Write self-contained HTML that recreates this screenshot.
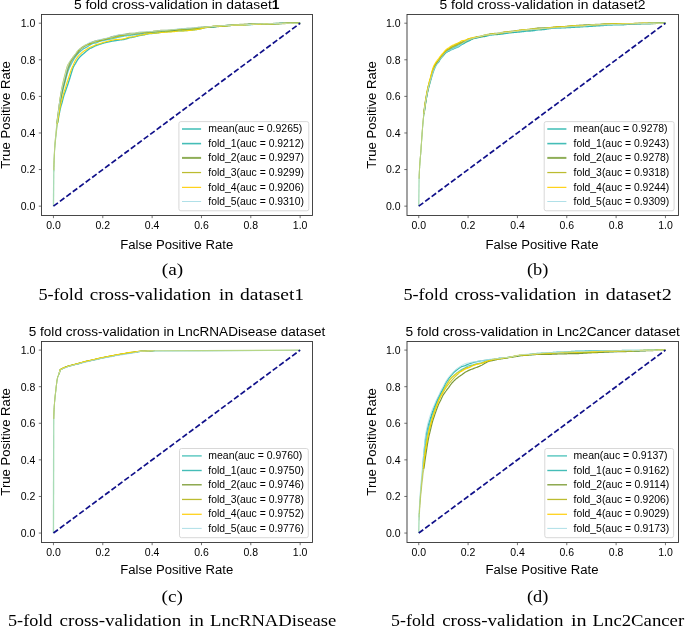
<!DOCTYPE html>
<html><head><meta charset="utf-8"><title>5-fold cross-validation ROC curves</title>
<style>
html,body{margin:0;padding:0;background:#fff;}
body{width:685px;height:628px;overflow:hidden;font-family:"Liberation Sans",sans-serif;}
svg{display:block;will-change:transform}
text{fill:#000}
</style></head><body>
<svg width="685" height="628" viewBox="0 0 685 628">
<defs><filter id="soft" x="-5%" y="-5%" width="110%" height="110%"><feGaussianBlur stdDeviation="0.38"/></filter></defs>
<rect width="685" height="628" fill="#fff"/>
<g transform="translate(0,0)">
<g filter="url(#soft)">
<polyline points="53.83,170.67 53.87,168.27 53.91,166.24 53.95,164.72 53.99,163.42 54.04,162.11 54.09,160.79 54.14,159.48 54.20,158.16 54.25,156.86 54.31,155.57 54.37,154.30 54.43,153.05 54.50,151.82 54.56,150.61 54.63,149.43 54.71,148.27 54.78,147.15 54.86,146.07 54.93,145.01 55.01,143.99 55.10,143.01 55.18,142.06 55.27,141.14 55.36,140.23 55.45,139.33 55.55,138.43 55.65,137.52 55.75,136.57 55.85,135.59 55.95,134.56 56.06,133.50 56.17,132.42 56.28,131.33 56.40,130.25 56.51,129.20 56.63,128.16 56.76,127.13 56.88,126.11 57.01,125.11 57.14,124.11 57.27,123.12" fill="none" stroke="#20b2aa" stroke-opacity="0.39" stroke-width="0.85" stroke-linejoin="round"/>
<polyline points="57.27,123.12 57.40,122.11 57.54,121.11 57.68,120.11 57.82,119.11 57.97,118.11 58.11,117.11 58.26,116.10 58.42,115.09 58.57,114.08 58.73,113.06 58.89,112.02 59.05,110.97 59.22,109.91 59.39,108.85 59.56,107.74 59.73,106.62 59.91,105.50 60.09,104.39 60.27,103.28 60.45,102.19 60.64,101.11 60.83,100.08 61.02,99.06 61.22,98.06 61.41,97.08 61.62,96.09 61.82,95.11 62.02,94.14 62.23,93.18 62.44,92.22 62.66,91.28 62.88,90.34 63.09,89.39 63.32,88.45 63.54,87.51 63.77,86.63 64.00,85.76 64.23,84.89 64.47,84.01 64.71,83.11 64.95,82.21 65.20,81.29 65.44,80.31 65.69,79.33 65.95,78.36 66.20,77.40 66.46,76.44 66.72,75.50 66.99,74.58 67.26,73.63 67.53,72.72 67.80,71.83 68.08,71.00 68.35,70.21 68.64,69.44 68.92,68.69 69.21,68.02 69.50,67.37 69.79,66.74 70.09,66.11 70.39,65.50 70.69,64.91 70.99,64.33 71.30,63.72 71.61,63.13 71.93,62.55 72.24,61.97 72.56,61.39 72.88,60.83 73.21,60.28 73.54,59.74 73.87,59.20 74.20,58.68 74.54,58.16 74.88,57.65 75.22,57.14 75.57,56.64 75.92,56.18 76.27,55.73 76.63,55.29 76.98,54.86 77.35,54.44 77.71,54.03 78.08,53.63 78.45,53.23 78.82,52.84 79.20,52.46 79.57,52.09 79.96,51.74 80.34,51.39 80.73,51.05 81.12,50.70 81.52,50.37 81.91,50.03 82.31,49.69 82.72,49.36 83.12,49.04 83.53,48.72 83.95,48.50 84.36,48.28 84.78,48.07 85.20,47.87 85.63,47.68 86.05,47.49 86.49,47.31 86.92,46.98 87.36,46.67 87.80,46.36 88.24,46.06 88.69,45.77 89.14,45.47 89.59,45.18 90.05,44.91 90.50,44.64 90.97,44.38 91.43,44.13 91.90,43.87 92.37,43.63 92.85,43.39 93.32,43.31 93.81,43.24 94.29,43.16 94.78,43.09 95.27,43.02 95.76,42.96 96.26,42.89 96.76,42.65 97.26,42.42 97.77,42.18 98.28,41.94 98.79,41.71 99.30,41.47 99.82,41.23 100.34,41.11 100.87,40.98 101.40,40.87 101.93,40.76 102.47,40.66 103.00,40.56 103.54,40.45 104.09,40.33 104.64,40.22 105.19,40.11 105.74,40.00 106.30,39.89 106.86,39.78 107.42,39.68 107.99,39.56 108.56,39.45 109.13,39.34 109.71,39.23 110.29,39.12 110.87,39.01 111.46,38.90 112.05,38.74 112.64,38.59 113.24,38.45 113.84,38.30 114.44,38.15 115.05,38.00 115.66,37.84 116.27,37.70 116.89,37.55 117.51,37.40 118.13,37.27 118.75,37.13 119.38,36.99 120.01,36.85 120.65,36.71 121.29,36.59 121.93,36.46 122.58,36.33 123.23,36.20 123.88,36.06 124.53,35.92 125.19,35.85 125.85,35.79 126.52,35.72 127.19,35.65 127.86,35.58 128.54,35.51 129.21,35.43 129.90,35.33 130.58,35.23 131.27,35.14 131.96,35.04 132.66,34.95 133.36,34.85 134.06,34.76 134.76,34.69 135.47,34.62 136.18,34.54 136.90,34.46 137.62,34.38 138.34,34.30 139.07,34.22 139.80,34.02 140.53,33.82 141.26,33.64 142.00,33.45 142.74,33.27 143.49,33.09 144.24,32.92 144.99,32.85 145.75,32.79 146.51,32.73 147.27,32.68 148.04,32.63 148.81,32.58 149.58,32.54 150.36,32.47 151.14,32.41 151.92,32.35 152.71,32.30 153.50,32.24 154.29,32.18 155.09,32.13 155.89,32.10 156.69,32.08 157.50,32.06 158.31,32.03 159.12,32.00 159.94,31.97 160.76,31.94 161.58,31.77 162.41,31.60 163.24,31.43 164.08,31.26 164.92,31.09 165.76,30.92 166.60,30.75 167.45,30.74 168.30,30.73 169.16,30.73 170.02,30.73 170.88,30.72 171.74,30.72 172.61,30.72 173.49,30.60 174.36,30.49 175.24,30.37 176.13,30.26 177.01,30.14 177.90,30.03 178.80,29.92 179.69,29.91 180.59,29.89 181.50,29.87 182.41,29.86 183.32,29.84 184.23,29.82 185.15,29.79 186.07,29.70 187.00,29.61 187.92,29.52 188.86,29.43 189.79,29.33 190.73,29.23 191.67,29.12 192.62,29.04 193.57,28.95 194.52,28.86 195.48,28.77 196.44,28.67 197.40,28.56 198.37,28.44 199.34,28.29 200.32,28.13 201.29,27.96 202.27,27.79 203.26,27.62 204.25,27.45 205.24,27.29 206.24,27.15 207.24,27.03 208.24,26.92 209.24,26.82 210.25,26.74 211.27,26.66 212.28,26.58 213.31,26.54 214.33,26.50 215.36,26.45 216.39,26.41 217.42,26.37 218.46,26.33 219.50,26.29 220.55,26.17 221.60,26.05 222.65,25.93 223.71,25.82 224.77,25.70 225.83,25.59 226.90,25.48 227.97,25.44 229.04,25.40 230.12,25.36 231.20,25.31 232.29,25.27 233.38,25.24 234.47,25.20 235.56,25.12 236.66,25.04 237.77,24.96 238.87,24.89 239.98,24.81 241.10,24.74 242.21,24.67 243.34,24.64 244.46,24.62 245.59,24.60 246.72,24.58 247.86,24.56 249.00,24.54 250.14,24.52 251.29,24.49 252.44,24.45 253.59,24.42 254.75,24.39 255.91,24.35 257.07,24.32 258.24,24.28 259.41,24.24 260.59,24.20 261.77,24.15 262.95,24.11 264.14,24.06 265.33,24.02 266.52,23.98 267.72,23.92 268.92,23.86 270.13,23.80 271.34,23.74 272.55,23.69 273.76,23.63 274.98,23.58 276.21,23.53 277.43,23.48 278.66,23.44 279.90,23.39 281.14,23.35 282.38,23.30 283.62,23.26 284.87,23.26 286.13,23.26 287.38,23.26 288.64,23.26 289.91,23.26 291.17,23.26 292.44,23.26 293.72,23.26 295.00,23.26 296.28,23.26 297.57,23.26 298.86,23.26 300.15,23.20" fill="none" stroke="#20b2aa" stroke-opacity="0.7" stroke-width="1.4" stroke-linejoin="round"/>
<polyline points="53.83,171.51 53.87,169.17 53.91,167.20 53.95,165.74 53.99,164.50 54.04,163.25 54.09,161.99 54.14,160.72 54.20,159.46 54.25,158.20 54.31,156.95 54.37,155.71 54.43,154.48 54.50,153.28 54.56,152.10 54.63,150.95 54.71,149.83 54.78,148.74 54.86,147.68 54.93,146.65 55.01,145.66 55.10,144.70 55.18,143.78 55.27,142.88 55.36,142.01 55.45,141.16 55.55,140.32 55.65,139.48 55.75,138.63 55.85,137.77 55.95,136.87 56.06,135.93 56.17,134.93 56.28,133.90 56.40,132.87 56.51,131.85 56.63,130.83 56.76,129.82 56.88,128.81 57.01,127.82 57.14,126.83 57.27,125.85 57.40,124.88 57.54,123.93 57.68,122.99" fill="none" stroke="#20b2aa" stroke-opacity="0.48" stroke-width="0.85" stroke-linejoin="round"/>
<polyline points="57.68,122.99 57.82,122.06 57.97,121.14 58.11,120.23 58.26,119.33 58.42,118.43 58.57,117.55 58.73,116.67 58.89,115.80 59.05,114.94 59.22,114.08 59.39,113.22 59.56,112.35 59.73,111.48 59.91,110.63 60.09,109.78 60.27,108.94 60.45,108.10 60.64,107.27 60.83,106.59 61.02,105.93 61.22,105.26 61.41,104.61 61.62,103.97 61.82,103.34 62.02,102.72 62.23,101.88 62.44,101.03 62.66,100.19 62.88,99.33 63.09,98.47 63.32,97.61 63.54,96.75 63.77,96.03 64.00,95.32 64.23,94.62 64.47,93.93 64.71,93.25 64.95,92.58 65.20,91.91 65.44,91.22 65.69,90.52 65.95,89.81 66.20,89.08 66.46,88.34 66.72,87.60 66.99,86.86 67.26,86.08 67.53,85.28 67.80,84.47 68.08,83.64 68.35,82.78 68.64,81.89 68.92,80.98 69.21,80.10 69.50,79.19 69.79,78.25 70.09,77.30 70.39,76.34 70.69,75.37 70.99,74.39 71.30,73.34 71.61,72.29 71.93,71.27 72.24,70.26 72.56,69.29 72.88,68.36 73.21,67.47 73.54,66.76 73.87,66.11 74.20,65.52 74.54,64.96 74.88,64.41 75.22,63.87 75.57,63.35 75.92,62.69 76.27,62.04 76.63,61.41 76.98,60.79 77.35,60.19 77.71,59.60 78.08,59.02 78.45,58.57 78.82,58.13 79.20,57.70 79.57,57.28 79.96,56.89 80.34,56.50 80.73,56.12 81.12,55.74 81.52,55.37 81.91,55.01 82.31,54.66 82.72,54.33 83.12,54.00 83.53,53.68 83.95,53.28 84.36,52.90 84.78,52.51 85.20,52.14 85.63,51.77 86.05,51.42 86.49,51.07 86.92,50.71 87.36,50.35 87.80,50.01 88.24,49.67 88.69,49.34 89.14,49.01 89.59,48.69 90.05,48.47 90.50,48.25 90.97,48.02 91.43,47.80 91.90,47.58 92.37,47.36 92.85,47.15 93.32,46.90 93.81,46.66 94.29,46.42 94.78,46.18 95.27,45.95 95.76,45.72 96.26,45.50 96.76,45.31 97.26,45.12 97.77,44.94 98.28,44.76 98.79,44.59 99.30,44.44 99.82,44.28 100.34,44.10 100.87,43.92 101.40,43.74 101.93,43.57 102.47,43.40 103.00,43.24 103.54,43.08 104.09,42.95 104.64,42.82 105.19,42.69 105.74,42.56 106.30,42.43 106.86,42.31 107.42,42.18 107.99,42.05 108.56,41.92 109.13,41.78 109.71,41.65 110.29,41.51 110.87,41.37 111.46,41.24 112.05,41.15 112.64,41.06 113.24,40.97 113.84,40.88 114.44,40.79 115.05,40.71 115.66,40.62 116.27,40.52 116.89,40.42 117.51,40.33 118.13,40.23 118.75,40.14 119.38,40.04 120.01,39.95 120.65,39.88 121.29,39.81 121.93,39.74 122.58,39.66 123.23,39.59 123.88,39.51 124.53,39.43 125.19,39.20 125.85,38.97 126.52,38.74 127.19,38.51 127.86,38.28 128.54,38.05 129.21,37.82 129.90,37.70 130.58,37.59 131.27,37.47 131.96,37.35 132.66,37.23 133.36,37.10 134.06,36.97 134.76,36.79 135.47,36.61 136.18,36.42 136.90,36.23 137.62,36.05 138.34,35.85 139.07,35.66 139.80,35.52 140.53,35.38 141.26,35.25 142.00,35.11 142.74,34.98 143.49,34.86 144.24,34.74 144.99,34.55 145.75,34.38 146.51,34.21 147.27,34.06 148.04,33.92 148.81,33.78 149.58,33.65 150.36,33.59 151.14,33.54 151.92,33.48 152.71,33.43 153.50,33.38 154.29,33.33 155.09,33.28 155.89,33.15 156.69,33.01 157.50,32.88 158.31,32.75 159.12,32.63 159.94,32.50 160.76,32.37 161.58,32.28 162.41,32.19 163.24,32.09 164.08,32.00 164.92,31.90 165.76,31.80 166.60,31.71 167.45,31.67 168.30,31.62 169.16,31.57 170.02,31.53 170.88,31.49 171.74,31.44 172.61,31.40 173.49,31.32 174.36,31.25 175.24,31.17 176.13,31.09 177.01,31.02 177.90,30.94 178.80,30.86 179.69,30.84 180.59,30.81 181.50,30.78 182.41,30.75 183.32,30.72 184.23,30.69 185.15,30.65 186.07,30.58 187.00,30.51 187.92,30.43 188.86,30.35 189.79,30.27 190.73,30.19 191.67,30.11 192.62,29.99 193.57,29.88 194.52,29.76 195.48,29.63 196.44,29.50 197.40,29.35 198.37,29.18 199.34,28.99 200.32,28.79 201.29,28.57 202.27,28.35 203.26,28.12 204.25,27.89 205.24,27.67 206.24,27.55 207.24,27.44 208.24,27.35 209.24,27.28 210.25,27.25 211.27,27.22 212.28,27.19 213.31,27.04 214.33,26.89 215.36,26.74 216.39,26.59 217.42,26.45 218.46,26.31 219.50,26.17 220.55,26.11 221.60,26.05 222.65,26.00 223.71,25.95 224.77,25.89 225.83,25.84 226.90,25.79 227.97,25.68 229.04,25.58 230.12,25.47 231.20,25.37 232.29,25.27 233.38,25.17 234.47,25.08 235.56,25.05 236.66,25.03 237.77,25.00 238.87,24.98 239.98,24.96 241.10,24.94 242.21,24.92 243.34,24.85 244.46,24.78 245.59,24.72 246.72,24.65 247.86,24.59 249.00,24.53 250.14,24.47 251.29,24.42 252.44,24.36 253.59,24.31 254.75,24.25 255.91,24.20 257.07,24.15 258.24,24.10 259.41,24.07 260.59,24.05 261.77,24.03 262.95,24.01 264.14,23.99 265.33,23.96 266.52,23.94 267.72,23.91 268.92,23.88 270.13,23.85 271.34,23.82 272.55,23.79 273.76,23.76 274.98,23.73 276.21,23.67 277.43,23.62 278.66,23.57 279.90,23.52 281.14,23.47 282.38,23.42 283.62,23.37 284.87,23.36 286.13,23.35 287.38,23.33 288.64,23.32 289.91,23.31 291.17,23.30 292.44,23.30 293.72,23.28 295.00,23.26 296.28,23.25 297.57,23.24 298.86,23.23 300.15,23.20" fill="none" stroke="#20b2aa" stroke-opacity="0.88" stroke-width="1.35" stroke-linejoin="round"/>
<polyline points="53.83,170.22 53.87,167.78 53.91,165.72 53.95,164.16 53.99,162.83 54.04,161.48 54.09,160.13 54.14,158.78 54.20,157.43 54.25,156.10 54.31,154.77 54.37,153.47 54.43,152.19 54.50,150.93 54.56,149.70 54.63,148.51 54.71,147.34 54.78,146.21 54.86,145.12 54.93,144.05 55.01,143.02 55.10,142.04 55.18,141.09 55.27,140.16 55.36,139.24 55.45,138.33 55.55,137.41 55.65,136.48 55.75,135.49 55.85,134.46 55.95,133.36 56.06,132.25 56.17,131.14 56.28,130.04 56.40,128.95 56.51,127.86 56.63,126.78 56.76,125.71 56.88,124.65 57.01,123.60" fill="none" stroke="#6b8e23" stroke-opacity="0.40" stroke-width="0.85" stroke-linejoin="round"/>
<polyline points="57.01,123.60 57.14,122.56 57.27,121.52 57.40,120.52 57.54,119.52 57.68,118.52 57.82,117.52 57.97,116.51 58.11,115.50 58.26,114.48 58.42,113.34 58.57,112.17 58.73,110.97 58.89,109.74 59.05,108.50 59.22,107.23 59.39,105.95 59.56,104.78 59.73,103.62 59.91,102.46 60.09,101.30 60.27,100.16 60.45,99.03 60.64,97.93 60.83,96.78 61.02,95.69 61.22,94.64 61.41,93.63 61.62,92.64 61.82,91.66 62.02,90.70 62.23,89.79 62.44,88.91 62.66,88.03 62.88,87.17 63.09,86.31 63.32,85.47 63.54,84.64 63.77,83.74 64.00,82.85 64.23,81.94 64.47,81.02 64.71,80.07 64.95,79.09 65.20,78.11 65.44,77.13 65.69,76.12 65.95,75.12 66.20,74.13 66.46,73.15 66.72,72.15 66.99,71.19 67.26,70.27 67.53,69.39 67.80,68.55 68.08,67.78 68.35,67.05 68.64,66.36 68.92,65.68 69.21,64.92 69.50,64.19 69.79,63.49 70.09,62.80 70.39,62.14 70.69,61.53 70.99,60.94 71.30,60.44 71.61,59.97 71.93,59.51 72.24,59.06 72.56,58.63 72.88,58.20 73.21,57.76 73.54,57.35 73.87,56.94 74.20,56.55 74.54,56.15 74.88,55.75 75.22,55.34 75.57,54.94 75.92,54.49 76.27,54.06 76.63,53.63 76.98,53.20 77.35,52.79 77.71,52.40 78.08,52.00 78.45,51.50 78.82,51.01 79.20,50.53 79.57,50.06 79.96,49.61 80.34,49.16 80.73,48.73 81.12,48.41 81.52,48.10 81.91,47.79 82.31,47.50 82.72,47.20 83.12,46.92 83.53,46.64 83.95,46.38 84.36,46.12 84.78,45.86 85.20,45.63 85.63,45.39 86.05,45.16 86.49,44.94 86.92,44.74 87.36,44.53 87.80,44.34 88.24,44.16 88.69,43.98 89.14,43.80 89.59,43.64 90.05,43.40 90.50,43.16 90.97,42.93 91.43,42.70 91.90,42.47 92.37,42.26 92.85,42.04 93.32,41.87 93.81,41.71 94.29,41.55 94.78,41.39 95.27,41.24 95.76,41.10 96.26,40.96 96.76,40.87 97.26,40.78 97.77,40.69 98.28,40.60 98.79,40.50 99.30,40.41 99.82,40.33 100.34,40.19 100.87,40.06 101.40,39.92 101.93,39.77 102.47,39.63 103.00,39.48 103.54,39.35 104.09,39.25 104.64,39.15 105.19,39.05 105.74,38.96 106.30,38.86 106.86,38.76 107.42,38.67 107.99,38.43 108.56,38.20 109.13,37.96 109.71,37.72 110.29,37.49 110.87,37.25 111.46,37.02 112.05,36.90 112.64,36.78 113.24,36.66 113.84,36.53 114.44,36.40 115.05,36.27 115.66,36.15 116.27,36.01 116.89,35.87 117.51,35.73 118.13,35.60 118.75,35.46 119.38,35.33 120.01,35.20 120.65,35.12 121.29,35.04 121.93,34.96 122.58,34.89 123.23,34.80 123.88,34.72 124.53,34.64 125.19,34.51 125.85,34.36 126.52,34.22 127.19,34.09 127.86,33.96 128.54,33.83 129.21,33.70 129.90,33.70 130.58,33.70 131.27,33.70 131.96,33.70 132.66,33.70 133.36,33.70 134.06,33.70 134.76,33.65 135.47,33.48 136.18,33.32 136.90,33.16 137.62,32.99 138.34,32.82 139.07,32.66 139.80,32.66 140.53,32.66 141.26,32.66 142.00,32.66 142.74,32.66 143.49,32.66 144.24,32.66 144.99,32.61 145.75,32.53 146.51,32.46 147.27,32.38 148.04,32.31 148.81,32.25 149.58,32.18 150.36,32.08 151.14,31.98 151.92,31.88 152.71,31.78 153.50,31.67 154.29,31.57 155.09,31.47 155.89,31.36 156.69,31.25 157.50,31.14 158.31,31.03 159.12,30.92 159.94,30.81 160.76,30.70 161.58,30.70 162.41,30.70 163.24,30.70 164.08,30.70 164.92,30.70 165.76,30.70 166.60,30.70 167.45,30.68 168.30,30.63 169.16,30.59 170.02,30.53 170.88,30.48 171.74,30.42 172.61,30.36 173.49,30.24 174.36,30.12 175.24,30.00 176.13,29.89 177.01,29.77 177.90,29.65 178.80,29.53 179.69,29.43 180.59,29.33 181.50,29.23 182.41,29.13 183.32,29.03 184.23,28.93 185.15,28.83 186.07,28.78 187.00,28.73 187.92,28.68 188.86,28.62 189.79,28.57 190.73,28.52 191.67,28.47 192.62,28.36 193.57,28.25 194.52,28.13 195.48,28.02 196.44,27.92 197.40,27.81 198.37,27.70 199.34,27.63 200.32,27.56 201.29,27.48 202.27,27.40 203.26,27.32 204.25,27.24 205.24,27.15 206.24,27.08 207.24,27.01 208.24,26.94 209.24,26.88 210.25,26.82 211.27,26.76 212.28,26.70 213.31,26.63 214.33,26.56 215.36,26.49 216.39,26.41 217.42,26.34 218.46,26.27 219.50,26.20 220.55,26.11 221.60,26.02 222.65,25.93 223.71,25.85 224.77,25.76 225.83,25.67 226.90,25.59 227.97,25.49 229.04,25.40 230.12,25.31 231.20,25.22 232.29,25.13 233.38,25.04 234.47,24.95 235.56,24.91 236.66,24.86 237.77,24.81 238.87,24.77 239.98,24.73 241.10,24.68 242.21,24.65 243.34,24.56 244.46,24.48 245.59,24.41 246.72,24.34 247.86,24.26 249.00,24.20 250.14,24.13 251.29,24.13 252.44,24.13 253.59,24.12 254.75,24.12 255.91,24.12 257.07,24.12 258.24,24.11 259.41,24.08 260.59,24.05 261.77,24.02 262.95,23.99 264.14,23.96 265.33,23.93 266.52,23.90 267.72,23.87 268.92,23.84 270.13,23.82 271.34,23.79 272.55,23.76 273.76,23.73 274.98,23.70 276.21,23.64 277.43,23.58 278.66,23.52 279.90,23.46 281.14,23.40 282.38,23.35 283.62,23.30 284.87,23.27 286.13,23.24 287.38,23.22 288.64,23.20 289.91,23.20 291.17,23.20 292.44,23.20 293.72,23.20 295.00,23.20 296.28,23.20 297.57,23.20 298.86,23.20 300.15,23.20" fill="none" stroke="#6b8e23" stroke-opacity="0.72" stroke-width="1.75" stroke-linejoin="round"/>
<polyline points="53.83,170.05 53.87,167.59 53.91,165.51 53.95,163.94 53.99,162.59 54.04,161.22 54.09,159.85 54.14,158.49 54.20,157.13 54.25,155.79 54.31,154.47 54.37,153.16 54.43,151.88 54.50,150.63 54.56,149.39 54.63,148.19 54.71,147.02 54.78,145.89 54.86,144.79 54.93,143.73 55.01,142.69 55.10,141.69 55.18,140.71 55.27,139.74 55.36,138.79 55.45,137.83 55.55,136.86 55.65,135.87 55.75,134.85 55.85,133.78 55.95,132.64 56.06,131.48 56.17,130.34 56.28,129.21 56.40,128.09 56.51,126.95 56.63,125.82 56.76,124.70 56.88,123.59" fill="none" stroke="#bfbf00" stroke-opacity="0.45" stroke-width="0.85" stroke-linejoin="round"/>
<polyline points="56.88,123.59 57.01,122.48 57.14,121.38 57.27,120.28 57.40,119.24 57.54,118.20 57.68,117.16 57.82,116.11 57.97,115.05 58.11,113.98 58.26,112.89 58.42,111.71 58.57,110.50 58.73,109.24 58.89,107.95 59.05,106.63 59.22,105.29 59.39,103.93 59.56,102.57 59.73,101.21 59.91,99.85 60.09,98.50 60.27,97.17 60.45,95.86 60.64,94.59 60.83,93.40 61.02,92.27 61.22,91.20 61.41,90.16 61.62,89.14 61.82,88.14 62.02,87.16 62.23,86.11 62.44,85.09 62.66,84.06 62.88,83.05 63.09,82.07 63.32,81.10 63.54,80.13 63.77,79.24 64.00,78.34 64.23,77.42 64.47,76.49 64.71,75.53 64.95,74.55 65.20,73.57 65.44,72.59 65.69,71.59 65.95,70.64 66.20,69.73 66.46,68.82 66.72,67.93 66.99,67.06 67.26,66.30 67.53,65.61 67.80,64.98 68.08,64.44 68.35,63.98 68.64,63.54 68.92,63.14 69.21,62.66 69.50,62.19 69.79,61.73 70.09,61.30 70.39,60.89 70.69,60.49 70.99,60.11 71.30,59.67 71.61,59.23 71.93,58.78 72.24,58.31 72.56,57.82 72.88,57.33 73.21,56.82 73.54,56.42 73.87,56.02 74.20,55.62 74.54,55.23 74.88,54.82 75.22,54.42 75.57,54.01 75.92,53.46 76.27,52.92 76.63,52.38 76.98,51.85 77.35,51.33 77.71,50.83 78.08,50.34 78.45,50.04 78.82,49.76 79.20,49.50 79.57,49.27 79.96,49.05 80.34,48.83 80.73,48.63 81.12,48.28 81.52,47.96 81.91,47.64 82.31,47.32 82.72,47.02 83.12,46.72 83.53,46.43 83.95,46.19 84.36,45.98 84.78,45.76 85.20,45.55 85.63,45.35 86.05,45.15 86.49,44.97 86.92,44.84 87.36,44.72 87.80,44.60 88.24,44.48 88.69,44.37 89.14,44.26 89.59,44.16 90.05,43.93 90.50,43.70 90.97,43.48 91.43,43.26 91.90,43.04 92.37,42.82 92.85,42.60 93.32,42.46 93.81,42.33 94.29,42.19 94.78,42.06 95.27,41.93 95.76,41.81 96.26,41.69 96.76,41.59 97.26,41.49 97.77,41.39 98.28,41.29 98.79,41.19 99.30,41.08 99.82,40.98 100.34,40.75 100.87,40.51 101.40,40.28 101.93,40.05 102.47,39.82 103.00,39.59 103.54,39.37 104.09,39.24 104.64,39.11 105.19,38.98 105.74,38.86 106.30,38.73 106.86,38.61 107.42,38.49 107.99,38.40 108.56,38.32 109.13,38.23 109.71,38.14 110.29,38.05 110.87,37.96 111.46,37.87 112.05,37.76 112.64,37.66 113.24,37.55 113.84,37.45 114.44,37.34 115.05,37.23 115.66,37.12 116.27,36.95 116.89,36.78 117.51,36.61 118.13,36.43 118.75,36.26 119.38,36.08 120.01,35.91 120.65,35.79 121.29,35.67 121.93,35.55 122.58,35.43 123.23,35.31 123.88,35.19 124.53,35.07 125.19,34.91 125.85,34.75 126.52,34.59 127.19,34.43 127.86,34.28 128.54,34.13 129.21,33.97 129.90,33.90 130.58,33.84 131.27,33.77 131.96,33.71 132.66,33.65 133.36,33.59 134.06,33.53 134.76,33.41 135.47,33.29 136.18,33.17 136.90,33.05 137.62,32.92 138.34,32.80 139.07,32.69 139.80,32.65 140.53,32.61 141.26,32.58 142.00,32.55 142.74,32.52 143.49,32.49 144.24,32.46 144.99,32.37 145.75,32.28 146.51,32.20 147.27,32.12 148.04,32.04 148.81,31.97 149.58,31.89 150.36,31.79 151.14,31.69 151.92,31.59 152.71,31.49 153.50,31.39 154.29,31.30 155.09,31.20 155.89,31.15 156.69,31.09 157.50,31.04 158.31,30.98 159.12,30.93 159.94,30.87 160.76,30.81 161.58,30.77 162.41,30.73 163.24,30.69 164.08,30.65 164.92,30.61 165.76,30.56 166.60,30.52 167.45,30.41 168.30,30.29 169.16,30.18 170.02,30.07 170.88,29.96 171.74,29.85 172.61,29.75 173.49,29.72 174.36,29.69 175.24,29.66 176.13,29.64 177.01,29.61 177.90,29.58 178.80,29.55 179.69,29.48 180.59,29.41 181.50,29.35 182.41,29.28 183.32,29.21 184.23,29.14 185.15,29.06 186.07,29.05 187.00,29.05 187.92,29.04 188.86,29.03 189.79,29.02 190.73,29.01 191.67,29.00 192.62,28.89 193.57,28.78 194.52,28.67 195.48,28.55 196.44,28.44 197.40,28.32 198.37,28.19 199.34,28.03 200.32,27.87 201.29,27.71 202.27,27.55 203.26,27.38 204.25,27.22 205.24,27.06 206.24,26.95 207.24,26.85 208.24,26.75 209.24,26.66 210.25,26.57 211.27,26.49 212.28,26.40 213.31,26.33 214.33,26.26 215.36,26.18 216.39,26.11 217.42,26.04 218.46,25.96 219.50,25.89 220.55,25.84 221.60,25.79 222.65,25.74 223.71,25.68 224.77,25.63 225.83,25.58 226.90,25.53 227.97,25.45 229.04,25.37 230.12,25.28 231.20,25.20 232.29,25.12 233.38,25.05 234.47,24.97 235.56,24.93 236.66,24.89 237.77,24.86 238.87,24.82 239.98,24.79 241.10,24.75 242.21,24.72 243.34,24.66 244.46,24.61 245.59,24.55 246.72,24.50 247.86,24.46 249.00,24.41 250.14,24.36 251.29,24.35 252.44,24.34 253.59,24.33 254.75,24.32 255.91,24.30 257.07,24.29 258.24,24.28 259.41,24.20 260.59,24.12 261.77,24.04 262.95,23.96 264.14,23.89 265.33,23.81 266.52,23.74 267.72,23.72 268.92,23.70 270.13,23.68 271.34,23.67 272.55,23.65 273.76,23.63 274.98,23.61 276.21,23.59 277.43,23.57 278.66,23.55 279.90,23.53 281.14,23.51 282.38,23.49 283.62,23.47 284.87,23.41 286.13,23.36 287.38,23.31 288.64,23.26 289.91,23.21 291.17,23.20 292.44,23.20 293.72,23.20 295.00,23.20 296.28,23.20 297.57,23.20 298.86,23.20 300.15,23.20" fill="none" stroke="#bfbf00" stroke-opacity="0.82" stroke-width="1.05" stroke-linejoin="round"/>
<polyline points="53.83,171.14 53.87,168.77 53.91,166.78 53.95,165.30 53.99,164.03 54.04,162.76 54.09,161.47 54.14,160.19 54.20,158.91 54.25,157.63 54.31,156.37 54.37,155.12 54.43,153.90 54.50,152.69 54.56,151.49 54.63,150.31 54.71,149.16 54.78,148.04 54.86,146.95 54.93,145.90 55.01,144.87 55.10,143.90 55.18,142.96 55.27,142.05 55.36,141.16 55.45,140.29 55.55,139.42 55.65,138.56 55.75,137.66 55.85,136.73 55.95,135.77 56.06,134.78 56.17,133.74 56.28,132.67 56.40,131.62 56.51,130.57 56.63,129.53 56.76,128.50 56.88,127.48 57.01,126.47 57.14,125.47 57.27,124.47 57.40,123.49" fill="none" stroke="#ffd700" stroke-opacity="0.51" stroke-width="0.85" stroke-linejoin="round"/>
<polyline points="57.40,123.49 57.54,122.53 57.68,121.57 57.82,120.62 57.97,119.68 58.11,118.74 58.26,117.81 58.42,116.88 58.57,115.94 58.73,115.00 58.89,114.06 59.05,113.13 59.22,112.20 59.39,111.28 59.56,110.28 59.73,109.30 59.91,108.33 60.09,107.37 60.27,106.41 60.45,105.46 60.64,104.52 60.83,103.71 61.02,102.94 61.22,102.18 61.41,101.43 61.62,100.71 61.82,100.00 62.02,99.30 62.23,98.47 62.44,97.65 62.66,96.83 62.88,96.01 63.09,95.20 63.32,94.37 63.54,93.54 63.77,92.84 64.00,92.14 64.23,91.44 64.47,90.76 64.71,90.05 64.95,89.32 65.20,88.59 65.44,87.76 65.69,86.94 65.95,86.08 66.20,85.21 66.46,84.34 66.72,83.43 66.99,82.52 67.26,81.70 67.53,80.88 67.80,80.09 68.08,79.29 68.35,78.49 68.64,77.66 68.92,76.80 69.21,75.87 69.50,74.93 69.79,74.00 70.09,73.07 70.39,72.15 70.69,71.24 70.99,70.32 71.30,69.53 71.61,68.75 71.93,68.00 72.24,67.28 72.56,66.58 72.88,65.89 73.21,65.25 73.54,64.41 73.87,63.62 74.20,62.90 74.54,62.18 74.88,61.48 75.22,60.78 75.57,60.09 75.92,59.54 76.27,58.99 76.63,58.46 76.98,57.94 77.35,57.44 77.71,56.94 78.08,56.44 78.45,56.01 78.82,55.60 79.20,55.20 79.57,54.82 79.96,54.46 80.34,54.12 80.73,53.78 81.12,53.39 81.52,53.01 81.91,52.66 82.31,52.32 82.72,52.00 83.12,51.69 83.53,51.37 83.95,51.07 84.36,50.77 84.78,50.48 85.20,50.19 85.63,49.92 86.05,49.66 86.49,49.41 86.92,49.12 87.36,48.84 87.80,48.57 88.24,48.30 88.69,48.05 89.14,47.80 89.59,47.55 90.05,47.35 90.50,47.14 90.97,46.94 91.43,46.74 91.90,46.54 92.37,46.34 92.85,46.14 93.32,45.92 93.81,45.70 94.29,45.48 94.78,45.27 95.27,45.05 95.76,44.84 96.26,44.64 96.76,44.48 97.26,44.34 97.77,44.21 98.28,44.07 98.79,43.95 99.30,43.82 99.82,43.69 100.34,43.50 100.87,43.31 101.40,43.12 101.93,42.94 102.47,42.75 103.00,42.57 103.54,42.38 104.09,42.23 104.64,42.08 105.19,41.94 105.74,41.80 106.30,41.68 106.86,41.55 107.42,41.42 107.99,41.26 108.56,41.10 109.13,40.94 109.71,40.79 110.29,40.63 110.87,40.48 111.46,40.33 112.05,40.21 112.64,40.09 113.24,39.98 113.84,39.86 114.44,39.75 115.05,39.64 115.66,39.52 116.27,39.50 116.89,39.48 117.51,39.46 118.13,39.45 118.75,39.44 119.38,39.42 120.01,39.40 120.65,39.31 121.29,39.20 121.93,39.09 122.58,38.98 123.23,38.87 123.88,38.76 124.53,38.65 125.19,38.45 125.85,38.24 126.52,38.02 127.19,37.81 127.86,37.59 128.54,37.37 129.21,37.16 129.90,37.09 130.58,37.03 131.27,36.97 131.96,36.91 132.66,36.83 133.36,36.75 134.06,36.66 134.76,36.48 135.47,36.29 136.18,36.10 136.90,35.91 137.62,35.72 138.34,35.53 139.07,35.34 139.80,35.23 140.53,35.11 141.26,34.99 142.00,34.88 142.74,34.78 143.49,34.68 144.24,34.59 144.99,34.39 145.75,34.21 146.51,34.03 147.27,33.86 148.04,33.71 148.81,33.56 149.58,33.42 150.36,33.39 151.14,33.36 151.92,33.33 152.71,33.30 153.50,33.28 154.29,33.25 155.09,33.23 155.89,33.13 156.69,33.04 157.50,32.94 158.31,32.84 159.12,32.74 159.94,32.64 160.76,32.55 161.58,32.49 162.41,32.44 163.24,32.38 164.08,32.31 164.92,32.25 165.76,32.19 166.60,32.13 167.45,32.08 168.30,32.02 169.16,31.97 170.02,31.92 170.88,31.86 171.74,31.82 172.61,31.77 173.49,31.67 174.36,31.57 175.24,31.47 176.13,31.37 177.01,31.26 177.90,31.16 178.80,31.05 179.69,31.02 180.59,30.98 181.50,30.95 182.41,30.91 183.32,30.87 184.23,30.83 185.15,30.79 186.07,30.72 187.00,30.65 187.92,30.58 188.86,30.50 189.79,30.43 190.73,30.35 191.67,30.26 192.62,30.15 193.57,30.04 194.52,29.92 195.48,29.80 196.44,29.67 197.40,29.52 198.37,29.34 199.34,29.13 200.32,28.90 201.29,28.66 202.27,28.42 203.26,28.17 204.25,27.92 205.24,27.68 206.24,27.45 207.24,27.24 208.24,27.04 209.24,26.87 210.25,26.73 211.27,26.60 212.28,26.47 213.31,26.42 214.33,26.37 215.36,26.33 216.39,26.28 217.42,26.24 218.46,26.19 219.50,26.15 220.55,26.11 221.60,26.07 222.65,26.03 223.71,25.99 224.77,25.95 225.83,25.91 226.90,25.88 227.97,25.76 229.04,25.64 230.12,25.53 231.20,25.42 232.29,25.31 233.38,25.20 234.47,25.09 235.56,25.09 236.66,25.09 237.77,25.09 238.87,25.09 239.98,25.09 241.10,25.09 242.21,25.09 243.34,25.03 244.46,24.94 245.59,24.85 246.72,24.76 247.86,24.67 249.00,24.59 250.14,24.51 251.29,24.45 252.44,24.40 253.59,24.35 254.75,24.30 255.91,24.25 257.07,24.20 258.24,24.15 259.41,24.10 260.59,24.06 261.77,24.02 262.95,23.98 264.14,23.94 265.33,23.90 266.52,23.87 267.72,23.85 268.92,23.84 270.13,23.83 271.34,23.82 272.55,23.81 273.76,23.79 274.98,23.78 276.21,23.73 277.43,23.68 278.66,23.63 279.90,23.58 281.14,23.53 282.38,23.48 283.62,23.44 284.87,23.39 286.13,23.34 287.38,23.29 288.64,23.25 289.91,23.21 291.17,23.20 292.44,23.20 293.72,23.20 295.00,23.20 296.28,23.20 297.57,23.20 298.86,23.20 300.15,23.20" fill="none" stroke="#ffd700" stroke-opacity="0.92" stroke-width="1.15" stroke-linejoin="round"/>
<polyline points="53.83,170.00 53.87,167.55 53.91,165.46 53.95,163.89 53.99,162.54 54.04,161.18 54.09,159.81 54.14,158.44 54.20,157.09 54.25,155.74 54.31,154.41 54.37,153.10 54.43,151.81 54.50,150.55 54.56,149.33 54.63,148.14 54.71,146.99 54.78,145.87 54.86,144.79 54.93,143.74 55.01,142.73 55.10,141.74 55.18,140.78 55.27,139.84 55.36,138.91 55.45,137.98 55.55,137.04 55.65,136.08 55.75,135.06 55.85,133.99 55.95,132.84 56.06,131.68 56.17,130.52 56.28,129.37 56.40,128.24 56.51,127.14 56.63,126.05 56.76,124.98 56.88,123.91 57.01,122.84" fill="none" stroke="#b0e0e6" stroke-opacity="0.51" stroke-width="0.85" stroke-linejoin="round"/>
<polyline points="57.01,122.84 57.14,121.79 57.27,120.74 57.40,119.70 57.54,118.65 57.68,117.60 57.82,116.54 57.97,115.47 58.11,114.37 58.26,113.26 58.42,112.09 58.57,110.90 58.73,109.66 58.89,108.40 59.05,107.11 59.22,105.81 59.39,104.49 59.56,103.19 59.73,101.89 59.91,100.60 60.09,99.31 60.27,98.04 60.45,96.79 60.64,95.57 60.83,94.37 61.02,93.20 61.22,92.11 61.41,91.04 61.62,89.99 61.82,88.98 62.02,88.02 62.23,87.10 62.44,86.20 62.66,85.31 62.88,84.42 63.09,83.53 63.32,82.64 63.54,81.74 63.77,80.82 64.00,79.92 64.23,78.97 64.47,78.02 64.71,77.03 64.95,76.05 65.20,75.02 65.44,73.99 65.69,72.95 65.95,71.93 66.20,70.93 66.46,69.94 66.72,68.97 66.99,68.03 67.26,67.17 67.53,66.34 67.80,65.57 68.08,64.83 68.35,64.13 68.64,63.50 68.92,62.91 69.21,62.35 69.50,61.84 69.79,61.35 70.09,60.92 70.39,60.49 70.69,60.07 70.99,59.68 71.30,59.31 71.61,58.96 71.93,58.59 72.24,58.23 72.56,57.85 72.88,57.47 73.21,57.07 73.54,56.60 73.87,56.12 74.20,55.64 74.54,55.16 74.88,54.66 75.22,54.16 75.57,53.65 75.92,53.05 76.27,52.47 76.63,51.90 76.98,51.34 77.35,50.78 77.71,50.23 78.08,49.72 78.45,49.55 78.82,49.38 79.20,49.23 79.57,49.10 79.96,48.99 80.34,48.89 80.73,48.79 81.12,48.37 81.52,47.96 81.91,47.56 82.31,47.16 82.72,46.77 83.12,46.38 83.53,46.00 83.95,45.79 84.36,45.59 84.78,45.39 85.20,45.20 85.63,45.01 86.05,44.83 86.49,44.65 86.92,44.31 87.36,43.98 87.80,43.65 88.24,43.32 88.69,43.00 89.14,42.68 89.59,42.37 90.05,42.31 90.50,42.25 90.97,42.19 91.43,42.14 91.90,42.08 92.37,42.04 92.85,41.99 93.32,41.81 93.81,41.63 94.29,41.46 94.78,41.28 95.27,41.11 95.76,40.93 96.26,40.76 96.76,40.58 97.26,40.41 97.77,40.23 98.28,40.05 98.79,39.87 99.30,39.69 99.82,39.51 100.34,39.44 100.87,39.36 101.40,39.29 101.93,39.22 102.47,39.16 103.00,39.10 103.54,39.04 104.09,38.88 104.64,38.71 105.19,38.54 105.74,38.37 106.30,38.21 106.86,38.04 107.42,37.87 107.99,37.74 108.56,37.62 109.13,37.51 109.71,37.39 110.29,37.28 110.87,37.17 111.46,37.05 112.05,36.84 112.64,36.62 113.24,36.41 113.84,36.20 114.44,35.98 115.05,35.76 115.66,35.53 116.27,35.40 116.89,35.26 117.51,35.11 118.13,34.97 118.75,34.84 119.38,34.71 120.01,34.58 120.65,34.54 121.29,34.50 121.93,34.47 122.58,34.44 123.23,34.41 123.88,34.38 124.53,34.35 125.19,34.28 125.85,34.21 126.52,34.14 127.19,34.08 127.86,34.03 128.54,33.98 129.21,33.94 129.90,33.82 130.58,33.70 131.27,33.61 131.96,33.51 132.66,33.42 133.36,33.31 134.06,33.22 134.76,33.12 135.47,33.03 136.18,32.93 136.90,32.84 137.62,32.75 138.34,32.66 139.07,32.57 139.80,32.46 140.53,32.35 141.26,32.25 142.00,32.14 142.74,32.03 143.49,31.92 144.24,31.82 144.99,31.79 145.75,31.77 146.51,31.75 147.27,31.72 148.04,31.70 148.81,31.68 149.58,31.66 150.36,31.59 151.14,31.52 151.92,31.45 152.71,31.39 153.50,31.33 154.29,31.27 155.09,31.21 155.89,31.12 156.69,31.03 157.50,30.93 158.31,30.84 159.12,30.75 159.94,30.66 160.76,30.57 161.58,30.53 162.41,30.49 163.24,30.45 164.08,30.40 164.92,30.35 165.76,30.30 166.60,30.25 167.45,30.17 168.30,30.09 169.16,30.01 170.02,29.93 170.88,29.85 171.74,29.77 172.61,29.69 173.49,29.57 174.36,29.45 175.24,29.32 176.13,29.19 177.01,29.05 177.90,28.92 178.80,28.78 179.69,28.73 180.59,28.68 181.50,28.63 182.41,28.58 183.32,28.53 184.23,28.47 185.15,28.42 186.07,28.37 187.00,28.32 187.92,28.27 188.86,28.22 189.79,28.18 190.73,28.14 191.67,28.09 192.62,27.97 193.57,27.86 194.52,27.75 195.48,27.65 196.44,27.54 197.40,27.44 198.37,27.35 199.34,27.28 200.32,27.22 201.29,27.16 202.27,27.10 203.26,27.04 204.25,26.97 205.24,26.91 206.24,26.87 207.24,26.83 208.24,26.79 209.24,26.75 210.25,26.70 211.27,26.65 212.28,26.61 213.31,26.50 214.33,26.39 215.36,26.28 216.39,26.17 217.42,26.06 218.46,25.96 219.50,25.85 220.55,25.78 221.60,25.71 222.65,25.64 223.71,25.57 224.77,25.50 225.83,25.43 226.90,25.36 227.97,25.30 229.04,25.25 230.12,25.19 231.20,25.14 232.29,25.09 233.38,25.04 234.47,24.98 235.56,24.97 236.66,24.95 237.77,24.93 238.87,24.91 239.98,24.90 241.10,24.88 242.21,24.87 243.34,24.79 244.46,24.72 245.59,24.65 246.72,24.58 247.86,24.51 249.00,24.45 250.14,24.39 251.29,24.31 252.44,24.24 253.59,24.16 254.75,24.09 255.91,24.02 257.07,23.95 258.24,23.87 259.41,23.87 260.59,23.87 261.77,23.86 262.95,23.86 264.14,23.85 265.33,23.84 266.52,23.84 267.72,23.80 268.92,23.75 270.13,23.71 271.34,23.67 272.55,23.63 273.76,23.59 274.98,23.55 276.21,23.51 277.43,23.47 278.66,23.44 279.90,23.40 281.14,23.36 282.38,23.33 283.62,23.29 284.87,23.29 286.13,23.29 287.38,23.29 288.64,23.29 289.91,23.29 291.17,23.29 292.44,23.29 293.72,23.29 295.00,23.29 296.28,23.29 297.57,23.28 298.86,23.27 300.15,23.20" fill="none" stroke="#b0e0e6" stroke-opacity="0.92" stroke-width="1.0" stroke-linejoin="round"/>
<line x1="53.45" y1="206.15" x2="53.82" y2="170.00" stroke="#a8dcb6" stroke-width="1.35"/>
</g>
<line x1="53.45" y1="206.15" x2="300.15" y2="23.2" stroke="#10108a" stroke-width="1.7" stroke-dasharray="5.6 2.43"/>
<rect x="41.5" y="14.5" width="271.0" height="200.95" fill="none" stroke="#333" stroke-width="0.9"/>
<line x1="53.45" y1="215.45" x2="53.45" y2="218.14999999999998" stroke="#444" stroke-width="0.75"/>
<line x1="41.5" y1="206.15" x2="38.8" y2="206.15" stroke="#444" stroke-width="0.75"/>
<text x="53.45" y="228.90" font-size="10" text-anchor="middle" font-family='"Liberation Sans", sans-serif' textLength="14.60" lengthAdjust="spacingAndGlyphs">0.0</text>
<text x="35.30" y="210.05" font-size="10" text-anchor="end" font-family='"Liberation Sans", sans-serif' textLength="14.60" lengthAdjust="spacingAndGlyphs">0.0</text>
<line x1="102.79" y1="215.45" x2="102.79" y2="218.14999999999998" stroke="#444" stroke-width="0.75"/>
<line x1="41.5" y1="169.56" x2="38.8" y2="169.56" stroke="#444" stroke-width="0.75"/>
<text x="102.79" y="228.90" font-size="10" text-anchor="middle" font-family='"Liberation Sans", sans-serif' textLength="14.60" lengthAdjust="spacingAndGlyphs">0.2</text>
<text x="35.30" y="173.46" font-size="10" text-anchor="end" font-family='"Liberation Sans", sans-serif' textLength="14.60" lengthAdjust="spacingAndGlyphs">0.2</text>
<line x1="152.13" y1="215.45" x2="152.13" y2="218.14999999999998" stroke="#444" stroke-width="0.75"/>
<line x1="41.5" y1="132.97" x2="38.8" y2="132.97" stroke="#444" stroke-width="0.75"/>
<text x="152.13" y="228.90" font-size="10" text-anchor="middle" font-family='"Liberation Sans", sans-serif' textLength="14.60" lengthAdjust="spacingAndGlyphs">0.4</text>
<text x="35.30" y="136.87" font-size="10" text-anchor="end" font-family='"Liberation Sans", sans-serif' textLength="14.60" lengthAdjust="spacingAndGlyphs">0.4</text>
<line x1="201.47" y1="215.45" x2="201.47" y2="218.14999999999998" stroke="#444" stroke-width="0.75"/>
<line x1="41.5" y1="96.38" x2="38.8" y2="96.38" stroke="#444" stroke-width="0.75"/>
<text x="201.47" y="228.90" font-size="10" text-anchor="middle" font-family='"Liberation Sans", sans-serif' textLength="14.60" lengthAdjust="spacingAndGlyphs">0.6</text>
<text x="35.30" y="100.28" font-size="10" text-anchor="end" font-family='"Liberation Sans", sans-serif' textLength="14.60" lengthAdjust="spacingAndGlyphs">0.6</text>
<line x1="250.81" y1="215.45" x2="250.81" y2="218.14999999999998" stroke="#444" stroke-width="0.75"/>
<line x1="41.5" y1="59.79" x2="38.8" y2="59.79" stroke="#444" stroke-width="0.75"/>
<text x="250.81" y="228.90" font-size="10" text-anchor="middle" font-family='"Liberation Sans", sans-serif' textLength="14.60" lengthAdjust="spacingAndGlyphs">0.8</text>
<text x="35.30" y="63.69" font-size="10" text-anchor="end" font-family='"Liberation Sans", sans-serif' textLength="14.60" lengthAdjust="spacingAndGlyphs">0.8</text>
<line x1="300.15" y1="215.45" x2="300.15" y2="218.14999999999998" stroke="#444" stroke-width="0.75"/>
<line x1="41.5" y1="23.20" x2="38.8" y2="23.20" stroke="#444" stroke-width="0.75"/>
<text x="300.15" y="228.90" font-size="10" text-anchor="middle" font-family='"Liberation Sans", sans-serif' textLength="14.60" lengthAdjust="spacingAndGlyphs">1.0</text>
<text x="35.30" y="27.10" font-size="10" text-anchor="end" font-family='"Liberation Sans", sans-serif' textLength="14.60" lengthAdjust="spacingAndGlyphs">1.0</text>
<text x="176.70" y="249.00" font-size="12.5" text-anchor="middle" font-family='"Liberation Sans", sans-serif' textLength="113.00" lengthAdjust="spacingAndGlyphs">False Positive Rate</text>
<g transform="translate(10.3,115.0) rotate(-90)"><text x="0.00" y="0.00" font-size="12.4" text-anchor="middle" font-family='"Liberation Sans", sans-serif' textLength="107.50" lengthAdjust="spacingAndGlyphs">True Positive Rate</text></g>
<text x="176.70" y="9.20" font-size="12.5" text-anchor="middle" font-family='"Liberation Sans", sans-serif' textLength="205.50" lengthAdjust="spacingAndGlyphs">5 fold cross-validation in dataset<tspan font-weight="bold">1</tspan></text>
<rect x="178.9" y="121.6" width="129.90" height="89.2" rx="2" fill="#fff" fill-opacity="0.8" stroke="#d4d4d4" stroke-width="0.9"/>
<line x1="182.0" y1="129.00" x2="201.1" y2="129.00" stroke="#55c6be" stroke-width="1.7"/>
<text x="208.30" y="132.35" font-size="10.2" text-anchor="start" font-family='"Liberation Sans", sans-serif' textLength="94.00" lengthAdjust="spacingAndGlyphs">mean(auc = 0.9265)</text>
<line x1="182.0" y1="143.60" x2="201.1" y2="143.60" stroke="#45bdb7" stroke-width="1.6"/>
<text x="208.30" y="146.90" font-size="10.2" text-anchor="start" font-family='"Liberation Sans", sans-serif' textLength="95.60" lengthAdjust="spacingAndGlyphs">fold_1(auc = 0.9212)</text>
<line x1="182.0" y1="157.90" x2="201.1" y2="157.90" stroke="#8fae58" stroke-width="2.0"/>
<text x="208.30" y="161.45" font-size="10.2" text-anchor="start" font-family='"Liberation Sans", sans-serif' textLength="95.60" lengthAdjust="spacingAndGlyphs">fold_2(auc = 0.9297)</text>
<line x1="182.0" y1="172.55" x2="201.1" y2="172.55" stroke="#bcbc30" stroke-width="1.25"/>
<text x="208.30" y="176.00" font-size="10.2" text-anchor="start" font-family='"Liberation Sans", sans-serif' textLength="95.60" lengthAdjust="spacingAndGlyphs">fold_3(auc = 0.9299)</text>
<line x1="182.0" y1="187.40" x2="201.1" y2="187.40" stroke="#ffd21c" stroke-width="1.25"/>
<text x="208.30" y="190.55" font-size="10.2" text-anchor="start" font-family='"Liberation Sans", sans-serif' textLength="95.60" lengthAdjust="spacingAndGlyphs">fold_4(auc = 0.9206)</text>
<line x1="182.0" y1="201.50" x2="201.1" y2="201.50" stroke="#b0e0e8" stroke-width="1.05"/>
<text x="208.30" y="205.10" font-size="10.2" text-anchor="start" font-family='"Liberation Sans", sans-serif' textLength="95.60" lengthAdjust="spacingAndGlyphs">fold_5(auc = 0.9310)</text>
</g>
<g transform="translate(365.3,0)">
<g filter="url(#soft)">
<polyline points="53.83,178.87 53.87,177.68 53.91,176.52 53.95,175.36 53.99,174.19 54.04,173.02 54.09,171.87 54.14,170.72 54.20,169.58 54.25,168.47 54.31,167.38 54.37,166.31 54.43,165.27 54.50,164.25 54.56,163.26 54.63,162.30 54.71,161.36 54.78,160.44 54.86,159.53 54.93,158.64 55.01,157.74 55.10,156.84 55.18,155.91 55.27,154.95 55.36,153.93 55.45,152.83 55.55,151.64 55.65,150.32 55.75,148.89 55.85,147.42 55.95,145.91 56.06,144.36 56.17,142.77 56.28,141.15 56.40,139.50 56.51,137.84 56.63,136.16 56.76,134.46 56.88,132.76 57.01,131.06 57.14,129.36 57.27,127.68 57.40,126.00 57.54,124.36 57.68,122.76 57.82,121.22 57.97,119.74 58.11,118.34 58.26,117.01 58.42,115.69 58.57,114.39" fill="none" stroke="#20b2aa" stroke-opacity="0.39" stroke-width="0.85" stroke-linejoin="round"/>
<polyline points="58.57,114.39 58.73,113.09 58.89,111.82 59.05,110.55 59.22,109.30 59.39,108.07 59.56,106.85 59.73,105.63 59.91,104.43 60.09,103.25 60.27,102.09 60.45,100.94 60.64,99.80 60.83,98.68 61.02,97.56 61.22,96.47 61.41,95.38 61.62,94.31 61.82,93.25 62.02,92.20 62.23,91.16 62.44,90.14 62.66,89.15 62.88,88.18 63.09,87.23 63.32,86.29 63.54,85.36 63.77,84.51 64.00,83.68 64.23,82.85 64.47,82.02 64.71,81.19 64.95,80.36 65.20,79.51 65.44,78.62 65.69,77.70 65.95,76.77 66.20,75.84 66.46,74.90 66.72,73.96 66.99,73.03 67.26,72.13 67.53,71.26 67.80,70.41 68.08,69.61 68.35,68.86 68.64,68.15 68.92,67.51 69.21,66.95 69.50,66.40 69.79,65.88 70.09,65.37 70.39,64.88 70.69,64.40 70.99,63.94 71.30,63.50 71.61,63.06 71.93,62.64 72.24,62.22 72.56,61.82 72.88,61.41 73.21,61.02 73.54,60.57 73.87,60.12 74.20,59.67 74.54,59.21 74.88,58.75 75.22,58.27 75.57,57.79 75.92,57.36 76.27,56.93 76.63,56.50 76.98,56.09 77.35,55.68 77.71,55.27 78.08,54.87 78.45,54.39 78.82,53.93 79.20,53.48 79.57,53.05 79.96,52.65 80.34,52.29 80.73,51.95 81.12,51.73 81.52,51.52 81.91,51.32 82.31,51.12 82.72,50.93 83.12,50.75 83.53,50.57 83.95,50.29 84.36,50.01 84.78,49.73 85.20,49.46 85.63,49.20 86.05,48.94 86.49,48.67 86.92,48.49 87.36,48.30 87.80,48.10 88.24,47.90 88.69,47.70 89.14,47.50 89.59,47.29 90.05,46.97 90.50,46.64 90.97,46.32 91.43,45.99 91.90,45.67 92.37,45.35 92.85,45.03 93.32,44.83 93.81,44.64 94.29,44.44 94.78,44.23 95.27,44.02 95.76,43.80 96.26,43.57 96.76,43.32 97.26,43.06 97.77,42.79 98.28,42.52 98.79,42.25 99.30,41.98 99.82,41.72 100.34,41.47 100.87,41.23 101.40,41.00 101.93,40.78 102.47,40.58 103.00,40.39 103.54,40.23 104.09,39.98 104.64,39.74 105.19,39.50 105.74,39.27 106.30,39.05 106.86,38.82 107.42,38.61 107.99,38.39 108.56,38.17 109.13,37.96 109.71,37.76 110.29,37.56 110.87,37.37 111.46,37.17 112.05,37.09 112.64,37.01 113.24,36.93 113.84,36.85 114.44,36.77 115.05,36.70 115.66,36.62 116.27,36.53 116.89,36.44 117.51,36.35 118.13,36.26 118.75,36.17 119.38,36.09 120.01,36.00 120.65,35.78 121.29,35.55 121.93,35.34 122.58,35.12 123.23,34.91 123.88,34.69 124.53,34.48 125.19,34.44 125.85,34.40 126.52,34.36 127.19,34.32 127.86,34.28 128.54,34.24 129.21,34.21 129.90,34.11 130.58,34.02 131.27,33.93 131.96,33.84 132.66,33.75 133.36,33.66 134.06,33.57 134.76,33.44 135.47,33.31 136.18,33.18 136.90,33.05 137.62,32.92 138.34,32.79 139.07,32.66 139.80,32.60 140.53,32.53 141.26,32.47 142.00,32.40 142.74,32.34 143.49,32.28 144.24,32.21 144.99,32.17 145.75,32.13 146.51,32.08 147.27,32.04 148.04,32.00 148.81,31.95 149.58,31.91 150.36,31.75 151.14,31.59 151.92,31.44 152.71,31.28 153.50,31.12 154.29,30.97 155.09,30.81 155.89,30.73 156.69,30.66 157.50,30.58 158.31,30.50 159.12,30.43 159.94,30.35 160.76,30.27 161.58,30.17 162.41,30.07 163.24,29.96 164.08,29.86 164.92,29.75 165.76,29.65 166.60,29.55 167.45,29.49 168.30,29.44 169.16,29.38 170.02,29.33 170.88,29.27 171.74,29.22 172.61,29.17 173.49,29.07 174.36,28.97 175.24,28.88 176.13,28.78 177.01,28.69 177.90,28.59 178.80,28.50 179.69,28.42 180.59,28.34 181.50,28.27 182.41,28.20 183.32,28.12 184.23,28.05 185.15,27.97 186.07,27.92 187.00,27.87 187.92,27.81 188.86,27.76 189.79,27.70 190.73,27.65 191.67,27.59 192.62,27.50 193.57,27.41 194.52,27.33 195.48,27.24 196.44,27.15 197.40,27.07 198.37,26.98 199.34,26.89 200.32,26.80 201.29,26.71 202.27,26.62 203.26,26.54 204.25,26.45 205.24,26.36 206.24,26.31 207.24,26.26 208.24,26.21 209.24,26.16 210.25,26.11 211.27,26.06 212.28,26.01 213.31,25.94 214.33,25.88 215.36,25.81 216.39,25.74 217.42,25.68 218.46,25.61 219.50,25.54 220.55,25.49 221.60,25.43 222.65,25.38 223.71,25.33 224.77,25.27 225.83,25.22 226.90,25.17 227.97,25.09 229.04,25.02 230.12,24.94 231.20,24.87 232.29,24.80 233.38,24.73 234.47,24.66 235.56,24.61 236.66,24.56 237.77,24.51 238.87,24.47 239.98,24.42 241.10,24.38 242.21,24.34 243.34,24.30 244.46,24.26 245.59,24.23 246.72,24.20 247.86,24.17 249.00,24.14 250.14,24.11 251.29,24.06 252.44,24.00 253.59,23.95 254.75,23.89 255.91,23.84 257.07,23.78 258.24,23.73 259.41,23.73 260.59,23.73 261.77,23.73 262.95,23.73 264.14,23.73 265.33,23.73 266.52,23.73 267.72,23.73 268.92,23.73 270.13,23.73 271.34,23.73 272.55,23.73 273.76,23.73 274.98,23.69 276.21,23.67 277.43,23.65 278.66,23.63 279.90,23.60 281.14,23.58 282.38,23.56 283.62,23.54 284.87,23.51 286.13,23.48 287.38,23.45 288.64,23.42 289.91,23.39 291.17,23.36 292.44,23.33 293.72,23.32 295.00,23.30 296.28,23.29 297.57,23.27 298.86,23.26 300.15,23.20" fill="none" stroke="#20b2aa" stroke-opacity="0.7" stroke-width="1.4" stroke-linejoin="round"/>
<polyline points="53.83,179.00 53.87,177.82 53.91,176.67 53.95,175.52 53.99,174.36 54.04,173.20 54.09,172.05 54.14,170.91 54.20,169.78 54.25,168.67 54.31,167.58 54.37,166.52 54.43,165.48 54.50,164.47 54.56,163.50 54.63,162.54 54.71,161.61 54.78,160.71 54.86,159.81 54.93,158.93 55.01,158.05 55.10,157.15 55.18,156.22 55.27,155.26 55.36,154.24 55.45,153.14 55.55,151.95 55.65,150.62 55.75,149.21 55.85,147.75 55.95,146.24 56.06,144.70 56.17,143.12 56.28,141.50 56.40,139.86 56.51,138.18 56.63,136.49 56.76,134.78 56.88,133.06 57.01,131.35 57.14,129.63 57.27,127.93 57.40,126.27 57.54,124.64 57.68,123.06 57.82,121.54 57.97,120.08 58.11,118.71 58.26,117.40 58.42,116.08 58.57,114.78 58.73,113.49" fill="none" stroke="#20b2aa" stroke-opacity="0.48" stroke-width="0.85" stroke-linejoin="round"/>
<polyline points="58.73,113.49 58.89,112.22 59.05,110.95 59.22,109.71 59.39,108.48 59.56,107.29 59.73,106.12 59.91,104.97 60.09,103.83 60.27,102.71 60.45,101.61 60.64,100.53 60.83,99.43 61.02,98.36 61.22,97.29 61.41,96.24 61.62,95.21 61.82,94.19 62.02,93.18 62.23,92.19 62.44,91.22 62.66,90.28 62.88,89.36 63.09,88.46 63.32,87.58 63.54,86.72 63.77,85.90 64.00,85.09 64.23,84.28 64.47,83.48 64.71,82.67 64.95,81.86 65.20,81.03 65.44,80.17 65.69,79.30 65.95,78.42 66.20,77.54 66.46,76.66 66.72,75.77 66.99,74.90 67.26,74.01 67.53,73.13 67.80,72.29 68.08,71.48 68.35,70.71 68.64,69.99 68.92,69.33 69.21,68.61 69.50,67.90 69.79,67.21 70.09,66.54 70.39,65.89 70.69,65.25 70.99,64.62 71.30,64.24 71.61,63.86 71.93,63.50 72.24,63.14 72.56,62.79 72.88,62.45 73.21,62.11 73.54,61.57 73.87,61.04 74.20,60.50 74.54,59.96 74.88,59.41 75.22,58.84 75.57,58.27 75.92,57.88 76.27,57.48 76.63,57.08 76.98,56.68 77.35,56.29 77.71,55.91 78.08,55.54 78.45,55.04 78.82,54.56 79.20,54.10 79.57,53.67 79.96,53.28 80.34,52.91 80.73,52.58 81.12,52.33 81.52,52.10 81.91,51.88 82.31,51.66 82.72,51.46 83.12,51.27 83.53,51.08 83.95,50.86 84.36,50.64 84.78,50.42 85.20,50.20 85.63,49.98 86.05,49.76 86.49,49.53 86.92,49.37 87.36,49.20 87.80,49.02 88.24,48.83 88.69,48.63 89.14,48.43 89.59,48.23 90.05,48.06 90.50,47.89 90.97,47.72 91.43,47.55 91.90,47.37 92.37,47.19 92.85,47.00 93.32,46.68 93.81,46.35 94.29,46.02 94.78,45.68 95.27,45.34 95.76,44.99 96.26,44.63 96.76,44.40 97.26,44.14 97.77,43.88 98.28,43.61 98.79,43.32 99.30,43.04 99.82,42.75 100.34,42.46 100.87,42.17 101.40,41.89 101.93,41.64 102.47,41.40 103.00,41.19 103.54,41.01 104.09,40.68 104.64,40.36 105.19,40.04 105.74,39.74 106.30,39.43 106.86,39.14 107.42,38.84 107.99,38.71 108.56,38.58 109.13,38.46 109.71,38.34 110.29,38.23 110.87,38.13 111.46,38.03 112.05,37.86 112.64,37.70 113.24,37.54 113.84,37.39 114.44,37.23 115.05,37.08 115.66,36.93 116.27,36.85 116.89,36.77 117.51,36.69 118.13,36.61 118.75,36.53 119.38,36.46 120.01,36.39 120.65,36.21 121.29,36.03 121.93,35.86 122.58,35.69 123.23,35.52 123.88,35.35 124.53,35.19 125.19,35.11 125.85,35.04 126.52,34.96 127.19,34.89 127.86,34.81 128.54,34.74 129.21,34.67 129.90,34.62 130.58,34.58 131.27,34.53 131.96,34.49 132.66,34.44 133.36,34.40 134.06,34.35 134.76,34.26 135.47,34.16 136.18,34.06 136.90,33.96 137.62,33.86 138.34,33.77 139.07,33.67 139.80,33.55 140.53,33.44 141.26,33.32 142.00,33.21 142.74,33.09 143.49,32.98 144.24,32.87 144.99,32.79 145.75,32.72 146.51,32.65 147.27,32.58 148.04,32.51 148.81,32.44 149.58,32.37 150.36,32.31 151.14,32.24 151.92,32.17 152.71,32.10 153.50,32.03 154.29,31.96 155.09,31.89 155.89,31.79 156.69,31.68 157.50,31.58 158.31,31.47 159.12,31.37 159.94,31.26 160.76,31.16 161.58,31.12 162.41,31.09 163.24,31.05 164.08,31.01 164.92,30.97 165.76,30.94 166.60,30.90 167.45,30.75 168.30,30.61 169.16,30.47 170.02,30.32 170.88,30.18 171.74,30.04 172.61,29.90 173.49,29.85 174.36,29.81 175.24,29.77 176.13,29.72 177.01,29.68 177.90,29.63 178.80,29.59 179.69,29.43 180.59,29.27 181.50,29.10 182.41,28.94 183.32,28.78 184.23,28.62 185.15,28.46 186.07,28.42 187.00,28.38 187.92,28.34 188.86,28.30 189.79,28.26 190.73,28.22 191.67,28.18 192.62,28.12 193.57,28.07 194.52,28.01 195.48,27.96 196.44,27.90 197.40,27.85 198.37,27.79 199.34,27.75 200.32,27.71 201.29,27.67 202.27,27.62 203.26,27.58 204.25,27.54 205.24,27.50 206.24,27.44 207.24,27.38 208.24,27.32 209.24,27.26 210.25,27.20 211.27,27.14 212.28,27.09 213.31,27.02 214.33,26.96 215.36,26.89 216.39,26.83 217.42,26.77 218.46,26.70 219.50,26.64 220.55,26.58 221.60,26.52 222.65,26.46 223.71,26.40 224.77,26.34 225.83,26.28 226.90,26.22 227.97,26.14 229.04,26.07 230.12,26.00 231.20,25.93 232.29,25.86 233.38,25.79 234.47,25.72 235.56,25.64 236.66,25.57 237.77,25.49 238.87,25.42 239.98,25.34 241.10,25.27 242.21,25.20 243.34,25.15 244.46,25.09 245.59,25.04 246.72,24.99 247.86,24.94 249.00,24.90 250.14,24.85 251.29,24.83 252.44,24.82 253.59,24.80 254.75,24.78 255.91,24.76 257.07,24.75 258.24,24.73 259.41,24.63 260.59,24.54 261.77,24.45 262.95,24.36 264.14,24.27 265.33,24.19 266.52,24.10 267.72,24.04 268.92,23.98 270.13,23.93 271.34,23.87 272.55,23.82 273.76,23.76 274.98,23.71 276.21,23.68 277.43,23.65 278.66,23.63 279.90,23.60 281.14,23.58 282.38,23.55 283.62,23.52 284.87,23.48 286.13,23.42 287.38,23.37 288.64,23.33 289.91,23.28 291.17,23.24 292.44,23.20 293.72,23.20 295.00,23.20 296.28,23.20 297.57,23.20 298.86,23.20 300.15,23.20" fill="none" stroke="#20b2aa" stroke-opacity="0.88" stroke-width="1.35" stroke-linejoin="round"/>
<polyline points="53.83,178.78 53.87,177.59 53.91,176.43 53.95,175.27 53.99,174.10 54.04,172.93 54.09,171.77 54.14,170.62 54.20,169.49 54.25,168.37 54.31,167.28 54.37,166.21 54.43,165.16 54.50,164.15 54.56,163.17 54.63,162.21 54.71,161.28 54.78,160.36 54.86,159.47 54.93,158.58 55.01,157.69 55.10,156.77 55.18,155.83 55.27,154.84 55.36,153.80 55.45,152.67 55.55,151.44 55.65,150.08 55.75,148.66 55.85,147.20 55.95,145.69 56.06,144.15 56.17,142.57 56.28,140.96 56.40,139.32 56.51,137.63 56.63,135.91 56.76,134.18 56.88,132.45 57.01,130.70 57.14,128.97 57.27,127.24 57.40,125.56 57.54,123.91 57.68,122.31 57.82,120.76 57.97,119.28 58.11,117.87 58.26,116.53 58.42,115.23 58.57,113.94" fill="none" stroke="#6b8e23" stroke-opacity="0.40" stroke-width="0.85" stroke-linejoin="round"/>
<polyline points="58.57,113.94 58.73,112.67 58.89,111.42 59.05,110.18 59.22,108.95 59.39,107.75 59.56,106.51 59.73,105.29 59.91,104.09 60.09,102.90 60.27,101.73 60.45,100.58 60.64,99.44 60.83,98.30 61.02,97.18 61.22,96.07 61.41,94.97 61.62,93.89 61.82,92.82 62.02,91.76 62.23,90.72 62.44,89.70 62.66,88.71 62.88,87.74 63.09,86.79 63.32,85.86 63.54,84.94 63.77,84.08 64.00,83.23 64.23,82.39 64.47,81.56 64.71,80.72 64.95,79.88 65.20,79.02 65.44,78.12 65.69,77.19 65.95,76.24 66.20,75.29 66.46,74.32 66.72,73.36 66.99,72.42 67.26,71.52 67.53,70.66 67.80,69.82 68.08,69.01 68.35,68.26 68.64,67.56 68.92,66.93 69.21,66.42 69.50,65.92 69.79,65.45 70.09,64.99 70.39,64.56 70.69,64.14 70.99,63.74 71.30,63.27 71.61,62.82 71.93,62.38 72.24,61.94 72.56,61.52 72.88,61.09 73.21,60.67 73.54,60.22 73.87,59.76 74.20,59.30 74.54,58.82 74.88,58.33 75.22,57.84 75.57,57.35 75.92,56.94 76.27,56.53 76.63,56.12 76.98,55.72 77.35,55.32 77.71,54.93 78.08,54.55 78.45,53.97 78.82,53.40 79.20,52.85 79.57,52.31 79.96,51.80 80.34,51.31 80.73,50.84 81.12,50.58 81.52,50.34 81.91,50.10 82.31,49.86 82.72,49.63 83.12,49.40 83.53,49.19 83.95,48.86 84.36,48.54 84.78,48.23 85.20,47.92 85.63,47.61 86.05,47.30 86.49,47.00 86.92,46.81 87.36,46.61 87.80,46.42 88.24,46.22 88.69,46.03 89.14,45.84 89.59,45.65 90.05,45.33 90.50,45.02 90.97,44.71 91.43,44.40 91.90,44.10 92.37,43.80 92.85,43.50 93.32,43.36 93.81,43.21 94.29,43.07 94.78,42.92 95.27,42.77 95.76,42.62 96.26,42.47 96.76,42.26 97.26,42.06 97.77,41.85 98.28,41.64 98.79,41.44 99.30,41.23 99.82,41.03 100.34,40.72 100.87,40.41 101.40,40.11 101.93,39.82 102.47,39.53 103.00,39.26 103.54,38.99 104.09,38.90 104.64,38.81 105.19,38.73 105.74,38.65 106.30,38.56 106.86,38.49 107.42,38.41 107.99,38.22 108.56,38.04 109.13,37.86 109.71,37.68 110.29,37.51 110.87,37.34 111.46,37.17 112.05,37.06 112.64,36.94 113.24,36.83 113.84,36.72 114.44,36.61 115.05,36.50 115.66,36.39 116.27,36.22 116.89,36.05 117.51,35.88 118.13,35.71 118.75,35.54 119.38,35.38 120.01,35.21 120.65,35.07 121.29,34.93 121.93,34.79 122.58,34.65 123.23,34.51 123.88,34.38 124.53,34.24 125.19,34.17 125.85,34.09 126.52,34.02 127.19,33.94 127.86,33.87 128.54,33.79 129.21,33.72 129.90,33.67 130.58,33.62 131.27,33.58 131.96,33.53 132.66,33.48 133.36,33.44 134.06,33.39 134.76,33.22 135.47,33.05 136.18,32.88 136.90,32.71 137.62,32.54 138.34,32.37 139.07,32.21 139.80,32.14 140.53,32.07 141.26,32.00 142.00,31.93 142.74,31.87 143.49,31.80 144.24,31.73 144.99,31.64 145.75,31.55 146.51,31.46 147.27,31.37 148.04,31.28 148.81,31.19 149.58,31.10 150.36,30.98 151.14,30.87 151.92,30.75 152.71,30.64 153.50,30.53 154.29,30.42 155.09,30.31 155.89,30.24 156.69,30.17 157.50,30.10 158.31,30.03 159.12,29.96 159.94,29.89 160.76,29.83 161.58,29.75 162.41,29.68 163.24,29.61 164.08,29.53 164.92,29.46 165.76,29.38 166.60,29.31 167.45,29.15 168.30,29.00 169.16,28.84 170.02,28.69 170.88,28.54 171.74,28.39 172.61,28.23 173.49,28.20 174.36,28.16 175.24,28.12 176.13,28.09 177.01,28.05 177.90,28.01 178.80,27.97 179.69,27.96 180.59,27.94 181.50,27.93 182.41,27.91 183.32,27.89 184.23,27.87 185.15,27.85 186.07,27.71 187.00,27.57 187.92,27.43 188.86,27.30 189.79,27.16 190.73,27.02 191.67,26.89 192.62,26.89 193.57,26.88 194.52,26.88 195.48,26.87 196.44,26.87 197.40,26.86 198.37,26.85 199.34,26.76 200.32,26.66 201.29,26.56 202.27,26.46 203.26,26.37 204.25,26.27 205.24,26.18 206.24,26.10 207.24,26.02 208.24,25.94 209.24,25.86 210.25,25.78 211.27,25.70 212.28,25.62 213.31,25.55 214.33,25.48 215.36,25.40 216.39,25.33 217.42,25.26 218.46,25.19 219.50,25.11 220.55,25.08 221.60,25.04 222.65,25.01 223.71,24.97 224.77,24.94 225.83,24.91 226.90,24.87 227.97,24.81 229.04,24.76 230.12,24.70 231.20,24.65 232.29,24.60 233.38,24.55 234.47,24.50 235.56,24.43 236.66,24.37 237.77,24.30 238.87,24.24 239.98,24.18 241.10,24.12 242.21,24.07 243.34,24.07 244.46,24.07 245.59,24.07 246.72,24.07 247.86,24.07 249.00,24.07 250.14,24.07 251.29,24.07 252.44,24.05 253.59,24.01 254.75,23.97 255.91,23.93 257.07,23.90 258.24,23.86 259.41,23.85 260.59,23.85 261.77,23.85 262.95,23.84 264.14,23.84 265.33,23.84 266.52,23.83 267.72,23.77 268.92,23.70 270.13,23.63 271.34,23.57 272.55,23.50 273.76,23.44 274.98,23.38 276.21,23.38 277.43,23.37 278.66,23.37 279.90,23.36 281.14,23.36 282.38,23.36 283.62,23.35 284.87,23.33 286.13,23.31 287.38,23.30 288.64,23.28 289.91,23.26 291.17,23.25 292.44,23.23 293.72,23.22 295.00,23.21 296.28,23.20 297.57,23.20 298.86,23.20 300.15,23.20" fill="none" stroke="#6b8e23" stroke-opacity="0.72" stroke-width="1.75" stroke-linejoin="round"/>
<polyline points="53.83,178.79 53.87,177.60 53.91,176.44 53.95,175.28 53.99,174.11 54.04,172.94 54.09,171.78 54.14,170.63 54.20,169.49 54.25,168.37 54.31,167.27 54.37,166.20 54.43,165.15 54.50,164.13 54.56,163.14 54.63,162.19 54.71,161.26 54.78,160.35 54.86,159.46 54.93,158.58 55.01,157.70 55.10,156.80 55.18,155.87 55.27,154.90 55.36,153.88 55.45,152.77 55.55,151.57 55.65,150.24 55.75,148.82 55.85,147.35 55.95,145.84 56.06,144.29 56.17,142.71 56.28,141.09 56.40,139.44 56.51,137.74 56.63,136.02 56.76,134.28 56.88,132.52 57.01,130.77 57.14,129.02 57.27,127.28 57.40,125.58 57.54,123.92 57.68,122.30 57.82,120.74 57.97,119.24 58.11,117.82 58.26,116.46 58.42,115.16 58.57,113.86" fill="none" stroke="#bfbf00" stroke-opacity="0.45" stroke-width="0.85" stroke-linejoin="round"/>
<polyline points="58.57,113.86 58.73,112.58 58.89,111.32 59.05,110.07 59.22,108.84 59.39,107.63 59.56,106.37 59.73,105.11 59.91,103.87 60.09,102.65 60.27,101.44 60.45,100.25 60.64,99.07 60.83,97.97 61.02,96.88 61.22,95.81 61.41,94.76 61.62,93.72 61.82,92.69 62.02,91.67 62.23,90.63 62.44,89.62 62.66,88.63 62.88,87.66 63.09,86.71 63.32,85.78 63.54,84.86 63.77,83.99 64.00,83.12 64.23,82.25 64.47,81.40 64.71,80.55 64.95,79.68 65.20,78.81 65.44,77.83 65.69,76.82 65.95,75.80 66.20,74.78 66.46,73.75 66.72,72.73 66.99,71.72 67.26,70.99 67.53,70.29 67.80,69.62 68.08,68.99 68.35,68.41 68.64,67.89 68.92,67.44 69.21,66.70 69.50,65.97 69.79,65.27 70.09,64.59 70.39,63.92 70.69,63.27 70.99,62.63 71.30,62.33 71.61,62.04 71.93,61.76 72.24,61.48 72.56,61.21 72.88,60.95 73.21,60.68 73.54,60.16 73.87,59.63 74.20,59.10 74.54,58.56 74.88,58.02 75.22,57.46 75.57,56.90 75.92,56.45 76.27,55.99 76.63,55.53 76.98,55.08 77.35,54.62 77.71,54.17 78.08,53.74 78.45,53.26 78.82,52.79 79.20,52.33 79.57,51.90 79.96,51.48 80.34,51.09 80.73,50.71 81.12,50.44 81.52,50.18 81.91,49.93 82.31,49.68 82.72,49.44 83.12,49.21 83.53,48.98 83.95,48.71 84.36,48.44 84.78,48.18 85.20,47.93 85.63,47.68 86.05,47.44 86.49,47.19 86.92,46.96 87.36,46.74 87.80,46.52 88.24,46.30 88.69,46.08 89.14,45.86 89.59,45.65 90.05,45.43 90.50,45.22 90.97,45.00 91.43,44.79 91.90,44.58 92.37,44.36 92.85,44.15 93.32,44.00 93.81,43.84 94.29,43.69 94.78,43.52 95.27,43.36 95.76,43.18 96.26,42.99 96.76,42.83 97.26,42.67 97.77,42.49 98.28,42.31 98.79,42.13 99.30,41.95 99.82,41.76 100.34,41.42 100.87,41.08 101.40,40.75 101.93,40.43 102.47,40.12 103.00,39.83 103.54,39.55 104.09,39.40 104.64,39.25 105.19,39.11 105.74,38.97 106.30,38.83 106.86,38.70 107.42,38.57 107.99,38.32 108.56,38.07 109.13,37.83 109.71,37.59 110.29,37.36 110.87,37.13 111.46,36.90 112.05,36.80 112.64,36.69 113.24,36.60 113.84,36.50 114.44,36.41 115.05,36.32 115.66,36.23 116.27,36.07 116.89,35.91 117.51,35.75 118.13,35.60 118.75,35.45 119.38,35.30 120.01,35.15 120.65,35.04 121.29,34.93 121.93,34.82 122.58,34.72 123.23,34.61 123.88,34.51 124.53,34.41 125.19,34.34 125.85,34.28 126.52,34.22 127.19,34.16 127.86,34.10 128.54,34.04 129.21,33.98 129.90,33.92 130.58,33.86 131.27,33.80 131.96,33.74 132.66,33.68 133.36,33.62 134.06,33.56 134.76,33.43 135.47,33.30 136.18,33.18 136.90,33.05 137.62,32.93 138.34,32.80 139.07,32.68 139.80,32.58 140.53,32.48 141.26,32.37 142.00,32.27 142.74,32.17 143.49,32.07 144.24,31.96 144.99,31.86 145.75,31.75 146.51,31.65 147.27,31.55 148.04,31.45 148.81,31.35 149.58,31.25 150.36,31.09 151.14,30.93 151.92,30.78 152.71,30.62 153.50,30.47 154.29,30.32 155.09,30.17 155.89,30.17 156.69,30.17 157.50,30.17 158.31,30.17 159.12,30.17 159.94,30.17 160.76,30.17 161.58,30.00 162.41,29.83 163.24,29.66 164.08,29.49 164.92,29.32 165.76,29.15 166.60,28.98 167.45,28.96 168.30,28.94 169.16,28.91 170.02,28.89 170.88,28.87 171.74,28.84 172.61,28.81 173.49,28.73 174.36,28.64 175.24,28.56 176.13,28.48 177.01,28.39 177.90,28.31 178.80,28.22 179.69,28.13 180.59,28.04 181.50,27.95 182.41,27.86 183.32,27.77 184.23,27.68 185.15,27.59 186.07,27.51 187.00,27.43 187.92,27.35 188.86,27.28 189.79,27.20 190.73,27.13 191.67,27.05 192.62,27.05 193.57,27.04 194.52,27.03 195.48,27.02 196.44,27.02 197.40,27.01 198.37,27.00 199.34,26.88 200.32,26.77 201.29,26.65 202.27,26.53 203.26,26.42 204.25,26.31 205.24,26.19 206.24,26.14 207.24,26.09 208.24,26.04 209.24,25.99 210.25,25.93 211.27,25.88 212.28,25.83 213.31,25.79 214.33,25.75 215.36,25.72 216.39,25.68 217.42,25.64 218.46,25.60 219.50,25.56 220.55,25.47 221.60,25.38 222.65,25.29 223.71,25.20 224.77,25.11 225.83,25.02 226.90,24.93 227.97,24.87 229.04,24.81 230.12,24.75 231.20,24.69 232.29,24.63 233.38,24.57 234.47,24.51 235.56,24.46 236.66,24.41 237.77,24.37 238.87,24.32 239.98,24.28 241.10,24.24 242.21,24.20 243.34,24.17 244.46,24.15 245.59,24.13 246.72,24.11 247.86,24.09 249.00,24.08 250.14,24.07 251.29,24.01 252.44,23.96 253.59,23.91 254.75,23.85 255.91,23.81 257.07,23.76 258.24,23.71 259.41,23.68 260.59,23.66 261.77,23.63 262.95,23.60 264.14,23.58 265.33,23.55 266.52,23.53 267.72,23.48 268.92,23.43 270.13,23.37 271.34,23.32 272.55,23.27 273.76,23.22 274.98,23.20 276.21,23.20 277.43,23.20 278.66,23.20 279.90,23.20 281.14,23.20 282.38,23.20 283.62,23.20 284.87,23.20 286.13,23.20 287.38,23.20 288.64,23.20 289.91,23.20 291.17,23.20 292.44,23.20 293.72,23.20 295.00,23.20 296.28,23.20 297.57,23.20 298.86,23.20 300.15,23.20" fill="none" stroke="#bfbf00" stroke-opacity="0.82" stroke-width="1.05" stroke-linejoin="round"/>
<polyline points="53.83,178.70 53.87,177.51 53.91,176.35 53.95,175.18 53.99,174.01 54.04,172.84 54.09,171.68 54.14,170.52 54.20,169.37 54.25,168.25 54.31,167.14 54.37,166.06 54.43,165.00 54.50,163.97 54.56,162.99 54.63,162.03 54.71,161.09 54.78,160.18 54.86,159.29 54.93,158.40 55.01,157.52 55.10,156.61 55.18,155.67 55.27,154.70 55.36,153.67 55.45,152.56 55.55,151.35 55.65,150.01 55.75,148.59 55.85,147.12 55.95,145.60 56.06,144.06 56.17,142.47 56.28,140.85 56.40,139.20 56.51,137.51 56.63,135.80 56.76,134.07 56.88,132.33 57.01,130.59 57.14,128.86 57.27,127.13 57.40,125.44 57.54,123.77 57.68,122.15 57.82,120.58 57.97,119.07 58.11,117.64 58.26,116.27 58.42,114.87 58.57,113.47" fill="none" stroke="#ffd700" stroke-opacity="0.51" stroke-width="0.85" stroke-linejoin="round"/>
<polyline points="58.57,113.47 58.73,112.09 58.89,110.71 59.05,109.35 59.22,108.00 59.39,106.66 59.56,105.40 59.73,104.15 59.91,102.93 60.09,101.72 60.27,100.52 60.45,99.34 60.64,98.17 60.83,97.02 61.02,95.88 61.22,94.76 61.41,93.65 61.62,92.56 61.82,91.47 62.02,90.40 62.23,89.33 62.44,88.28 62.66,87.27 62.88,86.28 63.09,85.32 63.32,84.37 63.54,83.43 63.77,82.52 64.00,81.61 64.23,80.71 64.47,79.82 64.71,78.93 64.95,78.04 65.20,77.14 65.44,76.18 65.69,75.20 65.95,74.20 66.20,73.20 66.46,72.19 66.72,71.19 66.99,70.21 67.26,69.36 67.53,68.53 67.80,67.72 68.08,66.96 68.35,66.25 68.64,65.61 68.92,65.04 69.21,64.49 69.50,63.96 69.79,63.45 70.09,62.96 70.39,62.51 70.69,62.07 70.99,61.65 71.30,61.21 71.61,60.79 71.93,60.37 72.24,59.97 72.56,59.56 72.88,59.16 73.21,58.75 73.54,58.31 73.87,57.86 74.20,57.40 74.54,56.93 74.88,56.44 75.22,55.96 75.57,55.48 75.92,55.07 76.27,54.66 76.63,54.25 76.98,53.85 77.35,53.44 77.71,53.05 78.08,52.67 78.45,52.22 78.82,51.77 79.20,51.33 79.57,50.90 79.96,50.48 80.34,50.07 80.73,49.68 81.12,49.38 81.52,49.08 81.91,48.79 82.31,48.51 82.72,48.23 83.12,47.96 83.53,47.70 83.95,47.41 84.36,47.13 84.78,46.85 85.20,46.59 85.63,46.33 86.05,46.07 86.49,45.82 86.92,45.58 87.36,45.35 87.80,45.13 88.24,44.91 88.69,44.68 89.14,44.47 89.59,44.27 90.05,44.08 90.50,43.90 90.97,43.72 91.43,43.54 91.90,43.38 92.37,43.22 92.85,43.06 93.32,42.74 93.81,42.43 94.29,42.12 94.78,41.80 95.27,41.48 95.76,41.15 96.26,40.82 96.76,40.73 97.26,40.65 97.77,40.57 98.28,40.49 98.79,40.40 99.30,40.32 99.82,40.24 100.34,40.01 100.87,39.78 101.40,39.55 101.93,39.33 102.47,39.11 103.00,38.89 103.54,38.68 104.09,38.52 104.64,38.36 105.19,38.21 105.74,38.06 106.30,37.91 106.86,37.76 107.42,37.61 107.99,37.53 108.56,37.44 109.13,37.36 109.71,37.28 110.29,37.21 110.87,37.13 111.46,37.06 112.05,36.94 112.64,36.81 113.24,36.69 113.84,36.57 114.44,36.45 115.05,36.33 115.66,36.21 116.27,36.04 116.89,35.88 117.51,35.73 118.13,35.57 118.75,35.42 119.38,35.26 120.01,35.11 120.65,35.01 121.29,34.90 121.93,34.80 122.58,34.70 123.23,34.60 123.88,34.51 124.53,34.42 125.19,34.33 125.85,34.25 126.52,34.16 127.19,34.07 127.86,33.99 128.54,33.91 129.21,33.83 129.90,33.74 130.58,33.64 131.27,33.56 131.96,33.47 132.66,33.38 133.36,33.29 134.06,33.20 134.76,33.05 135.47,32.89 136.18,32.74 136.90,32.60 137.62,32.45 138.34,32.30 139.07,32.16 139.80,32.13 140.53,32.10 141.26,32.07 142.00,32.04 142.74,32.00 143.49,31.96 144.24,31.93 144.99,31.83 145.75,31.74 146.51,31.64 147.27,31.55 148.04,31.46 148.81,31.37 149.58,31.29 150.36,31.13 151.14,30.98 151.92,30.83 152.71,30.68 153.50,30.53 154.29,30.38 155.09,30.23 155.89,30.15 156.69,30.07 157.50,29.98 158.31,29.91 159.12,29.83 159.94,29.75 160.76,29.67 161.58,29.61 162.41,29.55 163.24,29.50 164.08,29.44 164.92,29.39 165.76,29.34 166.60,29.28 167.45,29.25 168.30,29.22 169.16,29.19 170.02,29.15 170.88,29.11 171.74,29.08 172.61,29.04 173.49,28.96 174.36,28.88 175.24,28.79 176.13,28.71 177.01,28.62 177.90,28.54 178.80,28.45 179.69,28.33 180.59,28.21 181.50,28.09 182.41,27.97 183.32,27.85 184.23,27.74 185.15,27.63 186.07,27.55 187.00,27.47 187.92,27.39 188.86,27.31 189.79,27.23 190.73,27.16 191.67,27.09 192.62,27.06 193.57,27.03 194.52,27.00 195.48,26.97 196.44,26.94 197.40,26.91 198.37,26.88 199.34,26.75 200.32,26.63 201.29,26.51 202.27,26.38 203.26,26.26 204.25,26.14 205.24,26.02 206.24,25.99 207.24,25.96 208.24,25.92 209.24,25.89 210.25,25.86 211.27,25.83 212.28,25.80 213.31,25.77 214.33,25.74 215.36,25.71 216.39,25.68 217.42,25.64 218.46,25.61 219.50,25.58 220.55,25.52 221.60,25.45 222.65,25.38 223.71,25.32 224.77,25.25 225.83,25.18 226.90,25.11 227.97,25.03 229.04,24.94 230.12,24.86 231.20,24.78 232.29,24.70 233.38,24.63 234.47,24.55 235.56,24.49 236.66,24.44 237.77,24.38 238.87,24.33 239.98,24.27 241.10,24.22 242.21,24.17 243.34,24.15 244.46,24.13 245.59,24.11 246.72,24.09 247.86,24.07 249.00,24.06 250.14,24.04 251.29,23.97 252.44,23.90 253.59,23.83 254.75,23.76 255.91,23.70 257.07,23.63 258.24,23.57 259.41,23.55 260.59,23.53 261.77,23.52 262.95,23.50 264.14,23.48 265.33,23.47 266.52,23.46 267.72,23.46 268.92,23.45 270.13,23.45 271.34,23.45 272.55,23.45 273.76,23.45 274.98,23.45 276.21,23.42 277.43,23.40 278.66,23.37 279.90,23.35 281.14,23.33 282.38,23.31 283.62,23.28 284.87,23.28 286.13,23.27 287.38,23.26 288.64,23.25 289.91,23.25 291.17,23.24 292.44,23.24 293.72,23.23 295.00,23.22 296.28,23.21 297.57,23.21 298.86,23.20 300.15,23.20" fill="none" stroke="#ffd700" stroke-opacity="0.92" stroke-width="1.15" stroke-linejoin="round"/>
<polyline points="53.83,178.90 53.87,177.71 53.91,176.56 53.95,175.40 53.99,174.23 54.04,173.06 54.09,171.91 54.14,170.76 54.20,169.64 54.25,168.53 54.31,167.45 54.37,166.39 54.43,165.36 54.50,164.36 54.56,163.37 54.63,162.42 54.71,161.49 54.78,160.58 54.86,159.68 54.93,158.79 55.01,157.91 55.10,157.00 55.18,156.06 55.27,155.09 55.36,154.06 55.45,152.94 55.55,151.73 55.65,150.39 55.75,148.95 55.85,147.47 55.95,145.94 56.06,144.37 56.17,142.77 56.28,141.13 56.40,139.46 56.51,137.81 56.63,136.15 56.76,134.48 56.88,132.80 57.01,131.12 57.14,129.45 57.27,127.80 57.40,126.14 57.54,124.52 57.68,122.94 57.82,121.41 57.97,119.96 58.11,118.58 58.26,117.28 58.42,115.94 58.57,114.61" fill="none" stroke="#b0e0e6" stroke-opacity="0.51" stroke-width="0.85" stroke-linejoin="round"/>
<polyline points="58.57,114.61 58.73,113.29 58.89,111.99 59.05,110.69 59.22,109.41 59.39,108.14 59.56,106.94 59.73,105.74 59.91,104.57 60.09,103.41 60.27,102.27 60.45,101.15 60.64,100.05 60.83,98.97 61.02,97.90 61.22,96.85 61.41,95.82 61.62,94.81 61.82,93.81 62.02,92.83 62.23,91.81 62.44,90.82 62.66,89.85 62.88,88.90 63.09,87.97 63.32,87.05 63.54,86.16 63.77,85.34 64.00,84.53 64.23,83.74 64.47,82.97 64.71,82.19 64.95,81.41 65.20,80.62 65.44,79.80 65.69,78.97 65.95,78.11 66.20,77.24 66.46,76.36 66.72,75.50 66.99,74.63 67.26,73.72 67.53,72.83 67.80,71.96 68.08,71.13 68.35,70.32 68.64,69.57 68.92,68.87 69.21,68.30 69.50,67.75 69.79,67.21 70.09,66.68 70.39,66.17 70.69,65.66 70.99,65.17 71.30,64.64 71.61,64.12 71.93,63.61 72.24,63.11 72.56,62.63 72.88,62.15 73.21,61.68 73.54,61.22 73.87,60.77 74.20,60.32 74.54,59.87 74.88,59.41 75.22,58.95 75.57,58.48 75.92,57.99 76.27,57.50 76.63,57.01 76.98,56.53 77.35,56.06 77.71,55.60 78.08,55.15 78.45,54.65 78.82,54.17 79.20,53.71 79.57,53.29 79.96,52.89 80.34,52.54 80.73,52.21 81.12,51.96 81.52,51.72 81.91,51.48 82.31,51.27 82.72,51.05 83.12,50.84 83.53,50.64 83.95,50.45 84.36,50.27 84.78,50.10 85.20,49.92 85.63,49.74 86.05,49.56 86.49,49.37 86.92,49.15 87.36,48.92 87.80,48.69 88.24,48.46 88.69,48.24 89.14,48.02 89.59,47.80 90.05,47.63 90.50,47.47 90.97,47.29 91.43,47.11 91.90,46.94 92.37,46.75 92.85,46.57 93.32,46.24 93.81,45.91 94.29,45.57 94.78,45.23 95.27,44.88 95.76,44.51 96.26,44.13 96.76,43.76 97.26,43.39 97.77,43.02 98.28,42.65 98.79,42.27 99.30,41.90 99.82,41.53 100.34,41.25 100.87,40.99 101.40,40.72 101.93,40.48 102.47,40.25 103.00,40.04 103.54,39.85 104.09,39.64 104.64,39.43 105.19,39.23 105.74,39.04 106.30,38.85 106.86,38.66 107.42,38.48 107.99,38.32 108.56,38.17 109.13,38.02 109.71,37.88 110.29,37.74 110.87,37.60 111.46,37.47 112.05,37.27 112.64,37.07 113.24,36.88 113.84,36.69 114.44,36.49 115.05,36.31 115.66,36.13 116.27,35.97 116.89,35.82 117.51,35.68 118.13,35.53 118.75,35.39 119.38,35.25 120.01,35.10 120.65,35.06 121.29,35.01 121.93,34.98 122.58,34.94 123.23,34.90 123.88,34.86 124.53,34.83 125.19,34.73 125.85,34.63 126.52,34.53 127.19,34.42 127.86,34.32 128.54,34.22 129.21,34.12 129.90,33.96 130.58,33.79 131.27,33.63 131.96,33.46 132.66,33.29 133.36,33.13 134.06,32.96 134.76,32.91 135.47,32.87 136.18,32.83 136.90,32.80 137.62,32.75 138.34,32.71 139.07,32.67 139.80,32.58 140.53,32.50 141.26,32.41 142.00,32.33 142.74,32.26 143.49,32.18 144.24,32.11 144.99,32.00 145.75,31.90 146.51,31.80 147.27,31.69 148.04,31.59 148.81,31.49 149.58,31.39 150.36,31.32 151.14,31.26 151.92,31.19 152.71,31.12 153.50,31.05 154.29,30.98 155.09,30.91 155.89,30.78 156.69,30.65 157.50,30.53 158.31,30.40 159.12,30.28 159.94,30.16 160.76,30.04 161.58,29.96 162.41,29.88 163.24,29.80 164.08,29.73 164.92,29.65 165.76,29.57 166.60,29.49 167.45,29.44 168.30,29.39 169.16,29.34 170.02,29.29 170.88,29.24 171.74,29.19 172.61,29.14 173.49,29.01 174.36,28.88 175.24,28.75 176.13,28.61 177.01,28.47 177.90,28.34 178.80,28.20 179.69,28.20 180.59,28.20 181.50,28.20 182.41,28.20 183.32,28.20 184.23,28.20 185.15,28.20 186.07,28.20 187.00,28.19 187.92,28.15 188.86,28.12 189.79,28.08 190.73,28.04 191.67,28.00 192.62,27.92 193.57,27.83 194.52,27.74 195.48,27.66 196.44,27.57 197.40,27.48 198.37,27.39 199.34,27.28 200.32,27.17 201.29,27.07 202.27,26.96 203.26,26.86 204.25,26.77 205.24,26.66 206.24,26.59 207.24,26.52 208.24,26.45 209.24,26.38 210.25,26.31 211.27,26.24 212.28,26.17 213.31,26.15 214.33,26.13 215.36,26.12 216.39,26.11 217.42,26.10 218.46,26.09 219.50,26.08 220.55,25.90 221.60,25.73 222.65,25.56 223.71,25.39 224.77,25.22 225.83,25.05 226.90,24.89 227.97,24.89 229.04,24.89 230.12,24.89 231.20,24.89 232.29,24.89 233.38,24.89 234.47,24.89 235.56,24.89 236.66,24.89 237.77,24.89 238.87,24.89 239.98,24.84 241.10,24.76 242.21,24.69 243.34,24.65 244.46,24.63 245.59,24.60 246.72,24.58 247.86,24.56 249.00,24.54 250.14,24.52 251.29,24.46 252.44,24.40 253.59,24.35 254.75,24.29 255.91,24.24 257.07,24.18 258.24,24.13 259.41,24.11 260.59,24.09 261.77,24.07 262.95,24.05 264.14,24.03 265.33,24.01 266.52,23.99 267.72,23.94 268.92,23.89 270.13,23.85 271.34,23.80 272.55,23.76 273.76,23.71 274.98,23.67 276.21,23.64 277.43,23.61 278.66,23.58 279.90,23.55 281.14,23.53 282.38,23.50 283.62,23.47 284.87,23.44 286.13,23.40 287.38,23.37 288.64,23.33 289.91,23.30 291.17,23.27 292.44,23.24 293.72,23.22 295.00,23.21 296.28,23.20 297.57,23.20 298.86,23.20 300.15,23.20" fill="none" stroke="#b0e0e6" stroke-opacity="0.92" stroke-width="1.0" stroke-linejoin="round"/>
<line x1="53.45" y1="206.15" x2="53.80" y2="178.70" stroke="#a8dcb6" stroke-width="1.35"/>
</g>
<line x1="53.45" y1="206.15" x2="300.15" y2="23.2" stroke="#10108a" stroke-width="1.7" stroke-dasharray="5.6 2.43"/>
<rect x="41.7" y="14.5" width="271.5" height="200.95" fill="none" stroke="#333" stroke-width="0.9"/>
<line x1="53.45" y1="215.45" x2="53.45" y2="218.14999999999998" stroke="#444" stroke-width="0.75"/>
<line x1="41.7" y1="206.15" x2="39.0" y2="206.15" stroke="#444" stroke-width="0.75"/>
<text x="53.45" y="228.90" font-size="10" text-anchor="middle" font-family='"Liberation Sans", sans-serif' textLength="14.60" lengthAdjust="spacingAndGlyphs">0.0</text>
<text x="35.30" y="210.05" font-size="10" text-anchor="end" font-family='"Liberation Sans", sans-serif' textLength="14.60" lengthAdjust="spacingAndGlyphs">0.0</text>
<line x1="102.79" y1="215.45" x2="102.79" y2="218.14999999999998" stroke="#444" stroke-width="0.75"/>
<line x1="41.7" y1="169.56" x2="39.0" y2="169.56" stroke="#444" stroke-width="0.75"/>
<text x="102.79" y="228.90" font-size="10" text-anchor="middle" font-family='"Liberation Sans", sans-serif' textLength="14.60" lengthAdjust="spacingAndGlyphs">0.2</text>
<text x="35.30" y="173.46" font-size="10" text-anchor="end" font-family='"Liberation Sans", sans-serif' textLength="14.60" lengthAdjust="spacingAndGlyphs">0.2</text>
<line x1="152.13" y1="215.45" x2="152.13" y2="218.14999999999998" stroke="#444" stroke-width="0.75"/>
<line x1="41.7" y1="132.97" x2="39.0" y2="132.97" stroke="#444" stroke-width="0.75"/>
<text x="152.13" y="228.90" font-size="10" text-anchor="middle" font-family='"Liberation Sans", sans-serif' textLength="14.60" lengthAdjust="spacingAndGlyphs">0.4</text>
<text x="35.30" y="136.87" font-size="10" text-anchor="end" font-family='"Liberation Sans", sans-serif' textLength="14.60" lengthAdjust="spacingAndGlyphs">0.4</text>
<line x1="201.47" y1="215.45" x2="201.47" y2="218.14999999999998" stroke="#444" stroke-width="0.75"/>
<line x1="41.7" y1="96.38" x2="39.0" y2="96.38" stroke="#444" stroke-width="0.75"/>
<text x="201.47" y="228.90" font-size="10" text-anchor="middle" font-family='"Liberation Sans", sans-serif' textLength="14.60" lengthAdjust="spacingAndGlyphs">0.6</text>
<text x="35.30" y="100.28" font-size="10" text-anchor="end" font-family='"Liberation Sans", sans-serif' textLength="14.60" lengthAdjust="spacingAndGlyphs">0.6</text>
<line x1="250.81" y1="215.45" x2="250.81" y2="218.14999999999998" stroke="#444" stroke-width="0.75"/>
<line x1="41.7" y1="59.79" x2="39.0" y2="59.79" stroke="#444" stroke-width="0.75"/>
<text x="250.81" y="228.90" font-size="10" text-anchor="middle" font-family='"Liberation Sans", sans-serif' textLength="14.60" lengthAdjust="spacingAndGlyphs">0.8</text>
<text x="35.30" y="63.69" font-size="10" text-anchor="end" font-family='"Liberation Sans", sans-serif' textLength="14.60" lengthAdjust="spacingAndGlyphs">0.8</text>
<line x1="300.15" y1="215.45" x2="300.15" y2="218.14999999999998" stroke="#444" stroke-width="0.75"/>
<line x1="41.7" y1="23.20" x2="39.0" y2="23.20" stroke="#444" stroke-width="0.75"/>
<text x="300.15" y="228.90" font-size="10" text-anchor="middle" font-family='"Liberation Sans", sans-serif' textLength="14.60" lengthAdjust="spacingAndGlyphs">1.0</text>
<text x="35.30" y="27.10" font-size="10" text-anchor="end" font-family='"Liberation Sans", sans-serif' textLength="14.60" lengthAdjust="spacingAndGlyphs">1.0</text>
<text x="176.70" y="249.00" font-size="12.5" text-anchor="middle" font-family='"Liberation Sans", sans-serif' textLength="113.00" lengthAdjust="spacingAndGlyphs">False Positive Rate</text>
<g transform="translate(10.3,115.0) rotate(-90)"><text x="0.00" y="0.00" font-size="12.4" text-anchor="middle" font-family='"Liberation Sans", sans-serif' textLength="107.50" lengthAdjust="spacingAndGlyphs">True Positive Rate</text></g>
<text x="177.20" y="9.20" font-size="12.5" text-anchor="middle" font-family='"Liberation Sans", sans-serif' textLength="206.00" lengthAdjust="spacingAndGlyphs">5 fold cross-validation in dataset2</text>
<rect x="178.9" y="121.6" width="129.90" height="89.2" rx="2" fill="#fff" fill-opacity="0.8" stroke="#d4d4d4" stroke-width="0.9"/>
<line x1="182.0" y1="129.00" x2="201.1" y2="129.00" stroke="#55c6be" stroke-width="1.7"/>
<text x="208.30" y="132.35" font-size="10.2" text-anchor="start" font-family='"Liberation Sans", sans-serif' textLength="94.00" lengthAdjust="spacingAndGlyphs">mean(auc = 0.9278)</text>
<line x1="182.0" y1="143.60" x2="201.1" y2="143.60" stroke="#45bdb7" stroke-width="1.6"/>
<text x="208.30" y="146.90" font-size="10.2" text-anchor="start" font-family='"Liberation Sans", sans-serif' textLength="95.60" lengthAdjust="spacingAndGlyphs">fold_1(auc = 0.9243)</text>
<line x1="182.0" y1="157.90" x2="201.1" y2="157.90" stroke="#8fae58" stroke-width="2.0"/>
<text x="208.30" y="161.45" font-size="10.2" text-anchor="start" font-family='"Liberation Sans", sans-serif' textLength="95.60" lengthAdjust="spacingAndGlyphs">fold_2(auc = 0.9278)</text>
<line x1="182.0" y1="172.55" x2="201.1" y2="172.55" stroke="#bcbc30" stroke-width="1.25"/>
<text x="208.30" y="176.00" font-size="10.2" text-anchor="start" font-family='"Liberation Sans", sans-serif' textLength="95.60" lengthAdjust="spacingAndGlyphs">fold_3(auc = 0.9318)</text>
<line x1="182.0" y1="187.40" x2="201.1" y2="187.40" stroke="#ffd21c" stroke-width="1.25"/>
<text x="208.30" y="190.55" font-size="10.2" text-anchor="start" font-family='"Liberation Sans", sans-serif' textLength="95.60" lengthAdjust="spacingAndGlyphs">fold_4(auc = 0.9244)</text>
<line x1="182.0" y1="201.50" x2="201.1" y2="201.50" stroke="#b0e0e8" stroke-width="1.05"/>
<text x="208.30" y="205.10" font-size="10.2" text-anchor="start" font-family='"Liberation Sans", sans-serif' textLength="95.60" lengthAdjust="spacingAndGlyphs">fold_5(auc = 0.9309)</text>
</g>
<g transform="translate(0,326.9)">
<g filter="url(#soft)">
<polyline points="53.76,92.12 53.79,90.22 53.83,88.63 53.87,87.33 53.91,86.27 53.95,85.35 53.99,84.47 54.04,83.56 54.09,82.64 54.14,81.72 54.20,80.81 54.25,79.89 54.31,78.98 54.37,78.08 54.43,77.19 54.50,76.32 54.56,75.45 54.63,74.60 54.71,73.76 54.78,72.94 54.86,72.14 54.93,71.34 55.01,70.56 55.10,69.79 55.18,69.02 55.27,68.25 55.36,67.47 55.45,66.68 55.55,65.86 55.65,65.00 55.75,64.10 55.85,63.18 55.95,62.24 56.06,61.28 56.17,60.32 56.28,59.35 56.40,58.38 56.51,57.42 56.63,56.48 56.76,55.55 56.88,54.65 57.01,53.79 57.14,52.98 57.27,52.22 57.40,51.53 57.54,50.92 57.68,50.40 57.82,49.96 57.97,49.57 58.11,49.23 58.26,48.93 58.42,48.63 58.57,48.34 58.73,48.04 58.89,47.69 59.05,47.29 59.22,46.81" fill="none" stroke="#20b2aa" stroke-opacity="0.39" stroke-width="0.85" stroke-linejoin="round"/>
<polyline points="59.22,46.81 59.39,46.11 59.56,45.13 59.73,44.18 59.91,43.57 60.09,43.28 60.27,43.04 60.45,42.83 60.64,42.65 60.83,42.53 61.02,42.44 61.22,42.35 61.41,42.27 61.62,42.18 61.82,42.10 62.02,42.02 62.23,41.90 62.44,41.77 62.66,41.64 62.88,41.52 63.09,41.39 63.32,41.26 63.54,41.14 63.77,41.04 64.00,40.95 64.23,40.85 64.47,40.76 64.71,40.67 64.95,40.58 65.20,40.49 65.44,40.41 65.69,40.33 65.95,40.24 66.20,40.16 66.46,40.08 66.72,40.00 66.99,39.92 67.26,39.81 67.53,39.70 67.80,39.59 68.08,39.48 68.35,39.37 68.64,39.26 68.92,39.15 69.21,39.07 69.50,38.98 69.79,38.90 70.09,38.82 70.39,38.74 70.69,38.66 70.99,38.58 71.30,38.47 71.61,38.35 71.93,38.24 72.24,38.13 72.56,38.02 72.88,37.90 73.21,37.79 73.54,37.76 73.87,37.73 74.20,37.70 74.54,37.67 74.88,37.64 75.22,37.60 75.57,37.57 75.92,37.45 76.27,37.33 76.63,37.21 76.98,37.08 77.35,36.95 77.71,36.82 78.08,36.69 78.45,36.57 78.82,36.45 79.20,36.33 79.57,36.21 79.96,36.09 80.34,35.97 80.73,35.85 81.12,35.79 81.52,35.74 81.91,35.68 82.31,35.62 82.72,35.57 83.12,35.51 83.53,35.45 83.95,35.34 84.36,35.22 84.78,35.10 85.20,34.98 85.63,34.87 86.05,34.75 86.49,34.63 86.92,34.52 87.36,34.42 87.80,34.31 88.24,34.20 88.69,34.09 89.14,33.98 89.59,33.87 90.05,33.80 90.50,33.74 90.97,33.67 91.43,33.61 91.90,33.54 92.37,33.47 92.85,33.40 93.32,33.26 93.81,33.11 94.29,32.96 94.78,32.82 95.27,32.67 95.76,32.52 96.26,32.38 96.76,32.29 97.26,32.20 97.77,32.11 98.28,32.02 98.79,31.93 99.30,31.84 99.82,31.75 100.34,31.62 100.87,31.48 101.40,31.35 101.93,31.22 102.47,31.09 103.00,30.95 103.54,30.82 104.09,30.69 104.64,30.56 105.19,30.43 105.74,30.30 106.30,30.17 106.86,30.04 107.42,29.91 107.99,29.83 108.56,29.76 109.13,29.69 109.71,29.61 110.29,29.53 110.87,29.46 111.46,29.38 112.05,29.24 112.64,29.10 113.24,28.96 113.84,28.82 114.44,28.68 115.05,28.53 115.66,28.39 116.27,28.26 116.89,28.13 117.51,28.00 118.13,27.88 118.75,27.75 119.38,27.62 120.01,27.49 120.65,27.42 121.29,27.34 121.93,27.26 122.58,27.19 123.23,27.11 123.88,27.03 124.53,26.96 125.19,26.86 125.85,26.76 126.52,26.66 127.19,26.56 127.86,26.46 128.54,26.36 129.21,26.26 129.90,26.14 130.58,26.02 131.27,25.90 131.96,25.79 132.66,25.67 133.36,25.55 134.06,25.43 134.76,25.33 135.47,25.22 136.18,25.11 136.90,25.00 137.62,24.89 138.34,24.79 139.07,24.70 139.80,24.58 140.53,24.48 141.26,24.38 142.00,24.31 142.74,24.25 143.49,24.19 144.24,24.13 144.99,24.07 145.75,24.02 146.51,23.97 147.27,23.92 148.04,23.87 148.81,23.82 149.58,23.78 150.36,23.78 151.14,23.78 151.92,23.78 152.71,23.78 153.50,23.78 154.29,23.78" fill="none" stroke="#20b2aa" stroke-opacity="0.7" stroke-width="1.2" stroke-linejoin="round"/>
<polyline points="53.76,92.12 53.79,90.21 53.83,88.63 53.87,87.33 53.91,86.26 53.95,85.35 53.99,84.48 54.04,83.57 54.09,82.65 54.14,81.73 54.20,80.81 54.25,79.89 54.31,78.98 54.37,78.08 54.43,77.19 54.50,76.31 54.56,75.44 54.63,74.60 54.71,73.76 54.78,72.95 54.86,72.14 54.93,71.35 55.01,70.57 55.10,69.80 55.18,69.03 55.27,68.25 55.36,67.47 55.45,66.67 55.55,65.85 55.65,64.99 55.75,64.09 55.85,63.17 55.95,62.23 56.06,61.27 56.17,60.31 56.28,59.34 56.40,58.37 56.51,57.42 56.63,56.49 56.76,55.58 56.88,54.69 57.01,53.85 57.14,53.05 57.27,52.30 57.40,51.60 57.54,50.97 57.68,50.42 57.82,49.96 57.97,49.55 58.11,49.18 58.26,48.84 58.42,48.54 58.57,48.24 58.73,47.92 58.89,47.56 59.05,47.14 59.22,46.64" fill="none" stroke="#20b2aa" stroke-opacity="0.48" stroke-width="0.85" stroke-linejoin="round"/>
<polyline points="59.22,46.64 59.39,45.93 59.56,44.98 59.73,44.05 59.91,43.46 60.09,43.20 60.27,42.98 60.45,42.80 60.64,42.65 60.83,42.52 61.02,42.41 61.22,42.30 61.41,42.20 61.62,42.10 61.82,42.00 62.02,41.91 62.23,41.79 62.44,41.67 62.66,41.56 62.88,41.44 63.09,41.33 63.32,41.21 63.54,41.10 63.77,41.00 64.00,40.90 64.23,40.81 64.47,40.71 64.71,40.62 64.95,40.53 65.20,40.44 65.44,40.35 65.69,40.25 65.95,40.16 66.20,40.07 66.46,39.98 66.72,39.89 66.99,39.81 67.26,39.69 67.53,39.57 67.80,39.46 68.08,39.34 68.35,39.23 68.64,39.12 68.92,39.01 69.21,38.97 69.50,38.94 69.79,38.90 70.09,38.87 70.39,38.84 70.69,38.80 70.99,38.77 71.30,38.68 71.61,38.58 71.93,38.48 72.24,38.39 72.56,38.30 72.88,38.20 73.21,38.10 73.54,38.01 73.87,37.92 74.20,37.82 74.54,37.73 74.88,37.63 75.22,37.53 75.57,37.43 75.92,37.38 76.27,37.32 76.63,37.26 76.98,37.20 77.35,37.14 77.71,37.07 78.08,37.01 78.45,36.90 78.82,36.79 79.20,36.68 79.57,36.57 79.96,36.46 80.34,36.35 80.73,36.24 81.12,36.11 81.52,35.98 81.91,35.84 82.31,35.71 82.72,35.58 83.12,35.44 83.53,35.31 83.95,35.16 84.36,35.02 84.78,34.87 85.20,34.72 85.63,34.57 86.05,34.42 86.49,34.28 86.92,34.23 87.36,34.18 87.80,34.13 88.24,34.08 88.69,34.03 89.14,33.98 89.59,33.93 90.05,33.81 90.50,33.69 90.97,33.58 91.43,33.46 91.90,33.34 92.37,33.22 92.85,33.10 93.32,32.99 93.81,32.88 94.29,32.76 94.78,32.65 95.27,32.54 95.76,32.42 96.26,32.31 96.76,32.21 97.26,32.12 97.77,32.02 98.28,31.93 98.79,31.84 99.30,31.74 99.82,31.64 100.34,31.50 100.87,31.36 101.40,31.22 101.93,31.07 102.47,30.93 103.00,30.79 103.54,30.65 104.09,30.55 104.64,30.46 105.19,30.37 105.74,30.27 106.30,30.18 106.86,30.08 107.42,29.99 107.99,29.90 108.56,29.81 109.13,29.72 109.71,29.63 110.29,29.54 110.87,29.45 111.46,29.36 112.05,29.24 112.64,29.12 113.24,29.00 113.84,28.87 114.44,28.75 115.05,28.63 115.66,28.51 116.27,28.37 116.89,28.24 117.51,28.10 118.13,27.97 118.75,27.84 119.38,27.70 120.01,27.57 120.65,27.45 121.29,27.32 121.93,27.19 122.58,27.07 123.23,26.94 123.88,26.82 124.53,26.69 125.19,26.59 125.85,26.49 126.52,26.39 127.19,26.29 127.86,26.19 128.54,26.09 129.21,25.99 129.90,25.88 130.58,25.77 131.27,25.67 131.96,25.56 132.66,25.46 133.36,25.36 134.06,25.26 134.76,25.18 135.47,25.09 136.18,25.01 136.90,24.92 137.62,24.84 138.34,24.76 139.07,24.69 139.80,24.58 140.53,24.48 141.26,24.40 142.00,24.32 142.74,24.26 143.49,24.20 144.24,24.15 144.99,24.12 145.75,24.09 146.51,24.06 147.27,24.03 148.04,24.01 148.81,23.99 149.58,23.97 150.36,23.95 151.14,23.93 151.92,23.92 152.71,23.90 153.50,23.89 154.29,23.89" fill="none" stroke="#20b2aa" stroke-opacity="0.88" stroke-width="1.2" stroke-linejoin="round"/>
<polyline points="53.76,92.10 53.79,90.20 53.83,88.61 53.87,87.30 53.91,86.24 53.95,85.33 53.99,84.45 54.04,83.54 54.09,82.62 54.14,81.70 54.20,80.78 54.25,79.86 54.31,78.95 54.37,78.04 54.43,77.15 54.50,76.27 54.56,75.41 54.63,74.56 54.71,73.73 54.78,72.91 54.86,72.11 54.93,71.33 55.01,70.55 55.10,69.78 55.18,69.01 55.27,68.24 55.36,67.46 55.45,66.66 55.55,65.84 55.65,64.98 55.75,64.08 55.85,63.16 55.95,62.22 56.06,61.26 56.17,60.29 56.28,59.32 56.40,58.35 56.51,57.40 56.63,56.45 56.76,55.53 56.88,54.63 57.01,53.77 57.14,52.96 57.27,52.20 57.40,51.51 57.54,50.89 57.68,50.36 57.82,49.91 57.97,49.51 58.11,49.16 58.26,48.84 58.42,48.55 58.57,48.25 58.73,47.94 58.89,47.59 59.05,47.18 59.22,46.69" fill="none" stroke="#6b8e23" stroke-opacity="0.50" stroke-width="0.85" stroke-linejoin="round"/>
<polyline points="59.22,46.69 59.39,45.99 59.56,45.03 59.73,44.10 59.91,43.51 60.09,43.24 60.27,43.02 60.45,42.83 60.64,42.68 60.83,42.54 61.02,42.42 61.22,42.30 61.41,42.19 61.62,42.08 61.82,41.96 62.02,41.85 62.23,41.74 62.44,41.63 62.66,41.52 62.88,41.41 63.09,41.30 63.32,41.19 63.54,41.08 63.77,40.98 64.00,40.88 64.23,40.77 64.47,40.67 64.71,40.57 64.95,40.47 65.20,40.37 65.44,40.26 65.69,40.14 65.95,40.02 66.20,39.91 66.46,39.80 66.72,39.69 66.99,39.57 67.26,39.53 67.53,39.48 67.80,39.44 68.08,39.39 68.35,39.35 68.64,39.31 68.92,39.26 69.21,39.15 69.50,39.05 69.79,38.94 70.09,38.83 70.39,38.72 70.69,38.61 70.99,38.51 71.30,38.43 71.61,38.36 71.93,38.29 72.24,38.21 72.56,38.14 72.88,38.07 73.21,37.99 73.54,37.90 73.87,37.81 74.20,37.71 74.54,37.62 74.88,37.52 75.22,37.43 75.57,37.33 75.92,37.26 76.27,37.19 76.63,37.12 76.98,37.04 77.35,36.97 77.71,36.89 78.08,36.81 78.45,36.68 78.82,36.54 79.20,36.41 79.57,36.27 79.96,36.14 80.34,36.01 80.73,35.87 81.12,35.78 81.52,35.69 81.91,35.60 82.31,35.52 82.72,35.43 83.12,35.33 83.53,35.24 83.95,35.14 84.36,35.04 84.78,34.94 85.20,34.84 85.63,34.74 86.05,34.64 86.49,34.54 86.92,34.43 87.36,34.32 87.80,34.21 88.24,34.11 88.69,34.00 89.14,33.89 89.59,33.78 90.05,33.69 90.50,33.60 90.97,33.51 91.43,33.42 91.90,33.32 92.37,33.23 92.85,33.14 93.32,33.03 93.81,32.92 94.29,32.81 94.78,32.71 95.27,32.60 95.76,32.49 96.26,32.38 96.76,32.23 97.26,32.08 97.77,31.93 98.28,31.78 98.79,31.63 99.30,31.48 99.82,31.33 100.34,31.26 100.87,31.18 101.40,31.11 101.93,31.03 102.47,30.96 103.00,30.88 103.54,30.81 104.09,30.67 104.64,30.53 105.19,30.40 105.74,30.26 106.30,30.12 106.86,29.98 107.42,29.84 107.99,29.75 108.56,29.65 109.13,29.55 109.71,29.46 110.29,29.36 110.87,29.25 111.46,29.15 112.05,29.03 112.64,28.91 113.24,28.79 113.84,28.67 114.44,28.56 115.05,28.44 115.66,28.32 116.27,28.21 116.89,28.10 117.51,27.99 118.13,27.88 118.75,27.77 119.38,27.67 120.01,27.56 120.65,27.44 121.29,27.32 121.93,27.20 122.58,27.08 123.23,26.97 123.88,26.85 124.53,26.73 125.19,26.66 125.85,26.58 126.52,26.50 127.19,26.43 127.86,26.35 128.54,26.28 129.21,26.21 129.90,26.08 130.58,25.96 131.27,25.83 131.96,25.71 132.66,25.59 133.36,25.47 134.06,25.35 134.76,25.23 135.47,25.11 136.18,24.99 136.90,24.87 137.62,24.75 138.34,24.63 139.07,24.52 139.80,24.42 140.53,24.34 141.26,24.26 142.00,24.20 142.74,24.16 143.49,24.11 144.24,24.07 144.99,24.04 145.75,24.01 146.51,23.99 147.27,23.96 148.04,23.94 148.81,23.92 149.58,23.90 150.36,23.89 151.14,23.88 151.92,23.87 152.71,23.86 153.50,23.86 154.29,23.86" fill="none" stroke="#6b8e23" stroke-opacity="0.9" stroke-width="1.2" stroke-linejoin="round"/>
<polyline points="53.76,92.07 53.79,90.16 53.83,88.57 53.87,87.27 53.91,86.20 53.95,85.29 53.99,84.41 54.04,83.49 54.09,82.57 54.14,81.65 54.20,80.73 54.25,79.81 54.31,78.90 54.37,78.00 54.43,77.11 54.50,76.23 54.56,75.36 54.63,74.51 54.71,73.67 54.78,72.85 54.86,72.05 54.93,71.25 55.01,70.47 55.10,69.70 55.18,68.93 55.27,68.17 55.36,67.39 55.45,66.60 55.55,65.79 55.65,64.94 55.75,64.03 55.85,63.11 55.95,62.17 56.06,61.21 56.17,60.24 56.28,59.27 56.40,58.29 56.51,57.33 56.63,56.38 56.76,55.46 56.88,54.56 57.01,53.69 57.14,52.87 57.27,52.11 57.40,51.42 57.54,50.81 57.68,50.29 57.82,49.84 57.97,49.45 58.11,49.11 58.26,48.80 58.42,48.50 58.57,48.20 58.73,47.88 58.89,47.52 59.05,47.10 59.22,46.61" fill="none" stroke="#bfbf00" stroke-opacity="0.45" stroke-width="0.85" stroke-linejoin="round"/>
<polyline points="59.22,46.61 59.39,45.90 59.56,44.93 59.73,43.99 59.91,43.40 60.09,43.12 60.27,42.89 60.45,42.70 60.64,42.54 60.83,42.41 61.02,42.29 61.22,42.19 61.41,42.08 61.62,41.98 61.82,41.88 62.02,41.78 62.23,41.66 62.44,41.55 62.66,41.44 62.88,41.32 63.09,41.21 63.32,41.10 63.54,40.99 63.77,40.90 64.00,40.82 64.23,40.74 64.47,40.66 64.71,40.58 64.95,40.50 65.20,40.42 65.44,40.32 65.69,40.21 65.95,40.10 66.20,39.99 66.46,39.88 66.72,39.78 66.99,39.67 67.26,39.54 67.53,39.41 67.80,39.28 68.08,39.16 68.35,39.03 68.64,38.90 68.92,38.78 69.21,38.75 69.50,38.72 69.79,38.69 70.09,38.67 70.39,38.64 70.69,38.61 70.99,38.59 71.30,38.47 71.61,38.35 71.93,38.22 72.24,38.10 72.56,37.98 72.88,37.86 73.21,37.74 73.54,37.68 73.87,37.62 74.20,37.57 74.54,37.51 74.88,37.45 75.22,37.38 75.57,37.32 75.92,37.22 76.27,37.12 76.63,37.02 76.98,36.91 77.35,36.81 77.71,36.70 78.08,36.59 78.45,36.50 78.82,36.41 79.20,36.33 79.57,36.24 79.96,36.15 80.34,36.06 80.73,35.97 81.12,35.86 81.52,35.75 81.91,35.63 82.31,35.52 82.72,35.41 83.12,35.29 83.53,35.18 83.95,35.06 84.36,34.94 84.78,34.83 85.20,34.71 85.63,34.59 86.05,34.47 86.49,34.35 86.92,34.25 87.36,34.14 87.80,34.04 88.24,33.94 88.69,33.84 89.14,33.74 89.59,33.63 90.05,33.52 90.50,33.40 90.97,33.29 91.43,33.18 91.90,33.06 92.37,32.95 92.85,32.83 93.32,32.75 93.81,32.67 94.29,32.58 94.78,32.50 95.27,32.41 95.76,32.33 96.26,32.24 96.76,32.12 97.26,31.99 97.77,31.86 98.28,31.74 98.79,31.61 99.30,31.48 99.82,31.36 100.34,31.24 100.87,31.12 101.40,31.01 101.93,30.89 102.47,30.77 103.00,30.65 103.54,30.53 104.09,30.41 104.64,30.28 105.19,30.16 105.74,30.03 106.30,29.90 106.86,29.78 107.42,29.65 107.99,29.55 108.56,29.45 109.13,29.34 109.71,29.24 110.29,29.14 110.87,29.03 111.46,28.93 112.05,28.82 112.64,28.70 113.24,28.59 113.84,28.47 114.44,28.36 115.05,28.24 115.66,28.12 116.27,28.05 116.89,27.98 117.51,27.90 118.13,27.83 118.75,27.75 119.38,27.68 120.01,27.60 120.65,27.46 121.29,27.32 121.93,27.18 122.58,27.04 123.23,26.91 123.88,26.77 124.53,26.63 125.19,26.49 125.85,26.35 126.52,26.21 127.19,26.07 127.86,25.93 128.54,25.79 129.21,25.66 129.90,25.59 130.58,25.51 131.27,25.44 131.96,25.38 132.66,25.31 133.36,25.25 134.06,25.18 134.76,25.09 135.47,25.00 136.18,24.90 136.90,24.81 137.62,24.72 138.34,24.63 139.07,24.55 139.80,24.48 140.53,24.42 141.26,24.36 142.00,24.32 142.74,24.28 143.49,24.25 144.24,24.22 144.99,24.15 145.75,24.08 146.51,24.01 147.27,23.94 148.04,23.88 148.81,23.81 149.58,23.75 150.36,23.75 151.14,23.75 151.92,23.75 152.71,23.75 153.50,23.75 154.29,23.75" fill="none" stroke="#bfbf00" stroke-opacity="0.82" stroke-width="1.05" stroke-linejoin="round"/>
<polyline points="53.76,92.05 53.79,90.15 53.83,88.55 53.87,87.25 53.91,86.18 53.95,85.27 53.99,84.39 54.04,83.48 54.09,82.56 54.14,81.63 54.20,80.71 54.25,79.79 54.31,78.88 54.37,77.98 54.43,77.09 54.50,76.21 54.56,75.34 54.63,74.49 54.71,73.65 54.78,72.83 54.86,72.02 54.93,71.22 55.01,70.43 55.10,69.66 55.18,68.89 55.27,68.13 55.36,67.35 55.45,66.55 55.55,65.74 55.65,64.88 55.75,63.98 55.85,63.05 55.95,62.10 56.06,61.14 56.17,60.16 56.28,59.19 56.40,58.21 56.51,57.25 56.63,56.30 56.76,55.37 56.88,54.47 57.01,53.60 57.14,52.78 57.27,52.02 57.40,51.34 57.54,50.73 57.68,50.22 57.82,49.78 57.97,49.40 58.11,49.06 58.26,48.76 58.42,48.46 58.57,48.16 58.73,47.83 58.89,47.48 59.05,47.06 59.22,46.56" fill="none" stroke="#ffd700" stroke-opacity="0.51" stroke-width="0.85" stroke-linejoin="round"/>
<polyline points="59.22,46.56 59.39,45.85 59.56,44.88 59.73,43.94 59.91,43.35 60.09,43.07 60.27,42.84 60.45,42.65 60.64,42.49 60.83,42.36 61.02,42.25 61.22,42.15 61.41,42.05 61.62,41.96 61.82,41.86 62.02,41.76 62.23,41.63 62.44,41.49 62.66,41.36 62.88,41.22 63.09,41.08 63.32,40.95 63.54,40.81 63.77,40.74 64.00,40.67 64.23,40.60 64.47,40.53 64.71,40.47 64.95,40.41 65.20,40.35 65.44,40.27 65.69,40.19 65.95,40.11 66.20,40.03 66.46,39.95 66.72,39.87 66.99,39.79 67.26,39.68 67.53,39.57 67.80,39.46 68.08,39.35 68.35,39.24 68.64,39.14 68.92,39.03 69.21,38.95 69.50,38.86 69.79,38.78 70.09,38.70 70.39,38.61 70.69,38.53 70.99,38.45 71.30,38.38 71.61,38.32 71.93,38.25 72.24,38.18 72.56,38.11 72.88,38.04 73.21,37.97 73.54,37.87 73.87,37.76 74.20,37.65 74.54,37.54 74.88,37.43 75.22,37.32 75.57,37.20 75.92,37.13 76.27,37.06 76.63,36.98 76.98,36.90 77.35,36.81 77.71,36.73 78.08,36.64 78.45,36.52 78.82,36.40 79.20,36.28 79.57,36.15 79.96,36.03 80.34,35.90 80.73,35.78 81.12,35.67 81.52,35.55 81.91,35.44 82.31,35.33 82.72,35.22 83.12,35.11 83.53,34.99 83.95,34.89 84.36,34.80 84.78,34.70 85.20,34.60 85.63,34.50 86.05,34.40 86.49,34.30 86.92,34.20 87.36,34.10 87.80,33.99 88.24,33.89 88.69,33.79 89.14,33.68 89.59,33.58 90.05,33.48 90.50,33.38 90.97,33.29 91.43,33.19 91.90,33.09 92.37,32.99 92.85,32.89 93.32,32.75 93.81,32.61 94.29,32.47 94.78,32.33 95.27,32.19 95.76,32.05 96.26,31.91 96.76,31.81 97.26,31.70 97.77,31.60 98.28,31.49 98.79,31.38 99.30,31.28 99.82,31.17 100.34,31.06 100.87,30.95 101.40,30.85 101.93,30.74 102.47,30.63 103.00,30.52 103.54,30.41 104.09,30.30 104.64,30.20 105.19,30.10 105.74,30.00 106.30,29.90 106.86,29.80 107.42,29.70 107.99,29.58 108.56,29.47 109.13,29.36 109.71,29.25 110.29,29.13 110.87,29.02 111.46,28.91 112.05,28.79 112.64,28.68 113.24,28.57 113.84,28.45 114.44,28.34 115.05,28.22 115.66,28.11 116.27,27.98 116.89,27.84 117.51,27.71 118.13,27.58 118.75,27.46 119.38,27.33 120.01,27.20 120.65,27.10 121.29,27.00 121.93,26.90 122.58,26.80 123.23,26.70 123.88,26.60 124.53,26.50 125.19,26.37 125.85,26.24 126.52,26.11 127.19,25.98 127.86,25.86 128.54,25.73 129.21,25.61 129.90,25.54 130.58,25.47 131.27,25.41 131.96,25.34 132.66,25.28 133.36,25.23 134.06,25.17 134.76,25.04 135.47,24.92 136.18,24.79 136.90,24.67 137.62,24.55 138.34,24.43 139.07,24.32 139.80,24.29 140.53,24.27 141.26,24.25 142.00,24.23 142.74,24.23 143.49,24.22 144.24,24.21 144.99,24.16 145.75,24.11 146.51,24.06 147.27,24.01 148.04,23.96 148.81,23.91 149.58,23.87 150.36,23.87 151.14,23.87 151.92,23.87 152.71,23.87 153.50,23.87 154.29,23.87" fill="none" stroke="#ffd700" stroke-opacity="0.92" stroke-width="1.15" stroke-linejoin="round"/>
<polyline points="53.76,92.23 53.79,90.34 53.83,88.75 53.87,87.45 53.91,86.39 53.95,85.48 53.99,84.61 54.04,83.70 54.09,82.78 54.14,81.86 54.20,80.95 54.25,80.04 54.31,79.13 54.37,78.24 54.43,77.35 54.50,76.48 54.56,75.61 54.63,74.77 54.71,73.93 54.78,73.11 54.86,72.31 54.93,71.51 55.01,70.73 55.10,69.96 55.18,69.19 55.27,68.42 55.36,67.65 55.45,66.85 55.55,66.03 55.65,65.18 55.75,64.28 55.85,63.36 55.95,62.43 56.06,61.48 56.17,60.52 56.28,59.55 56.40,58.58 56.51,57.63 56.63,56.68 56.76,55.76 56.88,54.86 57.01,54.01 57.14,53.19 57.27,52.44 57.40,51.75 57.54,51.14 57.68,50.63 57.82,50.18 57.97,49.80 58.11,49.46 58.26,49.15 58.42,48.86 58.57,48.56 58.73,48.25 58.89,47.90 59.05,47.49 59.22,47.01 59.39,46.30" fill="none" stroke="#b0e0e6" stroke-opacity="0.51" stroke-width="0.85" stroke-linejoin="round"/>
<polyline points="59.39,46.30 59.56,45.35 59.73,44.42 59.91,43.84 60.09,43.58 60.27,43.36 60.45,43.18 60.64,43.03 60.83,42.90 61.02,42.79 61.22,42.69 61.41,42.60 61.62,42.50 61.82,42.40 62.02,42.31 62.23,42.21 62.44,42.11 62.66,42.00 62.88,41.91 63.09,41.81 63.32,41.71 63.54,41.61 63.77,41.53 64.00,41.45 64.23,41.37 64.47,41.29 64.71,41.22 64.95,41.15 65.20,41.07 65.44,40.97 65.69,40.86 65.95,40.74 66.20,40.63 66.46,40.52 66.72,40.41 66.99,40.30 67.26,40.16 67.53,40.03 67.80,39.91 68.08,39.78 68.35,39.65 68.64,39.52 68.92,39.40 69.21,39.33 69.50,39.27 69.79,39.21 70.09,39.14 70.39,39.08 70.69,39.02 70.99,38.95 71.30,38.87 71.61,38.80 71.93,38.72 72.24,38.64 72.56,38.56 72.88,38.48 73.21,38.40 73.54,38.32 73.87,38.23 74.20,38.14 74.54,38.05 74.88,37.96 75.22,37.87 75.57,37.77 75.92,37.70 76.27,37.62 76.63,37.54 76.98,37.46 77.35,37.38 77.71,37.29 78.08,37.21 78.45,37.10 78.82,36.99 79.20,36.87 79.57,36.76 79.96,36.65 80.34,36.54 80.73,36.42 81.12,36.33 81.52,36.24 81.91,36.15 82.31,36.06 82.72,35.97 83.12,35.87 83.53,35.78 83.95,35.69 84.36,35.60 84.78,35.51 85.20,35.41 85.63,35.32 86.05,35.23 86.49,35.13 86.92,35.02 87.36,34.90 87.80,34.78 88.24,34.67 88.69,34.55 89.14,34.44 89.59,34.32 90.05,34.20 90.50,34.08 90.97,33.96 91.43,33.84 91.90,33.71 92.37,33.59 92.85,33.47 93.32,33.39 93.81,33.31 94.29,33.24 94.78,33.16 95.27,33.08 95.76,33.00 96.26,32.92 96.76,32.77 97.26,32.61 97.77,32.45 98.28,32.30 98.79,32.14 99.30,31.98 99.82,31.83 100.34,31.76 100.87,31.68 101.40,31.61 101.93,31.54 102.47,31.46 103.00,31.39 103.54,31.31 104.09,31.19 104.64,31.07 105.19,30.94 105.74,30.82 106.30,30.69 106.86,30.57 107.42,30.45 107.99,30.37 108.56,30.29 109.13,30.20 109.71,30.12 110.29,30.04 110.87,29.96 111.46,29.88 112.05,29.72 112.64,29.57 113.24,29.42 113.84,29.26 114.44,29.11 115.05,28.96 115.66,28.81 116.27,28.73 116.89,28.65 117.51,28.57 118.13,28.49 118.75,28.41 119.38,28.33 120.01,28.25 120.65,28.15 121.29,28.04 121.93,27.94 122.58,27.84 123.23,27.74 123.88,27.64 124.53,27.54 125.19,27.42 125.85,27.31 126.52,27.19 127.19,27.08 127.86,26.96 128.54,26.84 129.21,26.73 129.90,26.63 130.58,26.54 131.27,26.45 131.96,26.35 132.66,26.25 133.36,26.15 134.06,26.04 134.76,25.86 135.47,25.66 136.18,25.46 136.90,25.25 137.62,25.05 138.34,24.85 139.07,24.66 139.80,24.54 140.53,24.44 141.26,24.36 142.00,24.30 142.74,24.27 143.49,24.24 144.24,24.21 144.99,24.18 145.75,24.14 146.51,24.11 147.27,24.08 148.04,24.06 148.81,24.03 149.58,24.01 150.36,24.00 151.14,23.98 151.92,23.97 152.71,23.96 153.50,23.95 154.29,23.94" fill="none" stroke="#b0e0e6" stroke-opacity="0.92" stroke-width="1.0" stroke-linejoin="round"/>
<line x1="53.45" y1="206.15" x2="53.75" y2="92.05" stroke="#a8dcb6" stroke-width="1.35"/>
<polyline points="153.36,24.30 201.47,24.11 300.15,23.40" fill="none" stroke="#a6dde0" stroke-width="1.0"/>
<polyline points="153.36,23.85 201.47,23.66 300.15,23.20" fill="none" stroke="#b6d686" stroke-width="1.2"/>
</g>
<line x1="53.45" y1="206.15" x2="300.15" y2="23.2" stroke="#10108a" stroke-width="1.7" stroke-dasharray="5.6 2.43"/>
<rect x="41.5" y="14.6" width="271.0" height="201.0" fill="none" stroke="#333" stroke-width="0.9"/>
<line x1="53.45" y1="215.6" x2="53.45" y2="218.29999999999998" stroke="#444" stroke-width="0.75"/>
<line x1="41.5" y1="206.15" x2="38.8" y2="206.15" stroke="#444" stroke-width="0.75"/>
<text x="53.45" y="228.90" font-size="10" text-anchor="middle" font-family='"Liberation Sans", sans-serif' textLength="14.60" lengthAdjust="spacingAndGlyphs">0.0</text>
<text x="35.30" y="210.05" font-size="10" text-anchor="end" font-family='"Liberation Sans", sans-serif' textLength="14.60" lengthAdjust="spacingAndGlyphs">0.0</text>
<line x1="102.79" y1="215.6" x2="102.79" y2="218.29999999999998" stroke="#444" stroke-width="0.75"/>
<line x1="41.5" y1="169.56" x2="38.8" y2="169.56" stroke="#444" stroke-width="0.75"/>
<text x="102.79" y="228.90" font-size="10" text-anchor="middle" font-family='"Liberation Sans", sans-serif' textLength="14.60" lengthAdjust="spacingAndGlyphs">0.2</text>
<text x="35.30" y="173.46" font-size="10" text-anchor="end" font-family='"Liberation Sans", sans-serif' textLength="14.60" lengthAdjust="spacingAndGlyphs">0.2</text>
<line x1="152.13" y1="215.6" x2="152.13" y2="218.29999999999998" stroke="#444" stroke-width="0.75"/>
<line x1="41.5" y1="132.97" x2="38.8" y2="132.97" stroke="#444" stroke-width="0.75"/>
<text x="152.13" y="228.90" font-size="10" text-anchor="middle" font-family='"Liberation Sans", sans-serif' textLength="14.60" lengthAdjust="spacingAndGlyphs">0.4</text>
<text x="35.30" y="136.87" font-size="10" text-anchor="end" font-family='"Liberation Sans", sans-serif' textLength="14.60" lengthAdjust="spacingAndGlyphs">0.4</text>
<line x1="201.47" y1="215.6" x2="201.47" y2="218.29999999999998" stroke="#444" stroke-width="0.75"/>
<line x1="41.5" y1="96.38" x2="38.8" y2="96.38" stroke="#444" stroke-width="0.75"/>
<text x="201.47" y="228.90" font-size="10" text-anchor="middle" font-family='"Liberation Sans", sans-serif' textLength="14.60" lengthAdjust="spacingAndGlyphs">0.6</text>
<text x="35.30" y="100.28" font-size="10" text-anchor="end" font-family='"Liberation Sans", sans-serif' textLength="14.60" lengthAdjust="spacingAndGlyphs">0.6</text>
<line x1="250.81" y1="215.6" x2="250.81" y2="218.29999999999998" stroke="#444" stroke-width="0.75"/>
<line x1="41.5" y1="59.79" x2="38.8" y2="59.79" stroke="#444" stroke-width="0.75"/>
<text x="250.81" y="228.90" font-size="10" text-anchor="middle" font-family='"Liberation Sans", sans-serif' textLength="14.60" lengthAdjust="spacingAndGlyphs">0.8</text>
<text x="35.30" y="63.69" font-size="10" text-anchor="end" font-family='"Liberation Sans", sans-serif' textLength="14.60" lengthAdjust="spacingAndGlyphs">0.8</text>
<line x1="300.15" y1="215.6" x2="300.15" y2="218.29999999999998" stroke="#444" stroke-width="0.75"/>
<line x1="41.5" y1="23.20" x2="38.8" y2="23.20" stroke="#444" stroke-width="0.75"/>
<text x="300.15" y="228.90" font-size="10" text-anchor="middle" font-family='"Liberation Sans", sans-serif' textLength="14.60" lengthAdjust="spacingAndGlyphs">1.0</text>
<text x="35.30" y="27.10" font-size="10" text-anchor="end" font-family='"Liberation Sans", sans-serif' textLength="14.60" lengthAdjust="spacingAndGlyphs">1.0</text>
<text x="176.70" y="247.20" font-size="12.5" text-anchor="middle" font-family='"Liberation Sans", sans-serif' textLength="113.00" lengthAdjust="spacingAndGlyphs">False Positive Rate</text>
<g transform="translate(10.3,115.0) rotate(-90)"><text x="0.00" y="0.00" font-size="12.4" text-anchor="middle" font-family='"Liberation Sans", sans-serif' textLength="107.50" lengthAdjust="spacingAndGlyphs">True Positive Rate</text></g>
<text x="177.00" y="9.20" font-size="12.5" text-anchor="middle" font-family='"Liberation Sans", sans-serif' textLength="296.40" lengthAdjust="spacingAndGlyphs">5 fold cross-validation in LncRNADisease dataset</text>
<rect x="179.5" y="121.6" width="128.80" height="89.2" rx="2" fill="#fff" fill-opacity="0.8" stroke="#d4d4d4" stroke-width="0.9"/>
<line x1="182.0" y1="129.00" x2="201.7" y2="129.00" stroke="#55c6be" stroke-width="1.4"/>
<text x="208.30" y="132.35" font-size="10.2" text-anchor="start" font-family='"Liberation Sans", sans-serif' textLength="94.00" lengthAdjust="spacingAndGlyphs">mean(auc = 0.9760)</text>
<line x1="182.0" y1="143.60" x2="201.7" y2="143.60" stroke="#45bdb7" stroke-width="1.4"/>
<text x="208.30" y="146.90" font-size="10.2" text-anchor="start" font-family='"Liberation Sans", sans-serif' textLength="95.60" lengthAdjust="spacingAndGlyphs">fold_1(auc = 0.9750)</text>
<line x1="182.0" y1="157.90" x2="201.7" y2="157.90" stroke="#7b9b33" stroke-width="1.3"/>
<text x="208.30" y="161.45" font-size="10.2" text-anchor="start" font-family='"Liberation Sans", sans-serif' textLength="95.60" lengthAdjust="spacingAndGlyphs">fold_2(auc = 0.9746)</text>
<line x1="182.0" y1="172.55" x2="201.7" y2="172.55" stroke="#bcbc30" stroke-width="1.3"/>
<text x="208.30" y="176.00" font-size="10.2" text-anchor="start" font-family='"Liberation Sans", sans-serif' textLength="95.60" lengthAdjust="spacingAndGlyphs">fold_3(auc = 0.9778)</text>
<line x1="182.0" y1="187.40" x2="201.7" y2="187.40" stroke="#ffd21c" stroke-width="1.3"/>
<text x="208.30" y="190.55" font-size="10.2" text-anchor="start" font-family='"Liberation Sans", sans-serif' textLength="95.60" lengthAdjust="spacingAndGlyphs">fold_4(auc = 0.9752)</text>
<line x1="182.0" y1="201.50" x2="201.7" y2="201.50" stroke="#b0e0e8" stroke-width="1.05"/>
<text x="208.30" y="205.10" font-size="10.2" text-anchor="start" font-family='"Liberation Sans", sans-serif' textLength="95.60" lengthAdjust="spacingAndGlyphs">fold_5(auc = 0.9776)</text>
</g>
<g transform="translate(365.3,326.9)">
<g filter="url(#soft)">
<polyline points="53.87,190.00 53.91,188.78 53.95,187.61 53.99,186.48 54.04,185.35 54.09,184.22 54.14,183.13 54.20,182.06 54.25,181.02 54.31,179.97 54.37,178.92 54.43,177.88 54.50,176.84 54.56,175.79 54.63,174.76 54.71,173.72 54.78,172.70 54.86,171.67 54.93,170.65 55.01,169.62 55.10,168.59 55.18,167.55 55.27,166.49 55.36,165.41 55.45,164.29 55.55,163.16 55.65,162.03 55.75,160.89 55.85,159.75 55.95,158.59 56.06,157.43 56.17,156.25 56.28,155.06 56.40,153.85 56.51,152.65 56.63,151.45 56.76,150.24 56.88,149.02 57.01,147.80 57.14,146.57 57.27,145.33 57.40,144.09 57.54,142.83 57.68,141.55" fill="none" stroke="#20b2aa" stroke-opacity="0.39" stroke-width="0.85" stroke-linejoin="round"/>
<polyline points="57.68,141.55 57.82,140.24 57.97,138.91 58.11,137.55 58.26,136.17 58.42,134.74 58.57,133.30 58.73,131.84 58.89,130.36 59.05,128.88 59.22,127.41 59.39,125.93 59.56,124.49 59.73,123.06 59.91,121.67 60.09,120.33 60.27,119.04 60.45,117.81 60.64,116.64 60.83,115.41 61.02,114.17 61.22,112.92 61.41,111.69 61.62,110.45 61.82,109.23 62.02,108.02 62.23,106.90 62.44,105.78 62.66,104.68 62.88,103.59 63.09,102.52 63.32,101.48 63.54,100.46 63.77,99.48 64.00,98.52 64.23,97.59 64.47,96.67 64.71,95.77 64.95,94.91 65.20,94.04 65.44,93.06 65.69,92.08 65.95,91.15 66.20,90.25 66.46,89.37 66.72,88.50 66.99,87.63 67.26,86.94 67.53,86.24 67.80,85.54 68.08,84.84 68.35,84.14 68.64,83.44 68.92,82.75 69.21,81.86 69.50,80.99 69.79,80.12 70.09,79.26 70.39,78.40 70.69,77.55 70.99,76.71 71.30,76.02 71.61,75.33 71.93,74.63 72.24,73.95 72.56,73.27 72.88,72.59 73.21,71.92 73.54,71.23 73.87,70.55 74.20,69.86 74.54,69.19 74.88,68.51 75.22,67.85 75.57,67.19 75.92,66.56 76.27,65.93 76.63,65.30 76.98,64.67 77.35,64.05 77.71,63.43 78.08,62.81 78.45,62.19 78.82,61.57 79.20,60.96 79.57,60.34 79.96,59.74 80.34,59.14 80.73,58.54 81.12,57.84 81.52,57.14 81.91,56.46 82.31,55.79 82.72,55.13 83.12,54.48 83.53,53.84 83.95,53.34 84.36,52.86 84.78,52.39 85.20,51.94 85.63,51.50 86.05,51.07 86.49,50.64 86.92,50.20 87.36,49.76 87.80,49.34 88.24,48.92 88.69,48.51 89.14,48.11 89.59,47.72 90.05,47.32 90.50,46.94 90.97,46.55 91.43,46.17 91.90,45.79 92.37,45.44 92.85,45.09 93.32,44.71 93.81,44.34 94.29,43.98 94.78,43.64 95.27,43.30 95.76,42.97 96.26,42.65 96.76,42.37 97.26,42.09 97.77,41.82 98.28,41.56 98.79,41.30 99.30,41.05 99.82,40.81 100.34,40.51 100.87,40.21 101.40,39.92 101.93,39.65 102.47,39.38 103.00,39.12 103.54,38.87 104.09,38.75 104.64,38.64 105.19,38.53 105.74,38.41 106.30,38.30 106.86,38.19 107.42,38.08 107.99,37.89 108.56,37.71 109.13,37.53 109.71,37.36 110.29,37.19 110.87,37.02 111.46,36.86 112.05,36.75 112.64,36.64 113.24,36.53 113.84,36.42 114.44,36.30 115.05,36.17 115.66,36.03 116.27,35.82 116.89,35.59 117.51,35.34 118.13,35.08 118.75,34.82 119.38,34.55 120.01,34.27 120.65,34.13 121.29,33.99 121.93,33.86 122.58,33.75 123.23,33.66 123.88,33.59 124.53,33.54 125.19,33.37 125.85,33.21 126.52,33.05 127.19,32.89 127.86,32.74 128.54,32.59 129.21,32.44 129.90,32.37 130.58,32.29 131.27,32.22 131.96,32.15 132.66,32.08 133.36,32.01 134.06,31.94 134.76,31.88 135.47,31.81 136.18,31.75 136.90,31.68 137.62,31.60 138.34,31.53 139.07,31.45 139.80,31.28 140.53,31.10 141.26,30.92 142.00,30.74 142.74,30.55 143.49,30.36 144.24,30.16 144.99,30.07 145.75,29.98 146.51,29.89 147.27,29.80 148.04,29.71 148.81,29.62 149.58,29.53 150.36,29.40 151.14,29.28 151.92,29.17 152.71,29.05 153.50,28.95 154.29,28.84 155.09,28.75 155.89,28.61 156.69,28.48 157.50,28.37 158.31,28.25 159.12,28.13 159.94,28.02 160.76,27.91 161.58,27.90 162.41,27.90 163.24,27.90 164.08,27.90 164.92,27.90 165.76,27.90 166.60,27.90 167.45,27.78 168.30,27.65 169.16,27.52 170.02,27.40 170.88,27.28 171.74,27.16 172.61,27.05 173.49,26.98 174.36,26.93 175.24,26.87 176.13,26.81 177.01,26.76 177.90,26.70 178.80,26.65 179.69,26.64 180.59,26.64 181.50,26.63 182.41,26.63 183.32,26.63 184.23,26.62 185.15,26.62 186.07,26.55 187.00,26.48 187.92,26.40 188.86,26.33 189.79,26.27 190.73,26.20 191.67,26.13 192.62,26.09 193.57,26.05 194.52,26.01 195.48,25.97 196.44,25.93 197.40,25.89 198.37,25.85 199.34,25.85 200.32,25.85 201.29,25.85 202.27,25.85 203.26,25.85 204.25,25.85 205.24,25.85 206.24,25.85 207.24,25.85 208.24,25.85 209.24,25.85 210.25,25.85 211.27,25.85 212.28,25.85 213.31,25.85 214.33,25.85 215.36,25.78 216.39,25.72 217.42,25.65 218.46,25.59 219.50,25.52 220.55,25.50 221.60,25.47 222.65,25.45 223.71,25.43 224.77,25.41 225.83,25.38 226.90,25.36 227.97,25.32 229.04,25.28 230.12,25.25 231.20,25.21 232.29,25.18 233.38,25.14 234.47,25.10 235.56,25.05 236.66,25.00 237.77,24.95 238.87,24.90 239.98,24.85 241.10,24.80 242.21,24.75 243.34,24.75 244.46,24.75 245.59,24.75 246.72,24.75 247.86,24.75 249.00,24.75 250.14,24.75 251.29,24.70 252.44,24.62 253.59,24.55 254.75,24.48 255.91,24.41 257.07,24.34 258.24,24.27 259.41,24.24 260.59,24.21 261.77,24.17 262.95,24.14 264.14,24.11 265.33,24.08 266.52,24.05 267.72,24.02 268.92,24.00 270.13,23.97 271.34,23.94 272.55,23.92 273.76,23.89 274.98,23.86 276.21,23.81 277.43,23.75 278.66,23.70 279.90,23.64 281.14,23.59 282.38,23.54 283.62,23.48 284.87,23.45 286.13,23.42 287.38,23.39 288.64,23.36 289.91,23.32 291.17,23.29 292.44,23.26 293.72,23.24 295.00,23.21 296.28,23.20 297.57,23.20 298.86,23.20 300.15,23.20" fill="none" stroke="#20b2aa" stroke-opacity="0.7" stroke-width="1.2" stroke-linejoin="round"/>
<polyline points="53.87,187.23 53.91,185.94 53.95,184.76 53.99,183.64 54.04,182.51 54.09,181.38 54.14,180.25 54.20,179.13 54.25,178.02 54.31,176.92 54.37,175.82 54.43,174.74 54.50,173.66 54.56,172.60 54.63,171.56 54.71,170.53 54.78,169.51 54.86,168.50 54.93,167.49 55.01,166.48 55.10,165.45 55.18,164.40 55.27,163.32 55.36,162.19 55.45,161.01 55.55,159.81 55.65,158.62 55.75,157.39 55.85,156.16 55.95,154.92 56.06,153.67 56.17,152.41 56.28,151.14 56.40,149.86 56.51,148.61 56.63,147.35 56.76,146.09 56.88,144.83 57.01,143.56 57.14,142.27 57.27,140.96" fill="none" stroke="#20b2aa" stroke-opacity="0.48" stroke-width="0.85" stroke-linejoin="round"/>
<polyline points="57.27,140.96 57.40,139.59 57.54,138.18 57.68,136.74 57.82,135.24 57.97,133.70 58.11,132.13 58.26,130.52 58.42,128.91 58.57,127.28 58.73,125.63 58.89,123.95 59.05,122.28 59.22,120.61 59.39,118.96 59.56,117.34 59.73,115.78 59.91,114.26 60.09,112.84 60.27,111.55 60.45,110.39 60.64,109.32 60.83,108.27 61.02,107.22 61.22,106.16 61.41,105.13 61.62,104.14 61.82,103.20 62.02,102.28 62.23,101.39 62.44,100.51 62.66,99.63 62.88,98.78 63.09,97.90 63.32,97.00 63.54,96.17 63.77,95.44 64.00,94.72 64.23,94.00 64.47,93.28 64.71,92.56 64.95,91.86 65.20,91.16 65.44,90.32 65.69,89.47 65.95,88.62 66.20,87.78 66.46,86.96 66.72,86.17 66.99,85.40 67.26,84.69 67.53,83.98 67.80,83.24 68.08,82.50 68.35,81.76 68.64,81.00 68.92,80.26 69.21,79.52 69.50,78.84 69.79,78.17 70.09,77.46 70.39,76.74 70.69,76.03 70.99,75.34 71.30,74.62 71.61,73.90 71.93,73.15 72.24,72.41 72.56,71.67 72.88,70.95 73.21,70.21 73.54,69.56 73.87,68.90 74.20,68.27 74.54,67.62 74.88,66.96 75.22,66.29 75.57,65.63 75.92,65.01 76.27,64.37 76.63,63.73 76.98,63.07 77.35,62.42 77.71,61.75 78.08,61.09 78.45,60.33 78.82,59.54 79.20,58.75 79.57,57.96 79.96,57.19 80.34,56.42 80.73,55.67 81.12,55.04 81.52,54.42 81.91,53.81 82.31,53.21 82.72,52.63 83.12,52.07 83.53,51.51 83.95,50.95 84.36,50.41 84.78,49.88 85.20,49.37 85.63,48.88 86.05,48.41 86.49,47.95 86.92,47.44 87.36,46.94 87.80,46.44 88.24,45.97 88.69,45.50 89.14,45.08 89.59,44.67 90.05,44.28 90.50,43.88 90.97,43.51 91.43,43.14 91.90,42.78 92.37,42.41 92.85,42.07 93.32,41.72 93.81,41.36 94.29,41.03 94.78,40.70 95.27,40.41 95.76,40.10 96.26,39.79 96.76,39.65 97.26,39.49 97.77,39.33 98.28,39.19 98.79,39.04 99.30,38.90 99.82,38.75 100.34,38.50 100.87,38.25 101.40,38.01 101.93,37.76 102.47,37.50 103.00,37.28 103.54,37.07 104.09,36.87 104.64,36.68 105.19,36.51 105.74,36.33 106.30,36.17 106.86,36.00 107.42,35.82 107.99,35.66 108.56,35.50 109.13,35.36 109.71,35.22 110.29,35.09 110.87,34.96 111.46,34.84 112.05,34.68 112.64,34.53 113.24,34.39 113.84,34.26 114.44,34.14 115.05,34.03 115.66,33.92 116.27,33.84 116.89,33.78 117.51,33.69 118.13,33.61 118.75,33.52 119.38,33.43 120.01,33.34 120.65,33.26 121.29,33.18 121.93,33.11 122.58,33.04 123.23,32.98 123.88,32.92 124.53,32.87 125.19,32.78 125.85,32.69 126.52,32.61 127.19,32.53 127.86,32.45 128.54,32.37 129.21,32.29 129.90,32.15 130.58,32.01 131.27,31.86 131.96,31.72 132.66,31.57 133.36,31.43 134.06,31.28 134.76,31.25 135.47,31.22 136.18,31.18 136.90,31.14 137.62,31.10 138.34,31.05 139.07,31.00 139.80,30.92 140.53,30.84 141.26,30.75 142.00,30.65 142.74,30.55 143.49,30.44 144.24,30.32 144.99,30.18 145.75,30.04 146.51,29.90 147.27,29.75 148.04,29.60 148.81,29.46 149.58,29.31 150.36,29.17 151.14,29.03 151.92,28.89 152.71,28.75 153.50,28.62 154.29,28.50 155.09,28.38 155.89,28.33 156.69,28.29 157.50,28.25 158.31,28.21 159.12,28.18 159.94,28.15 160.76,28.11 161.58,27.97 162.41,27.82 163.24,27.68 164.08,27.54 164.92,27.39 165.76,27.25 166.60,27.11 167.45,27.02 168.30,26.92 169.16,26.83 170.02,26.74 170.88,26.66 171.74,26.57 172.61,26.49 173.49,26.45 174.36,26.40 175.24,26.35 176.13,26.30 177.01,26.26 177.90,26.22 178.80,26.18 179.69,26.11 180.59,26.05 181.50,25.99 182.41,25.92 183.32,25.86 184.23,25.79 185.15,25.72 186.07,25.66 187.00,25.61 187.92,25.56 188.86,25.51 189.79,25.45 190.73,25.39 191.67,25.32 192.62,25.30 193.57,25.27 194.52,25.24 195.48,25.21 196.44,25.19 197.40,25.16 198.37,25.14 199.34,25.06 200.32,24.99 201.29,24.91 202.27,24.84 203.26,24.77 204.25,24.70 205.24,24.63 206.24,24.56 207.24,24.49 208.24,24.42 209.24,24.36 210.25,24.30 211.27,24.24 212.28,24.18 213.31,24.16 214.33,24.14 215.36,24.12 216.39,24.11 217.42,24.09 218.46,24.08 219.50,24.07 220.55,23.99 221.60,23.92 222.65,23.85 223.71,23.78 224.77,23.72 225.83,23.65 226.90,23.58 227.97,23.58 229.04,23.58 230.12,23.58 231.20,23.58 232.29,23.58 233.38,23.58 234.47,23.58 235.56,23.58 236.66,23.58 237.77,23.58 238.87,23.58 239.98,23.58 241.10,23.58 242.21,23.58 243.34,23.58 244.46,23.58 245.59,23.58 246.72,23.58 247.86,23.58 249.00,23.58 250.14,23.58 251.29,23.58 252.44,23.58 253.59,23.58 254.75,23.58 255.91,23.58 257.07,23.55 258.24,23.53 259.41,23.50 260.59,23.48 261.77,23.45 262.95,23.43 264.14,23.41 265.33,23.39 266.52,23.37 267.72,23.37 268.92,23.37 270.13,23.37 271.34,23.37 272.55,23.37 273.76,23.37 274.98,23.37 276.21,23.37 277.43,23.35 278.66,23.32 279.90,23.30 281.14,23.28 282.38,23.26 283.62,23.23 284.87,23.23 286.13,23.23 287.38,23.23 288.64,23.23 289.91,23.22 291.17,23.22 292.44,23.22 293.72,23.21 295.00,23.20 296.28,23.20 297.57,23.20 298.86,23.20 300.15,23.20" fill="none" stroke="#20b2aa" stroke-opacity="0.88" stroke-width="1.2" stroke-linejoin="round"/>
<polyline points="53.87,193.47 53.91,192.35 53.95,191.22 53.99,190.08 54.04,188.96 54.09,187.86 54.14,186.80 54.20,185.81 54.25,184.85 54.31,183.87 54.37,182.88 54.43,181.89 54.50,180.89 54.56,179.90 54.63,178.91 54.71,177.91 54.78,176.92 54.86,175.93 54.93,174.95 55.01,173.97 55.10,172.98 55.18,171.99 55.27,171.01 55.36,170.02 55.45,169.04 55.55,168.06 55.65,167.07 55.75,166.07 55.85,165.06 55.95,164.04 56.06,163.01 56.17,161.96 56.28,160.88 56.40,159.76 56.51,158.68 56.63,157.60 56.76,156.52 56.88,155.43 57.01,154.35 57.14,153.27 57.27,152.19 57.40,151.06 57.54,149.92 57.68,148.77 57.82,147.63 57.97,146.48 58.11,145.32 58.26,144.17 58.42,143.03 58.57,141.88" fill="none" stroke="#6b8e23" stroke-opacity="0.50" stroke-width="0.85" stroke-linejoin="round"/>
<polyline points="58.57,141.88 58.73,140.74 58.89,139.57 59.05,138.40 59.22,137.22 59.39,136.02 59.56,134.79 59.73,133.54 59.91,132.28 60.09,131.00 60.27,129.73 60.45,128.47 60.64,127.19 60.83,125.92 61.02,124.65 61.22,123.40 61.41,122.14 61.62,120.87 61.82,119.59 62.02,118.31 62.23,117.05 62.44,115.81 62.66,114.58 62.88,113.36 63.09,112.16 63.32,110.99 63.54,109.84 63.77,108.80 64.00,107.81 64.23,106.84 64.47,105.89 64.71,104.92 64.95,103.97 65.20,103.03 65.44,101.96 65.69,100.88 65.95,99.81 66.20,98.76 66.46,97.71 66.72,96.67 66.99,95.59 67.26,94.67 67.53,93.76 67.80,92.88 68.08,92.01 68.35,91.18 68.64,90.35 68.92,89.54 69.21,88.66 69.50,87.77 69.79,86.90 70.09,86.04 70.39,85.18 70.69,84.32 70.99,83.47 71.30,82.62 71.61,81.77 71.93,80.93 72.24,80.09 72.56,79.26 72.88,78.43 73.21,77.60 73.54,76.89 73.87,76.19 74.20,75.50 74.54,74.84 74.88,74.20 75.22,73.57 75.57,72.95 75.92,72.17 76.27,71.40 76.63,70.64 76.98,69.89 77.35,69.15 77.71,68.43 78.08,67.72 78.45,67.18 78.82,66.65 79.20,66.14 79.57,65.63 79.96,65.11 80.34,64.60 80.73,64.09 81.12,63.53 81.52,62.99 81.91,62.46 82.31,61.96 82.72,61.44 83.12,60.93 83.53,60.43 83.95,59.81 84.36,59.20 84.78,58.59 85.20,58.00 85.63,57.42 86.05,56.85 86.49,56.30 86.92,55.83 87.36,55.37 87.80,54.92 88.24,54.47 88.69,54.01 89.14,53.55 89.59,53.11 90.05,52.69 90.50,52.28 90.97,51.87 91.43,51.50 91.90,51.14 92.37,50.77 92.85,50.39 93.32,50.04 93.81,49.70 94.29,49.36 94.78,49.02 95.27,48.69 95.76,48.37 96.26,48.06 96.76,47.67 97.26,47.28 97.77,46.89 98.28,46.50 98.79,46.13 99.30,45.76 99.82,45.39 100.34,45.09 100.87,44.81 101.40,44.53 101.93,44.26 102.47,43.98 103.00,43.70 103.54,43.43 104.09,43.20 104.64,42.98 105.19,42.76 105.74,42.55 106.30,42.35 106.86,42.16 107.42,41.98 107.99,41.72 108.56,41.49 109.13,41.26 109.71,41.05 110.29,40.85 110.87,40.65 111.46,40.46 112.05,40.22 112.64,39.98 113.24,39.74 113.84,39.50 114.44,39.23 115.05,38.94 115.66,38.63 116.27,38.34 116.89,38.02 117.51,37.67 118.13,37.29 118.75,36.90 119.38,36.50 120.01,36.09 120.65,35.76 121.29,35.44 121.93,35.13 122.58,34.85 123.23,34.60 123.88,34.39 124.53,34.23 125.19,34.07 125.85,33.92 126.52,33.78 127.19,33.65 127.86,33.52 128.54,33.40 129.21,33.29 129.90,33.10 130.58,32.91 131.27,32.73 131.96,32.56 132.66,32.39 133.36,32.22 134.06,32.06 134.76,31.98 135.47,31.90 136.18,31.82 136.90,31.75 137.62,31.67 138.34,31.59 139.07,31.50 139.80,31.36 140.53,31.22 141.26,31.07 142.00,30.93 142.74,30.78 143.49,30.64 144.24,30.49 144.99,30.40 145.75,30.31 146.51,30.22 147.27,30.13 148.04,30.04 148.81,29.95 149.58,29.87 150.36,29.71 151.14,29.55 151.92,29.39 152.71,29.25 153.50,29.10 154.29,28.96 155.09,28.83 155.89,28.77 156.69,28.71 157.50,28.66 158.31,28.61 159.12,28.57 159.94,28.52 160.76,28.48 161.58,28.38 162.41,28.29 163.24,28.19 164.08,28.10 164.92,28.01 165.76,27.92 166.60,27.83 167.45,27.79 168.30,27.74 169.16,27.70 170.02,27.66 170.88,27.61 171.74,27.57 172.61,27.53 173.49,27.51 174.36,27.49 175.24,27.47 176.13,27.44 177.01,27.43 177.90,27.41 178.80,27.39 179.69,27.39 180.59,27.39 181.50,27.39 182.41,27.39 183.32,27.39 184.23,27.39 185.15,27.39 186.07,27.39 187.00,27.37 187.92,27.32 188.86,27.27 189.79,27.22 190.73,27.18 191.67,27.13 192.62,27.12 193.57,27.11 194.52,27.11 195.48,27.10 196.44,27.09 197.40,27.08 198.37,27.07 199.34,27.01 200.32,26.96 201.29,26.91 202.27,26.86 203.26,26.80 204.25,26.75 205.24,26.69 206.24,26.69 207.24,26.69 208.24,26.69 209.24,26.69 210.25,26.69 211.27,26.69 212.28,26.69 213.31,26.68 214.33,26.61 215.36,26.54 216.39,26.47 217.42,26.40 218.46,26.32 219.50,26.25 220.55,26.19 221.60,26.13 222.65,26.07 223.71,26.02 224.77,25.96 225.83,25.90 226.90,25.84 227.97,25.80 229.04,25.75 230.12,25.71 231.20,25.67 232.29,25.63 233.38,25.59 234.47,25.55 235.56,25.50 236.66,25.44 237.77,25.39 238.87,25.35 239.98,25.30 241.10,25.25 242.21,25.20 243.34,25.14 244.46,25.08 245.59,25.03 246.72,24.97 247.86,24.91 249.00,24.85 250.14,24.80 251.29,24.79 252.44,24.79 253.59,24.78 254.75,24.77 255.91,24.77 257.07,24.76 258.24,24.75 259.41,24.70 260.59,24.65 261.77,24.60 262.95,24.55 264.14,24.50 265.33,24.45 266.52,24.41 267.72,24.36 268.92,24.32 270.13,24.28 271.34,24.24 272.55,24.20 273.76,24.16 274.98,24.11 276.21,24.06 277.43,24.01 278.66,23.96 279.90,23.91 281.14,23.86 282.38,23.81 283.62,23.76 284.87,23.73 286.13,23.69 287.38,23.65 288.64,23.61 289.91,23.57 291.17,23.53 292.44,23.49 293.72,23.45 295.00,23.41 296.28,23.37 297.57,23.33 298.86,23.29 300.15,23.20" fill="none" stroke="#6b8e23" stroke-opacity="0.9" stroke-width="1.2" stroke-linejoin="round"/>
<polyline points="53.87,190.59 53.91,189.39 53.95,188.25 53.99,187.12 54.04,185.99 54.09,184.88 54.14,183.80 54.20,182.77 54.25,181.75 54.31,180.73 54.37,179.71 54.43,178.69 54.50,177.68 54.56,176.67 54.63,175.67 54.71,174.67 54.78,173.68 54.86,172.69 54.93,171.71 55.01,170.72 55.10,169.72 55.18,168.72 55.27,167.69 55.36,166.66 55.45,165.60 55.55,164.52 55.65,163.45 55.75,162.40 55.85,161.35 55.95,160.30 56.06,159.24 56.17,158.18 56.28,157.09 56.40,155.99 56.51,154.83 56.63,153.67 56.76,152.51 56.88,151.34 57.01,150.16 57.14,148.98 57.27,147.78 57.40,146.59 57.54,145.38 57.68,144.17 57.82,142.95 57.97,141.72" fill="none" stroke="#bfbf00" stroke-opacity="0.45" stroke-width="0.85" stroke-linejoin="round"/>
<polyline points="57.97,141.72 58.11,140.46 58.26,139.19 58.42,137.96 58.57,136.71 58.73,135.46 58.89,134.21 59.05,132.97 59.22,131.71 59.39,130.45 59.56,129.13 59.73,127.83 59.91,126.53 60.09,125.25 60.27,124.02 60.45,122.81 60.64,121.62 60.83,120.45 61.02,119.28 61.22,118.12 61.41,116.99 61.62,115.85 61.82,114.68 62.02,113.52 62.23,112.38 62.44,111.22 62.66,110.08 62.88,108.94 63.09,107.81 63.32,106.71 63.54,105.63 63.77,104.58 64.00,103.56 64.23,102.54 64.47,101.55 64.71,100.58 64.95,99.61 65.20,98.67 65.44,97.78 65.69,96.88 65.95,95.95 66.20,95.01 66.46,94.08 66.72,93.19 66.99,92.27 67.26,91.20 67.53,90.18 67.80,89.19 68.08,88.21 68.35,87.23 68.64,86.24 68.92,85.28 69.21,84.41 69.50,83.57 69.79,82.73 70.09,81.91 70.39,81.10 70.69,80.29 70.99,79.51 71.30,78.70 71.61,77.88 71.93,77.07 72.24,76.27 72.56,75.46 72.88,74.69 73.21,73.94 73.54,73.23 73.87,72.52 74.20,71.81 74.54,71.13 74.88,70.46 75.22,69.77 75.57,69.10 75.92,68.49 76.27,67.90 76.63,67.32 76.98,66.76 77.35,66.20 77.71,65.62 78.08,65.05 78.45,64.42 78.82,63.80 79.20,63.18 79.57,62.56 79.96,61.94 80.34,61.32 80.73,60.70 81.12,60.14 81.52,59.60 81.91,59.05 82.31,58.50 82.72,57.98 83.12,57.46 83.53,56.98 83.95,56.48 84.36,56.01 84.78,55.54 85.20,55.05 85.63,54.55 86.05,54.05 86.49,53.56 86.92,53.04 87.36,52.52 87.80,52.01 88.24,51.50 88.69,50.98 89.14,50.48 89.59,49.96 90.05,49.52 90.50,49.10 90.97,48.67 91.43,48.26 91.90,47.86 92.37,47.47 92.85,47.10 93.32,46.59 93.81,46.08 94.29,45.57 94.78,45.07 95.27,44.60 95.76,44.12 96.26,43.66 96.76,43.30 97.26,42.96 97.77,42.64 98.28,42.33 98.79,42.01 99.30,41.70 99.82,41.41 100.34,41.23 100.87,41.04 101.40,40.87 101.93,40.71 102.47,40.55 103.00,40.40 103.54,40.26 104.09,40.00 104.64,39.75 105.19,39.49 105.74,39.24 106.30,38.98 106.86,38.75 107.42,38.53 107.99,38.33 108.56,38.14 109.13,37.97 109.71,37.79 110.29,37.62 110.87,37.45 111.46,37.28 112.05,37.19 112.64,37.10 113.24,37.01 113.84,36.92 114.44,36.82 115.05,36.72 115.66,36.62 116.27,36.41 116.89,36.20 117.51,35.98 118.13,35.74 118.75,35.50 119.38,35.26 120.01,35.01 120.65,34.77 121.29,34.53 121.93,34.30 122.58,34.09 123.23,33.90 123.88,33.73 124.53,33.60 125.19,33.37 125.85,33.14 126.52,32.92 127.19,32.71 127.86,32.50 128.54,32.30 129.21,32.10 129.90,32.06 130.58,32.03 131.27,32.00 131.96,31.97 132.66,31.94 133.36,31.91 134.06,31.88 134.76,31.77 135.47,31.66 136.18,31.55 136.90,31.43 137.62,31.32 138.34,31.20 139.07,31.08 139.80,31.02 140.53,30.95 141.26,30.88 142.00,30.81 142.74,30.73 143.49,30.65 144.24,30.56 144.99,30.37 145.75,30.17 146.51,29.97 147.27,29.77 148.04,29.57 148.81,29.37 149.58,29.17 150.36,29.03 151.14,28.90 151.92,28.77 152.71,28.64 153.50,28.52 154.29,28.40 155.09,28.29 155.89,28.21 156.69,28.15 157.50,28.10 158.31,28.04 159.12,28.00 159.94,27.95 160.76,27.90 161.58,27.81 162.41,27.71 163.24,27.62 164.08,27.52 164.92,27.43 165.76,27.34 166.60,27.25 167.45,27.19 168.30,27.12 169.16,27.06 170.02,27.00 170.88,26.95 171.74,26.89 172.61,26.84 173.49,26.84 174.36,26.84 175.24,26.84 176.13,26.84 177.01,26.84 177.90,26.84 178.80,26.84 179.69,26.84 180.59,26.84 181.50,26.82 182.41,26.74 183.32,26.65 184.23,26.56 185.15,26.48 186.07,26.40 187.00,26.32 187.92,26.24 188.86,26.16 189.79,26.09 190.73,26.02 191.67,25.95 192.62,25.95 193.57,25.95 194.52,25.95 195.48,25.95 196.44,25.95 197.40,25.95 198.37,25.95 199.34,25.95 200.32,25.93 201.29,25.88 202.27,25.83 203.26,25.77 204.25,25.72 205.24,25.66 206.24,25.64 207.24,25.61 208.24,25.58 209.24,25.55 210.25,25.52 211.27,25.50 212.28,25.47 213.31,25.46 214.33,25.44 215.36,25.42 216.39,25.40 217.42,25.38 218.46,25.36 219.50,25.34 220.55,25.34 221.60,25.34 222.65,25.34 223.71,25.34 224.77,25.34 225.83,25.34 226.90,25.34 227.97,25.32 229.04,25.25 230.12,25.17 231.20,25.10 232.29,25.02 233.38,24.95 234.47,24.87 235.56,24.81 236.66,24.76 237.77,24.70 238.87,24.64 239.98,24.59 241.10,24.53 242.21,24.48 243.34,24.46 244.46,24.44 245.59,24.43 246.72,24.41 247.86,24.40 249.00,24.39 250.14,24.37 251.29,24.31 252.44,24.24 253.59,24.18 254.75,24.12 255.91,24.06 257.07,24.00 258.24,23.94 259.41,23.93 260.59,23.92 261.77,23.91 262.95,23.90 264.14,23.88 265.33,23.87 266.52,23.86 267.72,23.81 268.92,23.76 270.13,23.72 271.34,23.67 272.55,23.62 273.76,23.57 274.98,23.52 276.21,23.51 277.43,23.50 278.66,23.49 279.90,23.48 281.14,23.46 282.38,23.45 283.62,23.44 284.87,23.40 286.13,23.36 287.38,23.32 288.64,23.29 289.91,23.25 291.17,23.21 292.44,23.20 293.72,23.20 295.00,23.20 296.28,23.20 297.57,23.20 298.86,23.20 300.15,23.20" fill="none" stroke="#bfbf00" stroke-opacity="0.82" stroke-width="1.05" stroke-linejoin="round"/>
<polyline points="53.87,190.04 53.91,188.82 53.95,187.66 53.99,186.53 54.04,185.40 54.09,184.28 54.14,183.18 54.20,182.13 54.25,181.08 54.31,180.04 54.37,179.00 54.43,177.96 54.50,176.93 54.56,175.90 54.63,174.87 54.71,173.85 54.78,172.83 54.86,171.82 54.93,170.81 55.01,169.80 55.10,168.79 55.18,167.76 55.27,166.72 55.36,165.66 55.45,164.58 55.55,163.48 55.65,162.38 55.75,161.28 55.85,160.18 55.95,159.07 56.06,157.96 56.17,156.83 56.28,155.69 56.40,154.53 56.51,153.34 56.63,152.15 56.76,150.95 56.88,149.75 57.01,148.55 57.14,147.35 57.27,146.14 57.40,144.96 57.54,143.76 57.68,142.55 57.82,141.31" fill="none" stroke="#ffd700" stroke-opacity="0.51" stroke-width="0.85" stroke-linejoin="round"/>
<polyline points="57.82,141.31 57.97,140.05 58.11,138.77 58.26,137.48 58.42,136.18 58.57,134.86 58.73,133.53 58.89,132.20 59.05,130.89 59.22,129.59 59.39,128.29 59.56,126.95 59.73,125.64 59.91,124.35 60.09,123.09 60.27,121.86 60.45,120.66 60.64,119.53 60.83,118.46 61.02,117.38 61.22,116.28 61.41,115.17 61.62,114.08 61.82,113.00 62.02,111.92 62.23,110.77 62.44,109.65 62.66,108.53 62.88,107.42 63.09,106.34 63.32,105.28 63.54,104.25 63.77,103.32 64.00,102.38 64.23,101.44 64.47,100.53 64.71,99.64 64.95,98.72 65.20,97.80 65.44,96.86 65.69,95.94 65.95,95.01 66.20,94.06 66.46,93.12 66.72,92.20 66.99,91.32 67.26,90.52 67.53,89.71 67.80,88.90 68.08,88.09 68.35,87.28 68.64,86.46 68.92,85.65 69.21,84.79 69.50,83.93 69.79,83.10 70.09,82.28 70.39,81.49 70.69,80.71 70.99,79.93 71.30,79.04 71.61,78.15 71.93,77.29 72.24,76.44 72.56,75.60 72.88,74.75 73.21,73.91 73.54,73.19 73.87,72.49 74.20,71.77 74.54,71.05 74.88,70.32 75.22,69.60 75.57,68.88 75.92,68.19 76.27,67.50 76.63,66.82 76.98,66.15 77.35,65.47 77.71,64.80 78.08,64.13 78.45,63.39 78.82,62.64 79.20,61.89 79.57,61.16 79.96,60.43 80.34,59.72 80.73,59.02 81.12,58.35 81.52,57.68 81.91,57.03 82.31,56.39 82.72,55.76 83.12,55.15 83.53,54.57 83.95,53.88 84.36,53.21 84.78,52.56 85.20,51.93 85.63,51.33 86.05,50.77 86.49,50.22 86.92,49.90 87.36,49.60 87.80,49.30 88.24,49.01 88.69,48.72 89.14,48.44 89.59,48.17 90.05,47.77 90.50,47.38 90.97,46.98 91.43,46.61 91.90,46.23 92.37,45.88 92.85,45.54 93.32,45.36 93.81,45.20 94.29,45.04 94.78,44.89 95.27,44.75 95.76,44.61 96.26,44.48 96.76,44.17 97.26,43.86 97.77,43.54 98.28,43.22 98.79,42.90 99.30,42.58 99.82,42.24 100.34,42.03 100.87,41.84 101.40,41.65 101.93,41.46 102.47,41.27 103.00,41.08 103.54,40.90 104.09,40.61 104.64,40.32 105.19,40.04 105.74,39.75 106.30,39.46 106.86,39.17 107.42,38.89 107.99,38.66 108.56,38.43 109.13,38.21 109.71,38.00 110.29,37.79 110.87,37.59 111.46,37.39 112.05,37.26 112.64,37.14 113.24,37.02 113.84,36.90 114.44,36.78 115.05,36.65 115.66,36.52 116.27,36.31 116.89,36.08 117.51,35.84 118.13,35.59 118.75,35.32 119.38,35.06 120.01,34.79 120.65,34.56 121.29,34.35 121.93,34.15 122.58,33.96 123.23,33.79 123.88,33.65 124.53,33.53 125.19,33.35 125.85,33.18 126.52,33.01 127.19,32.85 127.86,32.69 128.54,32.53 129.21,32.38 129.90,32.29 130.58,32.22 131.27,32.14 131.96,32.06 132.66,31.99 133.36,31.91 134.06,31.84 134.76,31.71 135.47,31.57 136.18,31.44 136.90,31.31 137.62,31.17 138.34,31.04 139.07,30.90 139.80,30.83 140.53,30.75 141.26,30.68 142.00,30.59 142.74,30.50 143.49,30.41 144.24,30.31 144.99,30.15 145.75,29.99 146.51,29.82 147.27,29.65 148.04,29.49 148.81,29.32 149.58,29.15 150.36,28.98 151.14,28.82 151.92,28.66 152.71,28.50 153.50,28.35 154.29,28.20 155.09,28.06 155.89,28.03 156.69,28.01 157.50,28.00 158.31,27.99 159.12,27.98 159.94,27.97 160.76,27.97 161.58,27.91 162.41,27.84 163.24,27.78 164.08,27.73 164.92,27.67 165.76,27.61 166.60,27.56 167.45,27.46 168.30,27.36 169.16,27.27 170.02,27.18 170.88,27.09 171.74,27.01 172.61,26.92 173.49,26.84 174.36,26.76 175.24,26.68 176.13,26.60 177.01,26.53 177.90,26.45 178.80,26.38 179.69,26.35 180.59,26.32 181.50,26.29 182.41,26.26 183.32,26.23 184.23,26.21 185.15,26.18 186.07,26.12 187.00,26.05 187.92,26.00 188.86,25.94 189.79,25.88 190.73,25.83 191.67,25.78 192.62,25.72 193.57,25.66 194.52,25.59 195.48,25.54 196.44,25.48 197.40,25.43 198.37,25.38 199.34,25.36 200.32,25.34 201.29,25.32 202.27,25.30 203.26,25.28 204.25,25.27 205.24,25.25 206.24,25.25 207.24,25.24 208.24,25.24 209.24,25.23 210.25,25.23 211.27,25.22 212.28,25.22 213.31,25.15 214.33,25.09 215.36,25.02 216.39,24.95 217.42,24.89 218.46,24.83 219.50,24.77 220.55,24.77 221.60,24.77 222.65,24.77 223.71,24.77 224.77,24.77 225.83,24.77 226.90,24.77 227.97,24.77 229.04,24.77 230.12,24.76 231.20,24.69 232.29,24.63 233.38,24.57 234.47,24.51 235.56,24.46 236.66,24.42 237.77,24.38 238.87,24.33 239.98,24.29 241.10,24.25 242.21,24.20 243.34,24.20 244.46,24.20 245.59,24.20 246.72,24.20 247.86,24.20 249.00,24.20 250.14,24.20 251.29,24.18 252.44,24.14 253.59,24.11 254.75,24.07 255.91,24.04 257.07,24.00 258.24,23.97 259.41,23.93 260.59,23.89 261.77,23.85 262.95,23.81 264.14,23.78 265.33,23.74 266.52,23.70 267.72,23.68 268.92,23.65 270.13,23.63 271.34,23.60 272.55,23.58 273.76,23.56 274.98,23.54 276.21,23.51 277.43,23.49 278.66,23.47 279.90,23.45 281.14,23.42 282.38,23.40 283.62,23.38 284.87,23.37 286.13,23.36 287.38,23.35 288.64,23.34 289.91,23.33 291.17,23.31 292.44,23.30 293.72,23.28 295.00,23.26 296.28,23.23 297.57,23.21 298.86,23.20 300.15,23.20" fill="none" stroke="#ffd700" stroke-opacity="0.92" stroke-width="1.15" stroke-linejoin="round"/>
<polyline points="53.87,186.49 53.91,185.17 53.95,183.98 53.99,182.85 54.04,181.70 54.09,180.56 54.14,179.40 54.20,178.26 54.25,177.11 54.31,175.98 54.37,174.85 54.43,173.74 54.50,172.64 54.56,171.55 54.63,170.47 54.71,169.41 54.78,168.35 54.86,167.29 54.93,166.24 55.01,165.18 55.10,164.11 55.18,163.01 55.27,161.87 55.36,160.68 55.45,159.42 55.55,158.13 55.65,156.85 55.75,155.57 55.85,154.29 55.95,153.01 56.06,151.73 56.17,150.45 56.28,149.16 56.40,147.88 56.51,146.57 56.63,145.26 56.76,143.94 56.88,142.61 57.01,141.26" fill="none" stroke="#b0e0e6" stroke-opacity="0.51" stroke-width="0.85" stroke-linejoin="round"/>
<polyline points="57.01,141.26 57.14,139.89 57.27,138.50 57.40,137.07 57.54,135.60 57.68,134.11 57.82,132.55 57.97,130.94 58.11,129.28 58.26,127.57 58.42,125.93 58.57,124.28 58.73,122.61 58.89,120.92 59.05,119.26 59.22,117.62 59.39,116.02 59.56,114.29 59.73,112.62 59.91,111.02 60.09,109.50 60.27,108.05 60.45,106.73 60.64,105.53 60.83,104.49 61.02,103.49 61.22,102.52 61.41,101.57 61.62,100.61 61.82,99.66 62.02,98.73 62.23,97.82 62.44,96.95 62.66,96.11 62.88,95.31 63.09,94.54 63.32,93.78 63.54,93.05 63.77,92.25 64.00,91.44 64.23,90.66 64.47,89.88 64.71,89.09 64.95,88.31 65.20,87.54 65.44,86.76 65.69,86.01 65.95,85.28 66.20,84.57 66.46,83.86 66.72,83.15 66.99,82.44 67.26,81.84 67.53,81.25 67.80,80.65 68.08,80.04 68.35,79.44 68.64,78.80 68.92,78.14 69.21,77.44 69.50,76.73 69.79,76.00 70.09,75.28 70.39,74.58 70.69,73.89 70.99,73.19 71.30,72.60 71.61,72.01 71.93,71.41 72.24,70.81 72.56,70.22 72.88,69.63 73.21,69.04 73.54,68.26 73.87,67.48 74.20,66.70 74.54,65.92 74.88,65.13 75.22,64.36 75.57,63.59 75.92,62.95 76.27,62.30 76.63,61.67 76.98,61.05 77.35,60.42 77.71,59.79 78.08,59.17 78.45,58.46 78.82,57.76 79.20,57.05 79.57,56.35 79.96,55.65 80.34,54.95 80.73,54.27 81.12,53.62 81.52,52.99 81.91,52.37 82.31,51.76 82.72,51.19 83.12,50.62 83.53,50.08 83.95,49.55 84.36,49.02 84.78,48.49 85.20,47.98 85.63,47.50 86.05,47.04 86.49,46.57 86.92,46.06 87.36,45.54 87.80,45.04 88.24,44.54 88.69,44.08 89.14,43.62 89.59,43.17 90.05,42.79 90.50,42.42 90.97,42.08 91.43,41.74 91.90,41.42 92.37,41.12 92.85,40.83 93.32,40.49 93.81,40.14 94.29,39.82 94.78,39.50 95.27,39.18 95.76,38.88 96.26,38.60 96.76,38.33 97.26,38.06 97.77,37.78 98.28,37.50 98.79,37.24 99.30,36.99 99.82,36.75 100.34,36.61 100.87,36.46 101.40,36.33 101.93,36.21 102.47,36.12 103.00,36.03 103.54,35.96 104.09,35.83 104.64,35.69 105.19,35.55 105.74,35.43 106.30,35.31 106.86,35.19 107.42,35.08 107.99,35.00 108.56,34.92 109.13,34.84 109.71,34.77 110.29,34.69 110.87,34.62 111.46,34.57 112.05,34.43 112.64,34.30 113.24,34.17 113.84,34.05 114.44,33.92 115.05,33.80 115.66,33.66 116.27,33.64 116.89,33.62 117.51,33.59 118.13,33.55 118.75,33.52 119.38,33.50 120.01,33.47 120.65,33.30 121.29,33.14 121.93,32.97 122.58,32.81 123.23,32.66 123.88,32.52 124.53,32.38 125.19,32.32 125.85,32.26 126.52,32.21 127.19,32.15 127.86,32.10 128.54,32.05 129.21,31.99 129.90,31.90 130.58,31.82 131.27,31.73 131.96,31.65 132.66,31.56 133.36,31.47 134.06,31.39 134.76,31.30 135.47,31.22 136.18,31.13 136.90,31.04 137.62,30.94 138.34,30.85 139.07,30.74 139.80,30.70 140.53,30.65 141.26,30.59 142.00,30.53 142.74,30.45 143.49,30.37 144.24,30.29 144.99,30.14 145.75,30.00 146.51,29.84 147.27,29.69 148.04,29.53 148.81,29.38 149.58,29.22 150.36,29.04 151.14,28.86 151.92,28.68 152.71,28.51 153.50,28.34 154.29,28.18 155.09,28.02 155.89,27.92 156.69,27.82 157.50,27.73 158.31,27.65 159.12,27.57 159.94,27.49 160.76,27.41 161.58,27.37 162.41,27.33 163.24,27.29 164.08,27.25 164.92,27.21 165.76,27.18 166.60,27.15 167.45,27.08 168.30,27.01 169.16,26.95 170.02,26.89 170.88,26.83 171.74,26.78 172.61,26.72 173.49,26.59 174.36,26.47 175.24,26.35 176.13,26.23 177.01,26.12 177.90,26.01 178.80,25.89 179.69,25.86 180.59,25.83 181.50,25.80 182.41,25.77 183.32,25.74 184.23,25.71 185.15,25.68 186.07,25.65 187.00,25.62 187.92,25.60 188.86,25.57 189.79,25.54 190.73,25.52 191.67,25.49 192.62,25.41 193.57,25.33 194.52,25.25 195.48,25.17 196.44,25.10 197.40,25.03 198.37,24.96 199.34,24.96 200.32,24.96 201.29,24.96 202.27,24.96 203.26,24.96 204.25,24.96 205.24,24.96 206.24,24.96 207.24,24.90 208.24,24.85 209.24,24.79 210.25,24.73 211.27,24.68 212.28,24.61 213.31,24.59 214.33,24.57 215.36,24.55 216.39,24.53 217.42,24.51 218.46,24.50 219.50,24.48 220.55,24.40 221.60,24.32 222.65,24.25 223.71,24.18 224.77,24.11 225.83,24.04 226.90,23.98 227.97,23.96 229.04,23.95 230.12,23.94 231.20,23.93 232.29,23.93 233.38,23.92 234.47,23.91 235.56,23.91 236.66,23.91 237.77,23.91 238.87,23.91 239.98,23.91 241.10,23.91 242.21,23.91 243.34,23.91 244.46,23.91 245.59,23.91 246.72,23.91 247.86,23.91 249.00,23.91 250.14,23.91 251.29,23.90 252.44,23.87 253.59,23.84 254.75,23.82 255.91,23.79 257.07,23.76 258.24,23.74 259.41,23.74 260.59,23.74 261.77,23.74 262.95,23.74 264.14,23.74 265.33,23.74 266.52,23.74 267.72,23.70 268.92,23.64 270.13,23.59 271.34,23.54 272.55,23.48 273.76,23.43 274.98,23.38 276.21,23.38 277.43,23.38 278.66,23.38 279.90,23.38 281.14,23.38 282.38,23.38 283.62,23.38 284.87,23.38 286.13,23.38 287.38,23.38 288.64,23.38 289.91,23.36 291.17,23.34 292.44,23.32 293.72,23.31 295.00,23.29 296.28,23.28 297.57,23.27 298.86,23.25 300.15,23.20" fill="none" stroke="#b0e0e6" stroke-opacity="0.92" stroke-width="1.0" stroke-linejoin="round"/>
<line x1="53.45" y1="206.15" x2="53.84" y2="186.49" stroke="#a8dcb6" stroke-width="1.35"/>
</g>
<line x1="53.45" y1="206.15" x2="300.15" y2="23.2" stroke="#10108a" stroke-width="1.7" stroke-dasharray="5.6 2.43"/>
<rect x="41.7" y="14.6" width="271.5" height="201.0" fill="none" stroke="#333" stroke-width="0.9"/>
<line x1="53.45" y1="215.6" x2="53.45" y2="218.29999999999998" stroke="#444" stroke-width="0.75"/>
<line x1="41.7" y1="206.15" x2="39.0" y2="206.15" stroke="#444" stroke-width="0.75"/>
<text x="53.45" y="228.90" font-size="10" text-anchor="middle" font-family='"Liberation Sans", sans-serif' textLength="14.60" lengthAdjust="spacingAndGlyphs">0.0</text>
<text x="35.30" y="210.05" font-size="10" text-anchor="end" font-family='"Liberation Sans", sans-serif' textLength="14.60" lengthAdjust="spacingAndGlyphs">0.0</text>
<line x1="102.79" y1="215.6" x2="102.79" y2="218.29999999999998" stroke="#444" stroke-width="0.75"/>
<line x1="41.7" y1="169.56" x2="39.0" y2="169.56" stroke="#444" stroke-width="0.75"/>
<text x="102.79" y="228.90" font-size="10" text-anchor="middle" font-family='"Liberation Sans", sans-serif' textLength="14.60" lengthAdjust="spacingAndGlyphs">0.2</text>
<text x="35.30" y="173.46" font-size="10" text-anchor="end" font-family='"Liberation Sans", sans-serif' textLength="14.60" lengthAdjust="spacingAndGlyphs">0.2</text>
<line x1="152.13" y1="215.6" x2="152.13" y2="218.29999999999998" stroke="#444" stroke-width="0.75"/>
<line x1="41.7" y1="132.97" x2="39.0" y2="132.97" stroke="#444" stroke-width="0.75"/>
<text x="152.13" y="228.90" font-size="10" text-anchor="middle" font-family='"Liberation Sans", sans-serif' textLength="14.60" lengthAdjust="spacingAndGlyphs">0.4</text>
<text x="35.30" y="136.87" font-size="10" text-anchor="end" font-family='"Liberation Sans", sans-serif' textLength="14.60" lengthAdjust="spacingAndGlyphs">0.4</text>
<line x1="201.47" y1="215.6" x2="201.47" y2="218.29999999999998" stroke="#444" stroke-width="0.75"/>
<line x1="41.7" y1="96.38" x2="39.0" y2="96.38" stroke="#444" stroke-width="0.75"/>
<text x="201.47" y="228.90" font-size="10" text-anchor="middle" font-family='"Liberation Sans", sans-serif' textLength="14.60" lengthAdjust="spacingAndGlyphs">0.6</text>
<text x="35.30" y="100.28" font-size="10" text-anchor="end" font-family='"Liberation Sans", sans-serif' textLength="14.60" lengthAdjust="spacingAndGlyphs">0.6</text>
<line x1="250.81" y1="215.6" x2="250.81" y2="218.29999999999998" stroke="#444" stroke-width="0.75"/>
<line x1="41.7" y1="59.79" x2="39.0" y2="59.79" stroke="#444" stroke-width="0.75"/>
<text x="250.81" y="228.90" font-size="10" text-anchor="middle" font-family='"Liberation Sans", sans-serif' textLength="14.60" lengthAdjust="spacingAndGlyphs">0.8</text>
<text x="35.30" y="63.69" font-size="10" text-anchor="end" font-family='"Liberation Sans", sans-serif' textLength="14.60" lengthAdjust="spacingAndGlyphs">0.8</text>
<line x1="300.15" y1="215.6" x2="300.15" y2="218.29999999999998" stroke="#444" stroke-width="0.75"/>
<line x1="41.7" y1="23.20" x2="39.0" y2="23.20" stroke="#444" stroke-width="0.75"/>
<text x="300.15" y="228.90" font-size="10" text-anchor="middle" font-family='"Liberation Sans", sans-serif' textLength="14.60" lengthAdjust="spacingAndGlyphs">1.0</text>
<text x="35.30" y="27.10" font-size="10" text-anchor="end" font-family='"Liberation Sans", sans-serif' textLength="14.60" lengthAdjust="spacingAndGlyphs">1.0</text>
<text x="176.70" y="247.20" font-size="12.5" text-anchor="middle" font-family='"Liberation Sans", sans-serif' textLength="113.00" lengthAdjust="spacingAndGlyphs">False Positive Rate</text>
<g transform="translate(10.3,115.0) rotate(-90)"><text x="0.00" y="0.00" font-size="12.4" text-anchor="middle" font-family='"Liberation Sans", sans-serif' textLength="107.50" lengthAdjust="spacingAndGlyphs">True Positive Rate</text></g>
<text x="177.40" y="9.20" font-size="12.5" text-anchor="middle" font-family='"Liberation Sans", sans-serif' textLength="274.30" lengthAdjust="spacingAndGlyphs">5 fold cross-validation in Lnc2Cancer dataset</text>
<rect x="179.5" y="121.6" width="128.80" height="89.2" rx="2" fill="#fff" fill-opacity="0.8" stroke="#d4d4d4" stroke-width="0.9"/>
<line x1="182.0" y1="129.00" x2="201.7" y2="129.00" stroke="#55c6be" stroke-width="1.4"/>
<text x="208.30" y="132.35" font-size="10.2" text-anchor="start" font-family='"Liberation Sans", sans-serif' textLength="94.00" lengthAdjust="spacingAndGlyphs">mean(auc = 0.9137)</text>
<line x1="182.0" y1="143.60" x2="201.7" y2="143.60" stroke="#45bdb7" stroke-width="1.4"/>
<text x="208.30" y="146.90" font-size="10.2" text-anchor="start" font-family='"Liberation Sans", sans-serif' textLength="95.60" lengthAdjust="spacingAndGlyphs">fold_1(auc = 0.9162)</text>
<line x1="182.0" y1="157.90" x2="201.7" y2="157.90" stroke="#7b9b33" stroke-width="1.3"/>
<text x="208.30" y="161.45" font-size="10.2" text-anchor="start" font-family='"Liberation Sans", sans-serif' textLength="95.60" lengthAdjust="spacingAndGlyphs">fold_2(auc = 0.9114)</text>
<line x1="182.0" y1="172.55" x2="201.7" y2="172.55" stroke="#bcbc30" stroke-width="1.3"/>
<text x="208.30" y="176.00" font-size="10.2" text-anchor="start" font-family='"Liberation Sans", sans-serif' textLength="95.60" lengthAdjust="spacingAndGlyphs">fold_3(auc = 0.9206)</text>
<line x1="182.0" y1="187.40" x2="201.7" y2="187.40" stroke="#ffd21c" stroke-width="1.3"/>
<text x="208.30" y="190.55" font-size="10.2" text-anchor="start" font-family='"Liberation Sans", sans-serif' textLength="95.60" lengthAdjust="spacingAndGlyphs">fold_4(auc = 0.9029)</text>
<line x1="182.0" y1="201.50" x2="201.7" y2="201.50" stroke="#b0e0e8" stroke-width="1.05"/>
<text x="208.30" y="205.10" font-size="10.2" text-anchor="start" font-family='"Liberation Sans", sans-serif' textLength="95.60" lengthAdjust="spacingAndGlyphs">fold_5(auc = 0.9173)</text>
</g>
<text x="38.40" y="300.00" font-size="16" text-anchor="start" font-family='"Liberation Serif", serif' textLength="44.70" lengthAdjust="spacingAndGlyphs" fill="#262626">5-fold</text>
<text x="89.80" y="300.00" font-size="16" text-anchor="start" font-family='"Liberation Serif", serif' textLength="121.20" lengthAdjust="spacingAndGlyphs" fill="#262626">cross-validation</text>
<text x="218.90" y="300.00" font-size="16" text-anchor="start" font-family='"Liberation Serif", serif' textLength="14.70" lengthAdjust="spacingAndGlyphs" fill="#262626">in</text>
<text x="240.10" y="300.00" font-size="16" text-anchor="start" font-family='"Liberation Serif", serif' textLength="64.00" lengthAdjust="spacingAndGlyphs" fill="#262626">dataset1</text>
<text x="403.40" y="300.00" font-size="16" text-anchor="start" font-family='"Liberation Serif", serif' textLength="44.70" lengthAdjust="spacingAndGlyphs" fill="#262626">5-fold</text>
<text x="454.80" y="300.00" font-size="16" text-anchor="start" font-family='"Liberation Serif", serif' textLength="121.60" lengthAdjust="spacingAndGlyphs" fill="#262626">cross-validation</text>
<text x="584.50" y="300.00" font-size="16" text-anchor="start" font-family='"Liberation Serif", serif' textLength="14.50" lengthAdjust="spacingAndGlyphs" fill="#262626">in</text>
<text x="605.80" y="300.00" font-size="16" text-anchor="start" font-family='"Liberation Serif", serif' textLength="65.90" lengthAdjust="spacingAndGlyphs" fill="#262626">dataset2</text>
<text x="8.00" y="626.30" font-size="16" text-anchor="start" font-family='"Liberation Serif", serif' textLength="44.40" lengthAdjust="spacingAndGlyphs" fill="#262626">5-fold</text>
<text x="59.60" y="626.30" font-size="16" text-anchor="start" font-family='"Liberation Serif", serif' textLength="121.70" lengthAdjust="spacingAndGlyphs" fill="#262626">cross-validation</text>
<text x="188.90" y="626.30" font-size="16" text-anchor="start" font-family='"Liberation Serif", serif' textLength="14.90" lengthAdjust="spacingAndGlyphs" fill="#262626">in</text>
<text x="210.10" y="626.30" font-size="16" text-anchor="start" font-family='"Liberation Serif", serif' textLength="126.10" lengthAdjust="spacingAndGlyphs" fill="#262626">LncRNADisease</text>
<text x="391.10" y="626.30" font-size="16" text-anchor="start" font-family='"Liberation Serif", serif' textLength="43.60" lengthAdjust="spacingAndGlyphs" fill="#262626">5-fold</text>
<text x="442.20" y="626.30" font-size="16" text-anchor="start" font-family='"Liberation Serif", serif' textLength="121.40" lengthAdjust="spacingAndGlyphs" fill="#262626">cross-validation</text>
<text x="570.90" y="626.30" font-size="16" text-anchor="start" font-family='"Liberation Serif", serif' textLength="15.70" lengthAdjust="spacingAndGlyphs" fill="#262626">in</text>
<text x="592.60" y="626.30" font-size="16" text-anchor="start" font-family='"Liberation Serif", serif' textLength="91.60" lengthAdjust="spacingAndGlyphs" fill="#262626">Lnc2Cancer</text>
<text x="172.50" y="274.80" font-size="16" text-anchor="middle" font-family='"Liberation Serif", serif' textLength="21.40" lengthAdjust="spacingAndGlyphs" fill="#262626">(a)</text>
<text x="537.70" y="274.80" font-size="16" text-anchor="middle" font-family='"Liberation Serif", serif' textLength="21.40" lengthAdjust="spacingAndGlyphs" fill="#262626">(b)</text>
<text x="172.30" y="602.20" font-size="16" text-anchor="middle" font-family='"Liberation Serif", serif' textLength="21.40" lengthAdjust="spacingAndGlyphs" fill="#262626">(c)</text>
<text x="537.70" y="602.20" font-size="16" text-anchor="middle" font-family='"Liberation Serif", serif' textLength="21.40" lengthAdjust="spacingAndGlyphs" fill="#262626">(d)</text>
</svg>
</body></html>
